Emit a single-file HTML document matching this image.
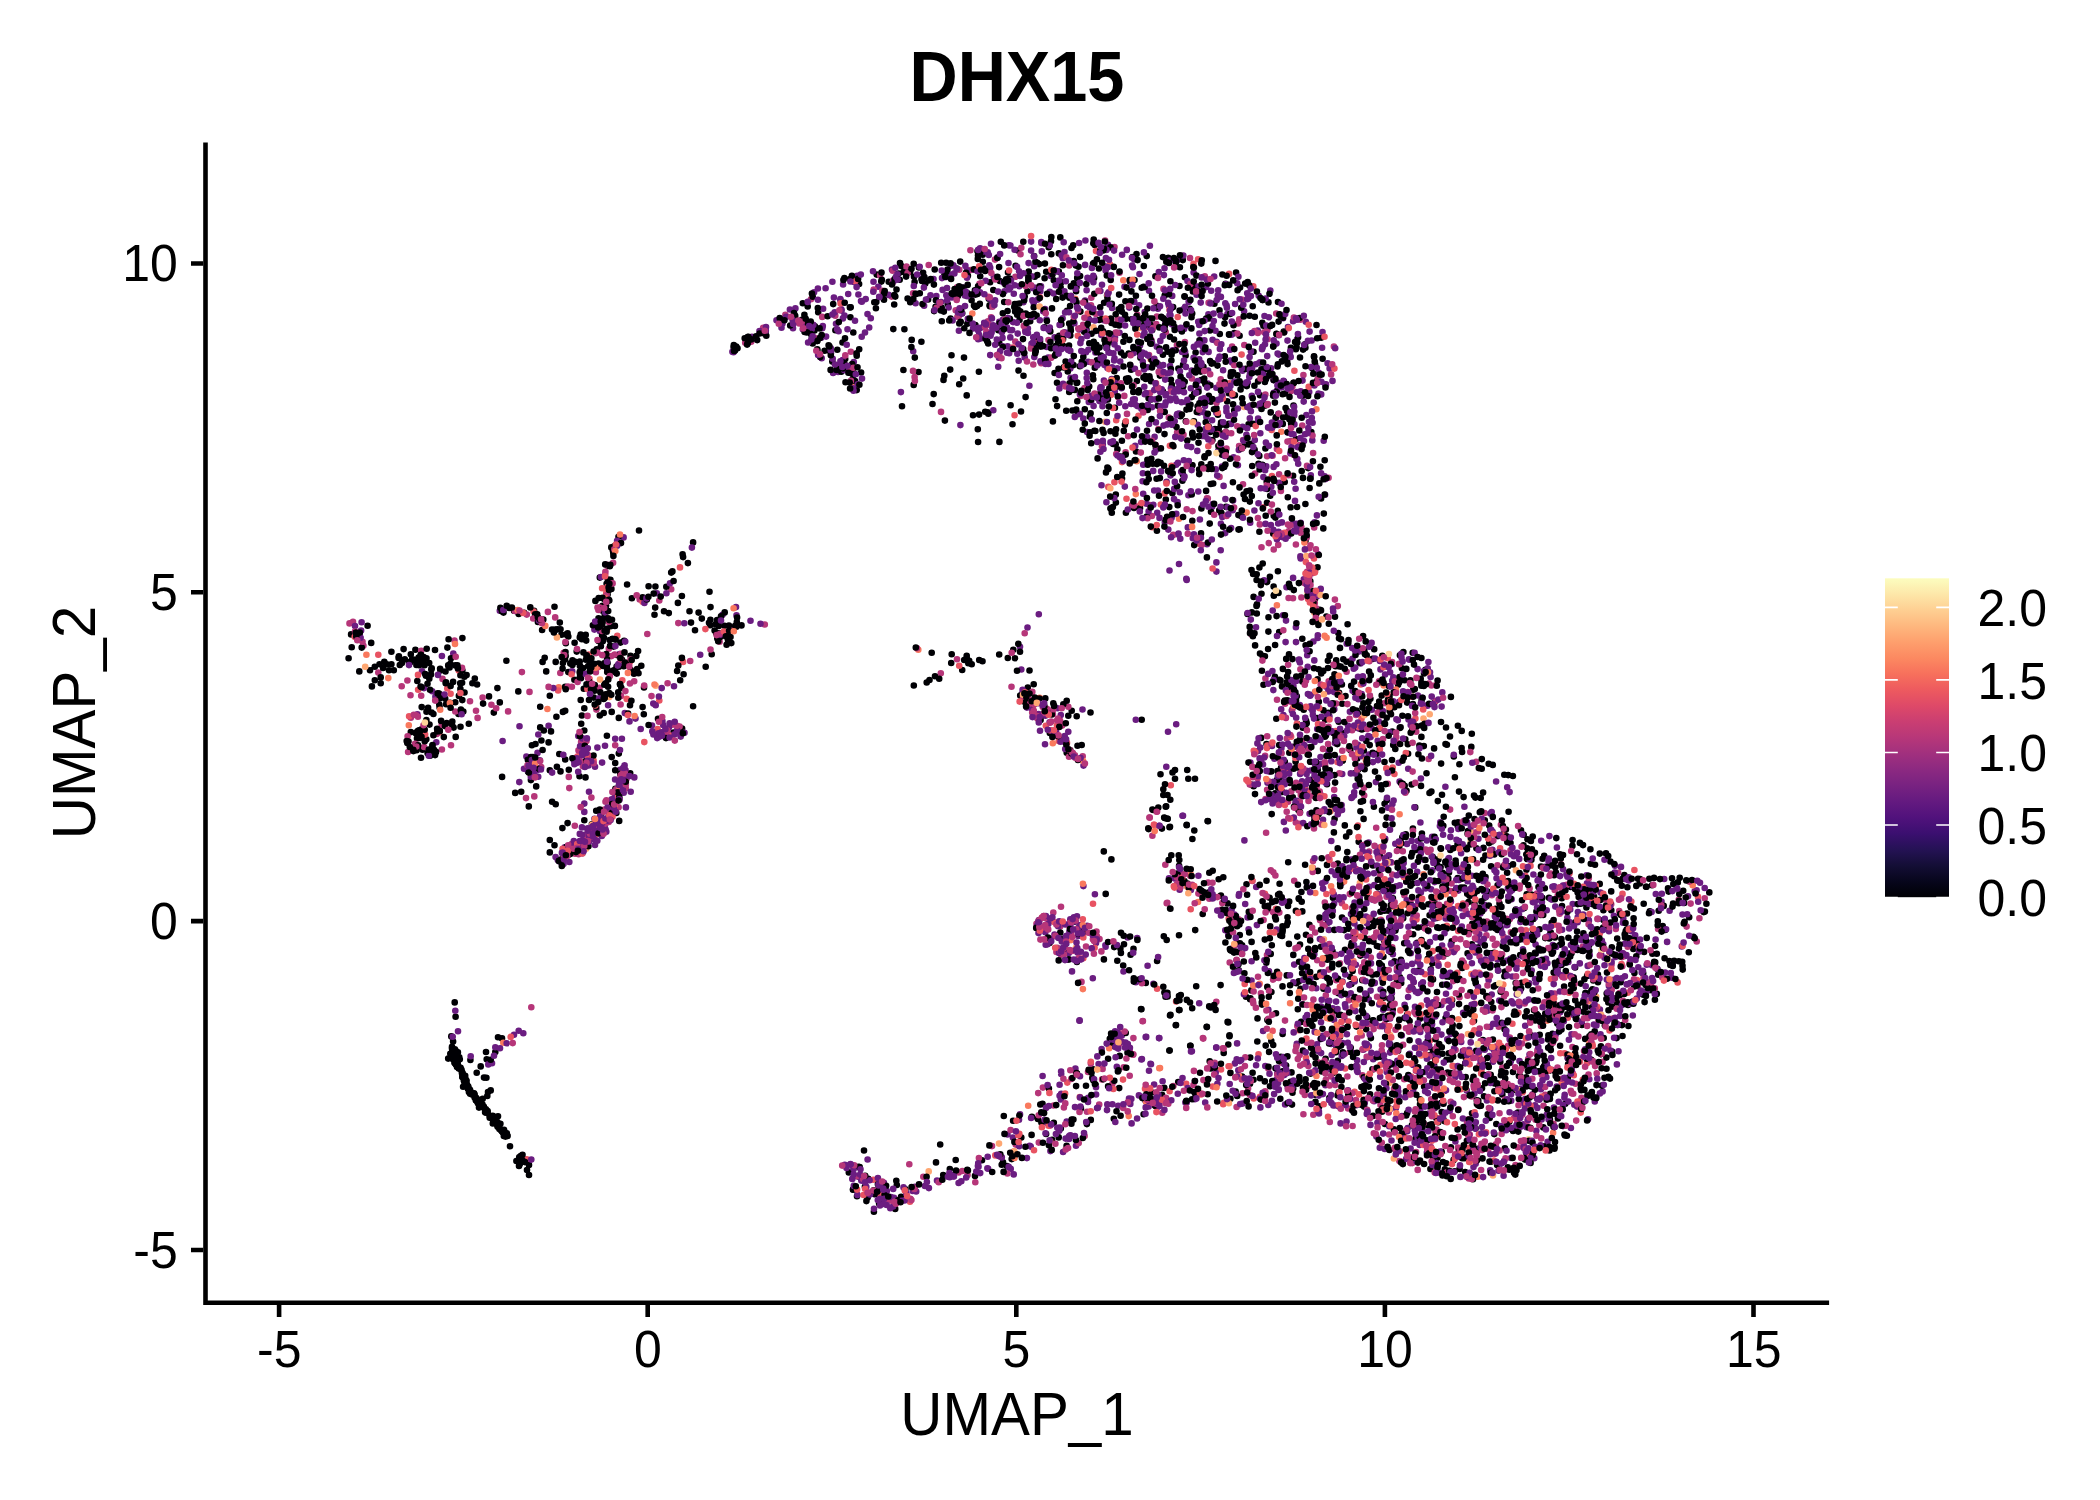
<!DOCTYPE html>
<html lang="en">
<head>
<meta charset="utf-8">
<title>DHX15</title>
<style>
html,body{margin:0;padding:0;background:#fff;}
body{width:2100px;height:1500px;overflow:hidden;}
svg{display:block;}
text{font-family:"Liberation Sans",Arial,Helvetica,sans-serif;fill:#000;}
.tk{font-size:50px;}
.ax{font-size:58.33px;}
.ti{font-size:66.67px;font-weight:bold;}
</style>
</head>
<body>
<svg width="2100" height="1500" viewBox="0 0 2100 1500">
<defs>
<linearGradient id="mg" x1="0" y1="1" x2="0" y2="0">
<stop offset="0" stop-color="#000004"/>
<stop offset="0.05" stop-color="#07061c"/>
<stop offset="0.1" stop-color="#140e36"/>
<stop offset="0.15" stop-color="#251255"/>
<stop offset="0.2" stop-color="#3b0f70"/>
<stop offset="0.25" stop-color="#51127c"/>
<stop offset="0.3" stop-color="#641a80"/>
<stop offset="0.35" stop-color="#782281"/>
<stop offset="0.4" stop-color="#8c2981"/>
<stop offset="0.45" stop-color="#a1307e"/>
<stop offset="0.5" stop-color="#b73779"/>
<stop offset="0.55" stop-color="#ca3e72"/>
<stop offset="0.6" stop-color="#de4968"/>
<stop offset="0.65" stop-color="#ed5a5f"/>
<stop offset="0.7" stop-color="#f7705c"/>
<stop offset="0.75" stop-color="#fc8961"/>
<stop offset="0.8" stop-color="#fe9f6d"/>
<stop offset="0.85" stop-color="#feb77e"/>
<stop offset="0.9" stop-color="#fecf92"/>
<stop offset="0.95" stop-color="#fde7a9"/>
<stop offset="1" stop-color="#fcfdbf"/>
</linearGradient>
</defs>
<rect width="2100" height="1500" fill="#fff"/>
<g fill="none" stroke-width="6.6" stroke-linecap="round">
<path stroke="#000004" d="M999.2 342.8h.01M1384.9 1124h.01M1475.6 1128.4h.01M1394.5 961.4h.01M431.5 752.7h.01M1386.8 800.2h.01M1507.1 872.8h.01M1392.7 1009.5h.01M804.4 314.9h.01M439 693.6h.01M1139.7 353.1h.01M1155.5 1106h.01M1336.2 660.2h.01M1270.2 926.4h.01M918.5 372h.01M1301.4 892h.01M1007.8 658h.01M1311.3 432.1h.01M864.9 1186.7h.01M502.1 776.9h.01M1489.9 953.4h.01M664 611.2h.01M1420.7 678.7h.01M1164.7 295.5h.01M1327.5 906.6h.01M440.5 670.4h.01M1482.5 1158.4h.01M532.9 757h.01M1287.5 917.2h.01M1100.9 355.6h.01M1504 833.6h.01M1191.7 397.1h.01M857 1196.2h.01M421.7 707.1h.01M1157.6 363.8h.01M1121.8 311.6h.01M1288.2 862.3h.01M1062.2 922.5h.01M1103.9 959.4h.01M1217.9 414.8h.01M1273.1 346.3h.01M1577 854.3h.01M975.4 325h.01M410.8 732.1h.01M1433.5 1162.7h.01M1341 639.2h.01M1523.5 845.3h.01M518.7 613.9h.01M1127.2 381.7h.01M1036.6 315.6h.01M1600.9 1046.3h.01M1160.6 462.7h.01M1508.6 811.8h.01M1251.8 633.7h.01M535.9 614.3h.01M1278.8 314.3h.01M1520.5 1036h.01M1407.1 702.6h.01M1207.6 821h.01M1408.1 753.8h.01M1642.8 994.6h.01M1364.6 769.2h.01M1220.9 895.6h.01M1528.1 964.9h.01M462.2 1072.4h.01M596.2 810.7h.01M1060.3 348h.01M514 610.7h.01M1372.4 1069.4h.01M1079.8 931.7h.01M539.2 618.8h.01M1186.5 409.6h.01M1433.2 842.3h.01M1466.2 847.7h.01M1265.3 379.8h.01M1293.2 1088.5h.01M1381.8 965.6h.01M1533.3 931h.01M1505.1 971.8h.01M1296.4 983.3h.01M932.5 404h.01M1227.6 903.4h.01M1310.9 1022.6h.01M530.9 780.1h.01M1297.8 756.9h.01M454.7 1002.4h.01M1077.9 414.2h.01M1257 604.4h.01M1372.7 658.9h.01M1424.8 684.1h.01M1132.4 257.1h.01M1549.3 1070.7h.01M1155.9 448.1h.01M1023.2 349h.01M1220.6 985.1h.01M1182.2 390h.01M1141.7 287.8h.01M1174.6 327.1h.01M1412.4 883.5h.01M1302.8 727.7h.01M1223.3 877.3h.01M1457.7 878h.01M1619.7 995.3h.01M1333.7 1033.2h.01M572.5 660.4h.01M1672 878.3h.01M1366.7 655.3h.01M599.8 577.6h.01M1469.5 930.4h.01M1274 595h.01M1415.5 1138.9h.01M1565.3 1103.8h.01M1182.7 380.1h.01M1248.6 424.4h.01M1201.4 508.4h.01M1587.9 1016.9h.01M607.7 565.7h.01M464.5 692.5h.01M1136 451.5h.01M426.3 739.3h.01M682.1 728.5h.01M741.5 625.4h.01M1421.5 940h.01M1268.5 302.4h.01M1429.6 915.3h.01M1337.8 863.5h.01M1403.2 918.2h.01M1189.7 308.8h.01M1464.6 867.5h.01M950.5 318.6h.01M1039.1 264.1h.01M1491 1161.7h.01M1555.2 1090.2h.01M1241 920.9h.01M1392.9 898.3h.01M1446.5 1059.8h.01M1480.9 1105.7h.01M1093 1069.2h.01M470.1 1093.7h.01M1494 952.7h.01M1266.3 962.7h.01M1366.2 1029.2h.01M1390.5 1044.9h.01M1200.8 371.6h.01M1210.1 432h.01M1476.2 1050.9h.01M1498.3 970.5h.01M861.1 372.5h.01M1323.5 1070.3h.01M1179 1010.1h.01M1455.6 860.5h.01M1243.4 446.2h.01M1643.2 973.4h.01M608.5 696.4h.01M1080 256.9h.01M1333.9 832.4h.01M1617.2 938.6h.01M1078.5 266.7h.01M1037.9 1118.9h.01M494.8 1120h.01M1417.1 1027.6h.01M1215.5 260.9h.01M472.4 683.3h.01M1094.8 244.9h.01M1044.9 263.6h.01M1580.9 983.6h.01M1288 905.9h.01M1478.8 768.1h.01M1665.3 929.9h.01M1192.2 313.5h.01M1071.7 710.8h.01M1537.4 897.2h.01M1490.7 1074.8h.01M1300.5 768.9h.01M1342.2 703.7h.01M1251.3 443.7h.01M1265.4 448.5h.01M876.7 274.6h.01M677.9 602.9h.01M1405.8 834.3h.01M1379.1 728.7h.01M1031.9 1116.9h.01M1171.4 360.5h.01M1463.6 797.1h.01M1053.8 1122.7h.01M1354.7 692.4h.01M1086.3 328.5h.01M1258.5 463.7h.01M1226 432.4h.01"/>
<path stroke="#6B1D81" d="M1288.1 535.9h.01M1345.5 1007.3h.01M1409.6 946.4h.01M1007.5 1134.5h.01M1263 764.4h.01M907.6 270.2h.01M1497.8 836.2h.01M1387.2 1030.2h.01M892 269.5h.01M1296.8 523.7h.01M1226.4 411.5h.01M1326 384.4h.01M1622.9 922.8h.01M1392.2 680.7h.01M1125.3 406.3h.01M1513.6 941.7h.01M1452.3 950.5h.01M615 796.4h.01M1572.7 904h.01M1200.7 302.6h.01M1197.3 286.5h.01M857.2 275.8h.01M1288 327.1h.01M1445.4 786.7h.01M1323 819.7h.01M1121.5 388.2h.01M1420.9 892.5h.01M1452.7 1052.6h.01M1203.7 412.3h.01M1563 1126.1h.01M1293.1 321.3h.01M656.8 593.3h.01M1114.8 391.9h.01M1391.9 664h.01M1305.8 321.7h.01M1124.5 286.7h.01M629.5 721.4h.01M577.1 853.1h.01M1111.7 379.1h.01M1107.5 368.1h.01M1595.7 1098.6h.01M1277.6 353.6h.01M1393.3 701.4h.01M1225.3 930.2h.01M1153.5 325.9h.01M1472 1095.5h.01M1155.9 422.4h.01M1216.4 571.6h.01M1489.5 1056h.01M1113.2 1042h.01M1410.7 725.1h.01M1600.5 892.6h.01M1439.9 826.1h.01M458 1031.3h.01M1070.2 1135.2h.01M1613.7 979.7h.01M1262 403.1h.01M1285.6 356.4h.01M1597.1 968h.01M1262.2 348h.01M1227.4 314h.01M1157.2 512.8h.01M1100.9 394.4h.01M1484.5 904.9h.01M1507.4 924.7h.01M1338.7 810.1h.01M1389.4 1042.6h.01M1312.3 440.4h.01M1119.5 332.7h.01M1420.1 1045.2h.01M1217.8 295.3h.01M993.8 276.9h.01M861.3 1180.6h.01M822.3 328.3h.01M1629.7 943.9h.01M1466.8 944.7h.01M1455.4 1076.9h.01M615.1 779.5h.01M1363.9 680.8h.01M1478.4 838.8h.01M795.4 308.4h.01M1346.5 1121.6h.01M584.5 839.8h.01M1179.6 889.7h.01M1539 899.6h.01M1560.2 1012.3h.01M1307.1 886.7h.01M1294.4 424.4h.01M1144.7 312.1h.01M1211.2 290.8h.01M958.9 330.7h.01M1331.4 1103.1h.01M1463.1 1012.9h.01M1156.8 346.8h.01M1508.7 888.7h.01M1281.9 522.4h.01M1307.9 694.1h.01M1031.1 1118h.01M1519.3 1005.6h.01M1212.3 506.6h.01M1430.6 677.1h.01M1160.3 340.9h.01M1541.5 949.5h.01M1321.1 473.3h.01M1364.2 965.1h.01M1358.4 699.3h.01M1047.1 1123h.01M850.8 368.5h.01M1282.8 537h.01M1109.7 352.8h.01M1339.4 1044.9h.01M1419.6 1144.9h.01M1380.6 989.5h.01M1325.1 494.8h.01M1540.9 1089.2h.01M1352.3 936.3h.01M1208.4 314.4h.01M1351.5 797.9h.01M1532.7 1062.1h.01M1331.7 906.2h.01M1353.6 1053.1h.01M1104.5 365.1h.01M1458.4 890.6h.01M1573.5 977.5h.01M840.4 300.2h.01M1131.2 404h.01M1066.7 1121.5h.01M1283.1 615.2h.01M1377.5 893.9h.01M853.8 362.1h.01M582.5 853.2h.01M1057.2 349h.01M1420.9 778.5h.01M1061.2 1093.8h.01"/>
<path stroke="#B63679" d="M1036.5 923.7h.01M1040.4 939.6h.01M1291.2 391.1h.01M1381.7 1050.5h.01M1295.8 822.5h.01M596 653.1h.01M1435.3 898.1h.01M1328.7 681.2h.01M885.7 1194.4h.01M1450.7 1101.7h.01M1476.2 761.8h.01M1541 1026h.01M1092.9 939.2h.01M1554.6 993.5h.01M1361.4 765.8h.01M1509.8 1037.5h.01M1355.8 868.8h.01M1180.6 874.5h.01M1369.5 938.7h.01M1084.5 388.1h.01M1288.6 531.3h.01M1149.8 505.1h.01M1032.2 712.5h.01M1381.3 715.3h.01M1459.5 997.3h.01M1503.9 941.4h.01M1307.6 790.9h.01M1332.1 689.6h.01M1328 1064.7h.01M1367.9 1024h.01M1123.7 1067.2h.01M671.2 589.3h.01M1165.3 864.7h.01M410.8 717.8h.01M835.3 315.7h.01M1501.4 1007.1h.01M1060.1 739.4h.01M785.4 314.7h.01M1316.7 763.1h.01M611.5 656.1h.01M596.4 709.6h.01M1557.5 1067.6h.01M1304.8 1095h.01M1468.6 1119.2h.01M1530.6 1035.2h.01M1300.9 533h.01M1431.4 1054.8h.01M1119.6 1033.3h.01M1397.4 922.8h.01M1327 951.2h.01M639.7 599.4h.01M1495.9 1144.4h.01M1455.6 1050.1h.01M1299.6 445.1h.01M1255.1 473.5h.01M1087 1111.8h.01M1335.3 1085h.01M867.7 1196.4h.01M1267.1 789.8h.01M763.2 327.7h.01M1243.1 440.1h.01M1404.4 895.3h.01M1363.3 873.3h.01M1299.7 823.8h.01M441.7 725h.01M1479.5 1065.6h.01M1238.7 952h.01M560.3 673h.01M629.9 683.5h.01M891.6 296.6h.01M1219.5 476.9h.01M1313.3 1114.7h.01M1399.1 924.1h.01M1391.5 862.5h.01"/>
<path stroke="#E85362" d="M1151.4 463h.01M1336.4 1030.2h.01M450.6 693.8h.01M596.2 834.6h.01M1050.2 357.9h.01M458.7 670.5h.01M1152.1 527.3h.01M1460.8 1089.2h.01M1117 1034.3h.01M1432.7 951.1h.01M590.9 757.3h.01M1223.2 1104.2h.01M1067.3 1082.6h.01M1479 972.9h.01M1360.8 684.4h.01M1429.8 1040.7h.01M593.6 760.5h.01M1609.5 1030.4h.01M1058.7 741.1h.01M1612.6 1018.6h.01M1310.4 1073.3h.01M1264.9 893.9h.01M1380.1 727.7h.01M995.3 1155.4h.01M1049.5 942.6h.01M1486.1 1132.4h.01M1013.9 1151.5h.01M1698 896.9h.01"/>
<path stroke="#FEA772" d="M1014.4 1151.3h.01M1389.4 1082.9h.01M895.5 1202.3h.01"/>
<path stroke="#F9795D" d="M1330.5 811.2h.01M1150.6 359.3h.01"/>
<path stroke="#000004" d="M1230.4 1098.8h.01M1410.9 904.5h.01M1369.1 927.2h.01M1337 800.2h.01M1329.7 770.2h.01M1093.3 379.2h.01M1338.5 993.2h.01M1293.6 746.7h.01M1240.1 287.6h.01M1645.7 985.1h.01M1442.4 909.8h.01M1042.5 1103.9h.01M1004.2 302h.01M1388 699.7h.01M1544.8 888.2h.01M1183.5 328.2h.01M1291.5 1072.4h.01M1008 272.6h.01M1438.4 859.4h.01M1654.9 999.8h.01M493.7 1122.1h.01M1513.4 1089.9h.01M960.9 292.5h.01M1275.9 919.5h.01M1379.1 920.5h.01M1252.7 306.2h.01M731.3 643.1h.01M1539.5 929.3h.01M1596.5 1085.1h.01M1526.6 1154h.01M1225.5 283.9h.01M1399.2 908h.01M421.5 729.4h.01M1526.3 1077.3h.01M1262.7 563.5h.01M466.1 1085.1h.01M1219.8 334h.01M1475.1 929.7h.01M1354.7 727.6h.01M1464.6 1014.9h.01M1385.6 824.9h.01M1200 1072.7h.01M453.9 1050.1h.01M962.2 670h.01M1347.3 852.1h.01M1434.5 702.6h.01M1437.8 911.9h.01M859.1 284h.01M1114.9 407.7h.01M1151.1 399.5h.01M989.6 305.3h.01M944.3 275.5h.01M1094.4 430.8h.01M1606 853.4h.01M1589.1 945.2h.01M1050.7 713.6h.01M1464.1 887.6h.01M1476.4 919.2h.01M1106.8 413h.01M638.1 651h.01M1531.4 859.7h.01M1508.4 866h.01M1340.5 1014.7h.01M1464.5 1157.2h.01M1090.5 712.5h.01M1027.8 687.5h.01M1108.5 320.8h.01M934.1 311.1h.01M853.8 373h.01M1087.9 305.8h.01M1396.7 982.6h.01M1157 305.8h.01M1383.3 991.8h.01M1136.7 318.2h.01M1165.8 499.5h.01M1361.4 767.4h.01M489.7 1117.7h.01M1343.9 1028.6h.01M1149.4 376.3h.01M1424.1 1164h.01M579.5 776.2h.01M1056 353.6h.01M1590.8 863.7h.01M1337.8 1060.7h.01M619.2 820.9h.01M518.3 691.4h.01M1382.3 655.8h.01M1124 944.2h.01M1323.3 670.9h.01M693.1 542.4h.01M1172.4 493.2h.01M1266.5 880.8h.01M1211 511.7h.01M1543.3 1127.4h.01M1320.1 1016.1h.01M1436.4 1118.2h.01M642.6 707.1h.01M1201.2 380h.01M1403.4 652.1h.01M1302.3 911.4h.01M612 619.7h.01M1413.2 689.7h.01M837.3 349.8h.01M832.3 361.6h.01M426.4 720h.01M1306.7 723.2h.01M1625.7 931.4h.01M1413.2 721.6h.01M1088.5 318.7h.01M1184.7 381.8h.01M1076.9 961.9h.01M1318.7 669.2h.01M1267.8 376.2h.01M1607 972.6h.01M1111.5 322.9h.01M1285.2 782.1h.01M1222 454.8h.01M1272.3 902.1h.01M1191.4 328.4h.01M1437.5 1157.7h.01M980.2 276.3h.01M417.3 681h.01M1167.6 996.4h.01M1239.6 335.7h.01M1582 890.1h.01M1164.5 434.1h.01M1688.8 952.3h.01M1415.9 850h.01M1611.5 999.3h.01M456.8 1060.5h.01M1632.7 1001.6h.01M1305.5 540.7h.01M464.9 1081.5h.01M1535.7 1017.9h.01M858.4 1166.8h.01M1511.3 1128.9h.01M1330.7 804.7h.01M1400.6 1064.9h.01M1526.4 869.7h.01M1129.7 301.5h.01M1402.2 865.2h.01M1358 769.8h.01M1380.4 911.8h.01M783.3 319.7h.01M462.3 1077h.01M421 757.8h.01M449.6 667.4h.01M1550.5 1045.5h.01M1180 881.6h.01M1472.3 923.8h.01M811.9 336.4h.01M1080.1 276.1h.01M600.1 817.5h.01M1185.8 421.3h.01M1497.1 1165h.01M1611.3 910.3h.01M1580.6 903.7h.01M1432.8 1050.1h.01M1014.8 304h.01M1289.3 752.8h.01M975 1175.9h.01M1327 864.9h.01M888.7 281.7h.01M1440 1132.7h.01M1015.1 311.5h.01M1305.4 347.7h.01M1262.6 655.7h.01M1384.1 940.4h.01M1452.7 1025h.01M1413.1 934.3h.01M480.7 1066.4h.01M842.5 342.5h.01M1241.9 953.8h.01M1247.5 614h.01M1270.2 495.7h.01M425.9 675.7h.01M1286.1 1065.5h.01M736.8 622.1h.01M583.8 688.8h.01M1612.1 1006.6h.01M1384.6 666.8h.01M1591.3 1059.8h.01M1437.1 864.7h.01M1545.3 1013.6h.01M1295.9 349.3h.01M1228.8 423.9h.01M1296.8 741.7h.01M1573.3 948.8h.01M1622 1025.1h.01"/>
<path stroke="#6B1D81" d="M1023.4 302.2h.01M1187.8 527.4h.01M1348 1090.2h.01M1009.2 289.4h.01M1321.1 1053.1h.01M1535.8 1018.1h.01M538.2 776.8h.01M1303.7 401.6h.01M1010.7 1168.9h.01M722.5 614.8h.01M1378.5 896.3h.01M1099 363.5h.01M1038.8 614.2h.01M1480.7 942.4h.01M1342.4 866.3h.01M928.9 1188.1h.01M1057.5 708.3h.01M1388.9 890.1h.01M853.9 281.9h.01M1417.2 871.8h.01M1594.8 1101.4h.01M1578.7 1101.8h.01M1545.9 1129.5h.01M1440.9 911.5h.01M1336.1 954.8h.01M1146.4 464h.01M853.4 1167.4h.01M1340.6 1123.4h.01M1438.8 896.5h.01M1216.4 562.4h.01M1390.6 1108.8h.01M1232.7 510.3h.01M1618.5 1051.2h.01M1269.2 771.6h.01M1180.3 538.8h.01M1213.3 897.8h.01M1272.6 803.4h.01M1306.8 770.8h.01M1105.6 270.4h.01M1336.1 1001.6h.01M1263 374.1h.01M1050.7 275.9h.01M1045.7 944.8h.01M1232.1 362.4h.01M865.7 299.1h.01M1247.6 917.4h.01M978.2 330.4h.01M1070.6 330.6h.01M1526.3 938.6h.01M1587.7 965.9h.01M1694.7 891.3h.01M1652 965.2h.01M1381.2 925.7h.01M624.8 713.1h.01M575.6 848.5h.01M1038.5 933.1h.01M1257.7 330.5h.01M1153.4 983.8h.01M1370.6 737.1h.01M1485.1 1133.6h.01M605.9 820.4h.01M1534.3 1158.2h.01M1086.8 372.7h.01M1436.2 904.8h.01M1492.4 849.8h.01M998.9 357.7h.01M1316.3 988.3h.01M1613.9 915.7h.01M1086.7 335.8h.01M1198.5 388.6h.01M1215.5 330.7h.01M759.5 331.1h.01M1307.8 971.3h.01M1321.1 795.4h.01M1441.4 1034.6h.01M605 745.7h.01M1273.6 380.1h.01M613.6 808.8h.01M1410.4 684h.01M1149.3 1098.8h.01M1199.4 333.6h.01M1430 672.3h.01M1362.9 944.9h.01M1531.7 970.6h.01M1408.9 659.2h.01M1318.8 372.7h.01M700.2 654.8h.01M1368.8 1046.2h.01M980.1 248.2h.01M1325.4 1085.3h.01M1282.7 902.5h.01M1450.1 972.8h.01M1549.4 836.1h.01M1250.4 762.5h.01M1329.6 368.6h.01M1297.3 459h.01M602.2 831.6h.01M1179.6 385.9h.01M1135.2 445.9h.01M1310.6 706.2h.01M1412.7 979h.01M1601.9 940.9h.01M1696.6 890.3h.01M1300.7 558.5h.01M653.3 703.6h.01M1206.2 287.1h.01M1154.5 452.5h.01M1112.1 367.4h.01M1324.6 476.4h.01M1671.7 977.8h.01M1313.7 402.6h.01M1275 784.2h.01M1588.5 919.9h.01M996.8 339.5h.01M1354 795.6h.01M1168.9 305.5h.01M1022.4 693.2h.01M1435.9 1162.9h.01M1342 882.8h.01M1479.4 1057.7h.01M1391.3 900.3h.01M1406.2 1130.2h.01M1328.9 929.9h.01M1199.2 1003.3h.01M1101.6 1049h.01M1124.8 486.6h.01M1384.7 1149h.01M619.7 791.7h.01M1621 866.9h.01M1079.5 1020.7h.01M1395.4 938h.01M1388.9 1044.6h.01M533.3 763.6h.01M1149 290.7h.01"/>
<path stroke="#B63679" d="M1450.1 809.6h.01M1054.2 735.8h.01M1288.1 801.8h.01M1611.2 904.3h.01M808.8 329.1h.01M1239.2 319.4h.01M1041.2 363.2h.01M1294 455h.01M1279.1 474.2h.01M1158.4 429h.01M1071.3 1078.9h.01M1163.5 288.9h.01M599.5 687.9h.01M1252.4 881h.01M1042.9 1087.6h.01M1386.6 896.7h.01M1459.9 1157h.01M353 621.9h.01M1046 925.4h.01M571.7 844h.01M1507.7 1084h.01M1454.6 1066.7h.01M1114.5 247h.01M1285.1 703.7h.01M1346.1 1126.3h.01M1356 1100h.01M1699.4 918.2h.01M1450.6 891h.01M1678.7 899.9h.01M1222.3 903.1h.01M1554.7 889.9h.01M1435.8 701h.01M1152.4 835.8h.01M607.2 564.9h.01M1582.7 946.7h.01M995 259.6h.01M958.7 1172.5h.01M1463.8 962.7h.01M1080.7 395.9h.01M1502.3 1067.5h.01M1580.9 938.2h.01M1381.6 850.9h.01M1564.2 977.5h.01M1362.4 1075.2h.01M1508.1 1045.8h.01M1186.5 421.7h.01M1388.7 886.3h.01M1395.5 1029.7h.01M1341.7 1028.9h.01M1535.5 1119.8h.01M1538.2 988.5h.01M1081.5 981.9h.01M1386.8 856.8h.01M1117.7 319.4h.01M1415.9 1070.7h.01M1435.8 1048.7h.01M1436.5 1129.5h.01M1400.5 866.8h.01M1214.2 514.8h.01M1455.3 922.6h.01M1257.6 778.2h.01M1374.3 1069.1h.01M1388.7 1112.5h.01M1619 899.7h.01M1554.7 1036.7h.01M1472.8 1058h.01M728 632.6h.01M1293.9 317.5h.01M1455 950.1h.01"/>
<path stroke="#E85362" d="M580.7 737.1h.01M1518.7 963.7h.01M1108.3 486.9h.01M439.3 732.5h.01M610.6 812.4h.01M1384.4 882.4h.01M1412.3 696.7h.01M1446.8 925.9h.01M1345.2 1068.5h.01M855.2 281.3h.01M1337.4 762h.01M1415.8 1117.9h.01M1440.6 1092h.01M1324.4 796.3h.01M659.3 700.5h.01M1494 1160.7h.01M1077.8 335.7h.01M1380.5 1064.7h.01M1550.9 979h.01M1481.2 1073.6h.01M1145 1088.8h.01M598.6 667.1h.01M1109.9 264.3h.01M1586.9 1063.3h.01M1363.9 1099.5h.01M617.3 635.9h.01"/>
<path stroke="#F9795D" d="M1304.4 542.6h.01M1553.1 1132.7h.01M1299.4 996.2h.01M854.5 385.5h.01M1128.7 1116.1h.01M1276.9 605.3h.01M1344.1 881.4h.01M1481.8 922.3h.01M1433.8 1151.1h.01"/>
<path stroke="#FEA772" d="M1596.2 996.8h.01M1323.9 939.3h.01M1409.4 1094.6h.01"/>
<path stroke="#6B1D81" d="M606.3 831.7h.01M1024.3 697.8h.01M1156.6 449.4h.01M1488.5 837.7h.01M1045.3 715.7h.01M1258 751.1h.01M1070.3 919.4h.01M621.9 738.8h.01M1419.3 1080.7h.01M1143 1096.9h.01M1086 352.3h.01M1008.8 245.2h.01M1347.2 958.1h.01M609.1 814.5h.01M623.6 537.4h.01M825.6 288.2h.01M1266.3 466.4h.01M605 824.7h.01M1117.4 1032.7h.01M1567.3 917.7h.01M1391.9 993.3h.01M1431.1 889.3h.01M1323.7 440.8h.01M1190.9 889.9h.01M1295.9 627.2h.01M1511.2 1100.8h.01M1426.9 1152.5h.01M1349.9 711.8h.01M1274.4 758.8h.01M1279 781.3h.01M963.7 287.5h.01M1352.6 690.7h.01M1384.7 867.8h.01M1161.1 471.4h.01M1276.2 1079.9h.01M1103.9 380.5h.01M1341.3 1066.2h.01M1121.8 1035.5h.01M1513.9 856.2h.01M1390 711h.01M422 671.3h.01M578.2 771.7h.01M1088.2 361.7h.01M1250.2 522.7h.01M1496.5 878.2h.01M1118.2 1105.8h.01M1428.4 662h.01M1620.9 1003.9h.01M1179 413.6h.01M826.1 336.6h.01M1420.4 1110h.01M1144.7 394.3h.01M1353.5 1053.3h.01M1103.7 357.1h.01M924.9 1186h.01M832.4 281.7h.01M526.4 756.5h.01M1281.4 748.2h.01M1024.1 353.1h.01M1220.9 296.9h.01M1289.4 525.2h.01M1080 934.7h.01M1569.2 872.5h.01M1447.3 1039.3h.01M1586.2 1007.1h.01M1389 855.2h.01M1510.4 958.8h.01M1432.3 870.4h.01M1007 352.7h.01M1341.7 1056h.01M867.6 1159.5h.01M883.9 1182.9h.01M1387.6 1007.7h.01M1392.9 954.2h.01M858.9 1176.9h.01M1300.4 556.4h.01M1217.2 475.6h.01M1080.4 343.1h.01M1333.5 897.8h.01M1070.6 377.8h.01M789.9 309.5h.01M1103.9 320.2h.01M1218.3 450.5h.01M1356.4 747.5h.01M991.6 332.5h.01M1533.4 874.5h.01M980.6 338.5h.01M1359.8 870.2h.01M1157.9 308.7h.01M1549.8 1000.8h.01M1102.8 444.3h.01M894 1197.9h.01M1313.4 641.5h.01M1413.2 1089.6h.01M1361.4 877.2h.01M1334.1 1019.9h.01M1328.5 751.9h.01M1045.3 932.3h.01M623.7 792.8h.01M1287.2 1073.1h.01M1523.6 1124.4h.01M1263.8 404.4h.01M1563.1 869.3h.01M1019 1119.7h.01M1567.7 1017.1h.01M1216.6 341.8h.01M1434.6 882.1h.01M1455.8 918.8h.01M951.1 274.5h.01M1525.1 1083.7h.01M1176 875h.01M1406.3 881.8h.01M1419.6 991.7h.01M882 296.6h.01M1034.2 287.6h.01M1108 244.9h.01M1425.9 1054.9h.01M1383.4 1095.6h.01M1380.5 669.4h.01M1234.9 1063.4h.01M1342.2 774h.01M1454.1 1048.6h.01M846.7 344.8h.01M1485.2 959.6h.01"/>
<path stroke="#000004" d="M455.8 1063.2h.01M1134.6 460.6h.01M929.5 680h.01M476.7 1072.7h.01M1522 900.3h.01M940.2 1144.5h.01M1373 1115.9h.01M490.7 1090.4h.01M1614.2 876.3h.01M1242.1 1076.5h.01M452 1046.8h.01M1204.2 378.5h.01M1364.1 1106.6h.01M853 1189.8h.01M1061.3 282.2h.01M1654.1 964.8h.01M1420.5 1114.8h.01M1122 478.5h.01M1298.2 998.8h.01M1333 897.7h.01M448.9 666.2h.01M1434.1 1065.3h.01M1406 1094.3h.01M1250 1083.8h.01M1317.1 718h.01M570.3 663.4h.01M1363.1 636h.01M877.2 1191.4h.01M1267.3 986.9h.01M1254.6 449.9h.01M1278 302h.01M1190.5 404.7h.01M1273.8 595.7h.01M1399.9 655.3h.01M1423.2 906.8h.01M1654 877.9h.01M1210.8 1068.5h.01M1175.8 1025.3h.01M1376.9 1067.7h.01M1499.5 903.6h.01M1427.8 958.8h.01M1549 897.8h.01M1261.1 737.9h.01M1390 949.4h.01M1533.4 918.9h.01M1315 1094.7h.01M1622.5 1036h.01M1141 1009h.01M1446.7 928.6h.01M895.2 1208.9h.01M1161.9 828.6h.01M1383.2 935.9h.01M1058.8 271.6h.01M892.6 281.9h.01M1175.9 262.6h.01M1076.5 302.4h.01M1250.3 405.7h.01M1478.9 919.6h.01M1427.4 1022.1h.01M1110.7 508.8h.01M1616.9 1002.5h.01M458.5 714h.01M1328.1 922.5h.01M1321.1 498.4h.01M1064.6 951.9h.01M1597.9 974.6h.01M1052.1 1139.9h.01M1458 826.3h.01M1279.2 745h.01M1515.2 1040.1h.01M847.7 369.4h.01M455.6 1016.7h.01M1654.2 961.7h.01M853.3 332.5h.01M845.1 365.1h.01M1591.5 1093.4h.01M1083 932.6h.01M1070.3 750.2h.01M1345.3 869.4h.01M1169.5 1050.5h.01M982 1160.2h.01M410.7 662h.01M1362.3 980.3h.01M1192.3 434.2h.01M607 659.4h.01M568.8 769.8h.01M733.6 347.3h.01M470.4 1060h.01M1266.5 744.1h.01M1113.8 1118.8h.01M1271.7 814.1h.01M1276.8 391h.01M1482.9 1040.1h.01M1224.1 899.4h.01M944.9 420.6h.01M1484.8 820.2h.01M1217.5 365.6h.01M1543.8 1066.8h.01M1273.6 380.1h.01M1162 1094.7h.01M1449.8 976.8h.01M1015 658.3h.01M1155.5 307.3h.01M1361.4 727.2h.01M1363.8 1077.2h.01M1134.5 280.1h.01M431.6 712.5h.01M1121 932.7h.01M673.5 732.5h.01M1413.2 1082.2h.01M1348.5 640.1h.01M1395.3 749h.01M1548.4 1035.4h.01M367.6 625.7h.01M1076.1 1086.1h.01M1315.1 364.3h.01M1471.1 1127.3h.01M1506.6 948.9h.01M1350.2 1052h.01M506.3 1135.8h.01M1264.9 656.3h.01M1321.1 337.7h.01M1294 701.6h.01M1532.8 929.4h.01M1206.4 1080.5h.01M1182.9 474.4h.01M429.5 724.6h.01M1535.9 1063h.01M630.5 655.7h.01M505.5 1136.6h.01M1194.2 393.7h.01M1144.6 321.7h.01M1102 318.7h.01M1616.3 985.9h.01M1428.6 1125.6h.01M1416.3 1094.7h.01M1651.3 990.3h.01M1505.1 971.8h.01M1494.6 1083.5h.01M534.1 610.8h.01M1551.7 922.7h.01M1406.5 790.7h.01M450.4 663.9h.01M1590.4 849.3h.01M607.2 671.9h.01M1269.9 576.8h.01M735 350.6h.01M460.5 726.7h.01M524.1 612.7h.01M1501.2 921.6h.01M1040.3 1104.5h.01M1555.9 968h.01M1310.3 581.3h.01M630 705.3h.01M1500.9 1053.4h.01M590.1 685.1h.01M910.1 271.9h.01M984.2 326h.01M1213.2 483.5h.01M1441.3 1102.8h.01M1470.3 1053h.01M1470.5 895.5h.01M1335.8 682.5h.01M1106.8 275.5h.01M1303.1 349.6h.01M1598 982.3h.01M586.2 640.6h.01M485.7 1110.9h.01M956.7 268.6h.01M1412.7 652.8h.01M453.1 681.9h.01M1165.5 996.8h.01M494.7 1119.6h.01M1229.5 1036.2h.01M462.1 682.8h.01M1117.9 1071.4h.01M1452.2 1028.4h.01M1432.4 963.2h.01M1212.7 870.7h.01M1453.8 756.5h.01M1271.4 992.1h.01M1592.2 904.1h.01M1342.6 733.1h.01M1438 866.9h.01M1093.7 341.7h.01M602.5 605.9h.01M964.3 328.2h.01M1478.4 1148.8h.01M1193.9 421.3h.01M852.2 364h.01M1434.2 880.8h.01M1474.4 979.1h.01M1538.3 962h.01M614.9 639.3h.01M1284.8 761.7h.01M462.4 670.6h.01M1215.6 1009.9h.01M1282.8 423.9h.01M818.2 312.3h.01M1610.5 992.1h.01M1246 996.8h.01M1120.6 1115.7h.01M450 702.8h.01M549.8 770.2h.01M433.4 714h.01M987.6 412.3h.01M600.7 814.2h.01M1273.7 515.7h.01M1282.9 668.9h.01M1395.4 930.6h.01M710.2 625.3h.01"/>
<path stroke="#B63679" d="M1334.9 599.6h.01M923.3 1176.7h.01M1241.7 299.6h.01M1112.5 1083.5h.01M1430.9 983.9h.01M1090.8 1063.6h.01M526 798.1h.01M1589.3 893.9h.01M568.8 776.9h.01M613.2 801.5h.01M1564.7 885.5h.01M1447 903.8h.01M578.6 854.3h.01M1319.7 791.6h.01M1162.3 1112.7h.01M1533.5 901.9h.01M363.4 645.8h.01M874.3 1193.9h.01M970.5 270.1h.01M1272.6 455.8h.01M1149.5 817.5h.01M613.1 562.8h.01M1325.8 1079.9h.01M1025.2 330.2h.01M1371 863.4h.01M1260.9 993.3h.01M1038.4 921h.01M1484.6 813.1h.01M1427.2 1149.1h.01M1611.7 989.7h.01M1296.1 782.9h.01M599.8 607.6h.01M1342.3 750.7h.01M955.7 310.3h.01M378.3 672.6h.01M1304 997.5h.01M1407.5 1078.7h.01M957.2 287.4h.01M1615.8 929h.01M1431.9 902.4h.01M1287.5 441.6h.01M1061.1 954.7h.01M1404.2 1079.3h.01M1517.3 1122.2h.01M1212.5 882.7h.01M1007.4 1173.5h.01M910.4 1198.7h.01M1119.8 323.6h.01M1416.2 731.8h.01M1394 1088.8h.01M1387.8 783.8h.01M1261.5 547.2h.01M1362.7 1049.7h.01M868.7 1194h.01M608.8 648.7h.01M1179.8 878.1h.01M1207 498.3h.01M1380.5 1105h.01M1474.2 837h.01M892.7 270.8h.01M1643.5 978.1h.01M1037.4 718.5h.01"/>
<path stroke="#E85362" d="M1132.5 447.6h.01M1627.7 992.8h.01M1065.1 1093.5h.01M1677.6 982.4h.01M1366.1 879.4h.01M409.1 716.2h.01M1212.8 1086.6h.01M358.1 634.6h.01M1504.5 835h.01M1525.3 875.9h.01M910 1201.7h.01M1337.8 685.8h.01M425.1 734.6h.01M1253.3 286.4h.01M1458.2 930.9h.01M1085 927.9h.01M1387.8 658.2h.01M1547.8 1071h.01M1411.2 1076.6h.01M1229.6 383.3h.01M642.6 601.7h.01M1186.2 1083.7h.01"/>
<path stroke="#F9795D" d="M1160 1068h.01M1458.3 1019.3h.01M1198 902h.01M1239 1076.1h.01M1336.9 1024.8h.01"/>
<path stroke="#FEA772" d="M1468 1034h.01M607.2 630.5h.01M609.3 697.1h.01M1140.2 327.8h.01M1390.1 1035.1h.01M586.1 848.7h.01"/>
<path stroke="#B63679" d="M1148.6 327.2h.01M1334.2 789.8h.01M1335.7 1105.5h.01M1062.1 725.6h.01M898 1201.9h.01M1345 1053.6h.01M1517.9 1147.3h.01M1295.9 544.5h.01M1105.1 240.6h.01M882.1 1191.1h.01M407.6 736.2h.01M856.3 1176.3h.01M1467 1122.3h.01M1463.9 1097.1h.01M455.3 711.5h.01M1294.2 880.7h.01M1491.9 895.2h.01M1514.2 1117.8h.01M1637.9 986.3h.01M529.5 691.9h.01M1056.4 952h.01M621 695.9h.01M576 757.9h.01M1060.1 926.5h.01M1455 1156.4h.01M1156.9 316.6h.01M1219.4 510.3h.01M1399.4 1161.1h.01M1392.4 930.3h.01M611.3 806.8h.01M1349.8 894.1h.01M1561 864.3h.01M1406.9 1078.3h.01M1243 484.2h.01M1451.8 946.4h.01M959 315.8h.01M1431.6 1016.6h.01M1250 1095h.01M1619.2 911.1h.01M1312.7 867.8h.01M1488.3 1149.3h.01M1537.4 1050.4h.01M1435.5 1131.5h.01M1036 341h.01M1179 873.7h.01M1392.8 1079.9h.01M1379.6 1026.2h.01M888 1199.3h.01M1337.8 606.1h.01M1407.9 692h.01M1443.2 956.7h.01M575.1 853.7h.01M1321.4 824.4h.01M1554.1 1003.8h.01M731.1 628.3h.01M1032.3 691.9h.01M1340.6 735.5h.01M1373.8 1133.2h.01M1595.1 1066.1h.01M1348.9 1000.2h.01M719.6 641.8h.01M1407.1 876h.01M581.1 742h.01M1027.9 698.3h.01M1457.9 1147.6h.01M1384.6 1024.3h.01M1299.7 747.2h.01M597.5 607.6h.01M1349.1 1012.1h.01"/>
<path stroke="#6B1D81" d="M652 725.6h.01M502.6 741h.01M1445.6 918.5h.01M589.3 831.9h.01M1390.1 1018.4h.01M1454.5 917.6h.01M1344.6 1019.5h.01M1175.1 885.7h.01M1426.3 1019.1h.01M1079.6 1020.4h.01M958.6 1183h.01M1300.7 522.7h.01M1460 871.3h.01M1230.9 374.6h.01M1070.3 350.9h.01M1584.3 939.2h.01M1348.1 725.8h.01M1449.7 1110.9h.01M1389.2 1126.3h.01M1460 929.5h.01M1114.5 1037.3h.01M1538.8 878.9h.01M625.8 777.9h.01M1144.5 332.8h.01M1002.5 337.9h.01M1109.1 339.9h.01M1068.8 953.1h.01M1185.5 313.5h.01M1274 679.8h.01M1083.5 765.6h.01M1303.8 579.3h.01M1379.1 847.8h.01M1199.2 359.3h.01M1296.2 717.8h.01M1263.1 1031h.01M1198.3 491.5h.01M1601.1 954.3h.01M1529.2 961.8h.01M1257.4 743.4h.01M1003.4 329.1h.01M1053.7 293.5h.01M862 378.6h.01M1326.3 700.4h.01M1481.8 818.8h.01M1222 515h.01M1324.1 975.9h.01M1374.1 1101.2h.01M1390.6 932.4h.01M1631.4 931.2h.01M1635.2 935.2h.01M1065.8 281.2h.01M1379.8 1147.7h.01M1291.8 710.5h.01M1482.8 962.9h.01M1298.8 660h.01M1507.1 960.6h.01M1370.6 990.6h.01M1355.3 909.5h.01M967.1 270.4h.01M1183.3 309.3h.01M830.8 348.4h.01M1142.8 473.2h.01M1400.2 870.4h.01M1027.9 333h.01M1315.5 782.4h.01M1594.8 991.3h.01M1256.2 887h.01M1290.4 453.5h.01M1234.5 914.5h.01M548.6 725.7h.01M1360.5 663.5h.01M1425.4 888.4h.01M1039.8 320.3h.01M980.3 327.9h.01M1207 544.3h.01M1314.6 741.9h.01M1562.1 929.8h.01M1372.9 762.1h.01M1473.5 1167.1h.01M821.7 358.3h.01M1494.9 916.4h.01M1146.5 503.8h.01M1233.1 500.4h.01M1332.7 1008.2h.01M857.4 1194.9h.01M958.7 311.8h.01M1125.5 1042.6h.01M1343.6 897.4h.01M624.5 775.4h.01M1133.7 353.1h.01M593.3 838.5h.01M1187.7 1088.1h.01M417.4 714.2h.01M1259.6 758.4h.01M1366.3 1080.8h.01M1149.9 245.7h.01M619.5 654.1h.01M1646.7 964.7h.01M1171.9 424.8h.01M1164.5 268.2h.01M1409.6 659.8h.01M1242.5 370.7h.01M1097.2 441.9h.01M1547.4 963.2h.01M1371.4 728h.01M1059 952.9h.01M1350.7 993.3h.01M1554.1 1019.3h.01M833.1 373h.01M1513.2 1003.4h.01M1357.1 1060.2h.01M1491.2 954.3h.01M1628.5 928.8h.01M1473.4 910.1h.01M960.4 425.1h.01M1511.7 961.4h.01M1484.5 1041.5h.01M1272.4 671.1h.01M782.5 323.6h.01M1534.6 1000.7h.01M563.5 864h.01M1569.2 928.4h.01M1517.1 915.1h.01M1169 878.4h.01M1029.6 1145.7h.01M1428.8 1016.5h.01M1024.7 357.4h.01M1048.2 357.5h.01M1220.7 550.2h.01M1251.6 961.2h.01M1516.4 968.7h.01M1413.5 916h.01M1305.8 1088.4h.01M1225.4 436.7h.01M1484.1 891.4h.01M1104.9 400.8h.01M1547.6 1141.7h.01M1367.4 1057.1h.01M1339.2 758.8h.01M1078.3 935.9h.01M1624.9 976.3h.01"/>
<path stroke="#000004" d="M1704.9 911.5h.01M1284.7 482h.01M984.2 268.5h.01M1552.5 1033.8h.01M1063.1 338.9h.01M1465.2 1172.1h.01M1195.5 1094.9h.01M1070.6 326.9h.01M1338.3 633h.01M1275.8 900.9h.01M1060.8 1128.5h.01M765.6 331.6h.01M993.3 290h.01M393.8 670.2h.01M1601.6 1068.2h.01M1141.7 719.7h.01M1388.4 910.7h.01M1554.6 936.7h.01M1560.1 944.8h.01M1312.5 1026.1h.01M1373.9 806.8h.01M593.8 697.6h.01M1047.7 711.1h.01M1093.2 343.9h.01M1169.9 336.7h.01M966.7 658.3h.01M1599.7 883.9h.01M1575.2 1000.2h.01M1324.7 460.3h.01M1010.2 1152.7h.01M1338.7 721.8h.01M1095.6 1084.8h.01M1421.5 1106h.01M1324.2 1083.3h.01M1273.6 586.5h.01M1292.8 797.4h.01M615.4 788.7h.01M817.2 350.5h.01M1400.6 727.2h.01M881.3 281.6h.01M1442.2 984.7h.01M596.7 649.4h.01M426.5 658.3h.01M617.3 544.5h.01M1113.1 444h.01M463.1 1086.8h.01M1315.6 1012.3h.01M1364.5 938h.01M1625.4 1002.8h.01M1163.3 318.3h.01M1586.4 907.5h.01M1483.1 792.6h.01M1493.9 986.5h.01M1234 952.6h.01M1298.8 981.4h.01M607.6 594.4h.01M1411.9 1125.4h.01M1488 975.8h.01M1248.5 762.6h.01M605.8 683.4h.01M1237.1 952h.01M1639.7 946.7h.01M1329.1 979.4h.01M1615.4 984.5h.01M1093.7 239.6h.01M1103.1 331.4h.01M510 1146.3h.01M1455.9 1034.9h.01M1644.1 951.9h.01M691 622.6h.01M1486.9 924h.01M1147.4 308.6h.01M824.6 350.8h.01M1317 1007.4h.01M1478.3 876.3h.01M1491.3 1002h.01M574.4 679.8h.01M1614.8 919.4h.01M1312.2 368.2h.01M1192 465.3h.01M971.6 300.2h.01M853.1 1189.2h.01M1115.7 444.4h.01M1477.3 891.1h.01M1392 760h.01M1451.7 941.4h.01M1303 1087.9h.01M1507.8 1167.3h.01M1514.5 1173.2h.01M1111.8 512.8h.01M1315.5 1101.9h.01M1281.1 316.5h.01M1410.5 885.8h.01M1040.8 346.6h.01M1555.7 1076h.01M1608.3 1002.5h.01M1221.3 512.9h.01M1093.3 1080.2h.01M1526.1 1104.5h.01M531.7 758.6h.01M1336.6 978.3h.01M504 1129.9h.01M849.9 307.4h.01M1532.7 990.2h.01M1338.6 666.2h.01M1008.9 279.4h.01M1317.4 1083.7h.01M1305.1 344.2h.01M1264.8 1081.4h.01M1550.2 1093.8h.01M1063 345.9h.01M1316.3 976.9h.01M1616.6 1038.1h.01M1116.7 378h.01M1581.9 1024.9h.01M1567.9 1077.7h.01M1516.5 1170.2h.01M462.6 1074.2h.01M1467.6 953.4h.01M497.6 1126.8h.01M1324.7 494.5h.01M628.1 713.6h.01M528 771.6h.01M1444.7 1121.2h.01M1060.3 932.5h.01M845.2 359.1h.01M1027.4 291.2h.01M1147.9 473.7h.01M1444.8 1169.4h.01M1441 848.7h.01M419.7 732.2h.01M1413.8 925.8h.01M1110.5 247.4h.01M604.2 599h.01M1359.5 662.5h.01M1353.1 1056.9h.01M1119.1 325.4h.01M1599.3 931.4h.01M1662.7 974.3h.01M1339 638.3h.01M1145.8 982.9h.01M485.9 1109.3h.01M1123.2 965.6h.01M1693.4 936.8h.01M1081.4 390.8h.01M1172.5 772.5h.01M1314.7 361.6h.01M1316.8 381.1h.01M1593.3 980.5h.01M1542.6 858.7h.01M1126.3 1067.7h.01M967.6 293.3h.01M598.7 598.1h.01M1344.5 871.4h.01M1173.4 446.3h.01M1269.6 897.8h.01M1550.8 1050.1h.01M1251.8 612.4h.01M1260 653.5h.01M988.8 298.7h.01M1298.8 898.2h.01M1512.1 885.6h.01M1157.1 961h.01M989.9 306.2h.01M1264.9 382h.01M856.7 390.1h.01M1357.3 758.5h.01M1475.8 983.6h.01M1379.2 946.8h.01M1433.6 858.6h.01M1539.1 1071.3h.01M1272.2 1081h.01M1400.6 842.4h.01M1089.3 343.2h.01M591.9 824.3h.01M1167.4 992.9h.01M489 696.4h.01M1421.2 1114.2h.01M971.7 664.2h.01M1398.1 684.8h.01"/>
<path stroke="#E85362" d="M1433.6 1082.1h.01M1077 929.5h.01M1363 677.2h.01M1228.7 918.8h.01M1554.4 924.6h.01M588 755.1h.01M1253.7 1098.5h.01M1369.3 857.5h.01M1201 1094.4h.01M565.7 852.4h.01M1631.3 901.5h.01M683.1 661.9h.01M1275.9 908.8h.01M607.8 820.6h.01M1452.7 1065.9h.01M1415.4 718.6h.01M1458.1 906h.01M1543.9 1004.3h.01M1440.3 1136h.01M1529.7 1154.3h.01M1568.1 975.4h.01M588.7 654.6h.01M1561.8 1083.1h.01M1525.9 1038.2h.01M1009.1 270.5h.01M1512.4 1023.8h.01M1294.4 370.8h.01M1266.9 748.1h.01M1164.6 493.4h.01M1367.5 964.1h.01"/>
<path stroke="#F9795D" d="M1079.8 1097h.01M1396 689.6h.01M1547 1020.7h.01M1290.1 1003.3h.01M1394.5 907.3h.01M1075.2 298.8h.01M1614.4 998.3h.01M586.5 834.6h.01M1588.5 1001.3h.01"/>
<path stroke="#FDD49A" d="M1528.7 1139.2h.01"/>
<path stroke="#6B1D81" d="M1471.9 963.3h.01M1488.6 980h.01M1408.4 926.8h.01M1231.7 948.8h.01M623.5 768h.01M1462.6 844.3h.01M1166.3 766.7h.01M1450.9 830.2h.01M1079.9 413.9h.01M1100.4 291h.01M1236.5 960.2h.01M1342.7 1043.1h.01M1461.1 853.2h.01M1417.6 961.5h.01M1567.9 953.4h.01M1040.3 291.2h.01M861 301h.01M1473.8 895.7h.01M1577.1 1106.6h.01M882.4 1196.4h.01M888.6 294.9h.01M1361.6 756.1h.01M1417.9 695.5h.01M878.3 286.8h.01M1278.2 523.5h.01M893.1 1206.4h.01M978.5 1166.8h.01M950.6 265.9h.01M1267.5 782.7h.01M1105.4 945.2h.01M579.9 848.2h.01M1399.6 781.5h.01M1480.4 913.4h.01M1502 988.8h.01M1544.8 866.8h.01M580.7 846.1h.01M1216.3 412.8h.01M1303.1 980h.01M1132.1 265.5h.01M499.8 610.7h.01M1328.7 717.7h.01M841.3 309.3h.01M1548.5 861.6h.01M997.7 257.4h.01M595 844.9h.01M1334.3 709.2h.01M1501 928.4h.01M1459 1073.4h.01M1194.8 1099.3h.01M1366.8 843.2h.01M869.2 327.5h.01M1072 971.4h.01M1244.1 311.2h.01M1669.6 910.7h.01M1652.1 978.1h.01M1550.5 932.9h.01M1131.3 1098.9h.01M989.3 265.2h.01M1013.1 322.1h.01M1076 1145.7h.01M853.8 1185.9h.01M1214.2 276.5h.01M1594.3 932.3h.01M1250.8 619.6h.01M1007 327.6h.01M594.7 839.8h.01M1086.6 290.3h.01M1050.4 1151.1h.01M1381.9 979.1h.01M1031.1 241.6h.01M1412.9 721.8h.01M853 388.6h.01M1199.1 412.6h.01M1239.7 299.3h.01M1087.5 277.9h.01M1046.7 347h.01M610.6 808.6h.01M1435.6 937.4h.01M1551.1 993.4h.01M1479.8 1090.3h.01M530.8 776.7h.01M1424.9 1071.9h.01M1077.5 952.4h.01M1385.2 838.9h.01M1519.7 1093.2h.01M974.2 269.8h.01M1510.9 1061.1h.01M568.4 854.8h.01M1145.6 1100.9h.01M1205.8 428.7h.01M1296 642.1h.01M1027.9 328.6h.01M886.8 1190.9h.01M1491 1047.4h.01M1471.6 1004.8h.01M980 292.4h.01M1056.1 732.1h.01M1368.7 754.6h.01M1202 435.9h.01M840.4 299h.01M1196.3 383h.01M1154.6 436.9h.01M1340.7 1067.7h.01M1063.8 941h.01M1368.6 842.6h.01M573.5 847.7h.01M1337 874.7h.01M1363.4 906.1h.01M1294.2 964.6h.01M1398.7 762.8h.01M912.7 1191h.01M1632.8 1015.5h.01M1525.1 1099.1h.01M1331.1 703.7h.01M1242.6 1103.6h.01M1516.6 964.9h.01M1081 328.1h.01M1094.8 331.2h.01M1401.9 1116.1h.01M1355.2 667.6h.01M1355.4 697.8h.01M1281.5 303.8h.01M1550.8 899.1h.01M605.9 821.7h.01M1177.3 260.1h.01M979.1 334.9h.01M1086.7 378h.01M1180.7 329.6h.01M1615 1017.7h.01M1300.6 391.3h.01M1258.7 295.8h.01M1362.7 851.1h.01M1112.8 1041.7h.01M1400.4 873.1h.01M1538.7 913.1h.01M1067.4 959.7h.01M1434.7 1108.3h.01M1591.8 942.2h.01M1321.8 763.8h.01M1061.2 349.2h.01M993.3 410.2h.01M1282 902.6h.01M1105.6 946.7h.01M949.7 1177.3h.01M1391.5 1140.5h.01M1019.2 286.3h.01M1309.2 392h.01M1041 286.4h.01M1004.5 291.2h.01M1183 815.8h.01M1205.6 436.4h.01M1120.2 361.5h.01M680.4 734.7h.01M1127.6 937.5h.01"/>
<path stroke="#FEA772" d="M1075.9 947.7h.01M655.7 685.7h.01M1314.4 612.7h.01"/>
<path stroke="#000004" d="M596.2 707.1h.01M580.9 678.2h.01M1344.1 930.1h.01M1367.4 897.9h.01M1249.9 490.6h.01M1293.5 405.6h.01M1160.5 774.2h.01M1041.4 1122.6h.01M1196.8 412h.01M1190.5 1045.7h.01M1343.1 1054.6h.01M1329.3 1098.1h.01M361.7 647.6h.01M1313.9 1050.3h.01M925.3 283.6h.01M1177.1 873.5h.01M1209.2 892.2h.01M1317.6 679.4h.01M1509.3 1169.8h.01M1225.8 909.8h.01M1401.6 915.6h.01M1571.5 953.3h.01M1570.8 887h.01M1599.8 853.6h.01M1402.3 837.3h.01M1450.7 1178.9h.01M1414.8 689.1h.01M527 1170h.01M1532.6 1154.9h.01M1148.3 828.3h.01M902 406.3h.01M1399.2 848h.01M1364.3 909h.01M1237.4 375.4h.01M1051 241.2h.01M1251.3 990.4h.01M701.8 618.6h.01M1266.8 582.1h.01M1208.8 318.4h.01M585.1 763.7h.01M1276 1013.2h.01M1406.3 881.5h.01M1283.9 381.5h.01M1295.6 761.7h.01M1128.7 353.5h.01M1187.3 440.6h.01M1640 879h.01M1276.6 616.1h.01M1246.5 884.2h.01M1055.5 399.2h.01M1337.6 1095.4h.01M1372.7 920.3h.01M1481.4 889h.01M1391.3 1050.3h.01M1370.4 698.7h.01M1586.1 993.4h.01M1450.2 917.6h.01M724.7 612.4h.01M1554.2 1006.9h.01M1236.1 272.6h.01M1120.4 948.5h.01M950.2 369.6h.01M802 319.9h.01M1473.2 1145.9h.01M1489.1 843.1h.01M1418.8 970.6h.01M1342.8 1052.4h.01M1171.8 384.8h.01M506.7 1135.1h.01M1575.1 967.4h.01M1633.3 948.9h.01M977.4 294h.01M618.8 753.6h.01M440.1 668.7h.01M1246.6 491.3h.01M1415.2 807.4h.01M1527.1 848.3h.01M1369.8 1079.7h.01M1568.1 1064.2h.01M820.2 357.1h.01M1125.6 422h.01M610.1 645.9h.01M1245 499h.01M600.8 610.1h.01M584.3 708.3h.01M1496.9 928h.01M1462.1 752h.01M1597.8 1050.5h.01M1278.6 321.6h.01M1494.5 922.8h.01M1535.1 1114.9h.01M1231.4 914.7h.01M1131.1 369.8h.01M1430.4 1064.3h.01M417 738.4h.01M1108.4 333.2h.01M1111.4 859.4h.01M1282.6 1034h.01M1440.6 867h.01M1305.4 504h.01M1302.3 681.5h.01M1062.9 265.3h.01M1097.3 397.6h.01M463.8 1080.5h.01M1579.9 842.9h.01M967.3 323.8h.01M622 659.7h.01M1546.7 937.3h.01M1321 610.4h.01M562.6 668.6h.01M1531.2 1035.5h.01M1317.7 769.9h.01M1342.5 758.8h.01M1392.1 1093.8h.01M587.6 765.1h.01M618.5 536.8h.01M620.4 642.6h.01M1416.9 726.2h.01M1562 906h.01M1116.1 429.3h.01M1182.8 260.1h.01M1002.9 294.1h.01M605.8 606.1h.01M1458.8 1151.3h.01M1037.2 262.9h.01M855.1 381h.01M581.9 715.5h.01M1388.1 1017.8h.01M1164.3 1087.9h.01M973.8 269.2h.01M1526.3 854.3h.01M935.6 306.8h.01M1386 891h.01M1573.6 977.5h.01M1192.4 465.2h.01M1286.7 1084.1h.01M1053.8 280.2h.01M1024.2 353.1h.01M921.4 341.8h.01M1300.5 988.8h.01M572.4 664.9h.01M1421.6 700.2h.01M1398.1 1050.8h.01M1401.9 668.3h.01M1048.9 1088.6h.01M1094.1 277.9h.01M1354.1 999.4h.01M1450.8 1147.3h.01M1592.1 1007.2h.01M1629.6 938.2h.01M1373.4 941.7h.01M1309.4 924.9h.01M1334.6 818.9h.01M1383.8 905.6h.01M1286.7 682.3h.01M1234.2 410.6h.01M1540.8 914.9h.01M483.9 1106.9h.01M1306.1 720.7h.01M636.3 655.9h.01M1321.8 1071.5h.01M1076.6 383h.01M565.9 634.6h.01M1340.1 883.8h.01M1164.4 992.6h.01M1414.9 1085h.01M1560.1 1045.8h.01M1133.7 301.5h.01M1527.4 839.2h.01M1238.4 515.1h.01M1325.6 1058.7h.01M1573.9 946.5h.01M1636.4 940.8h.01M1218.7 879.3h.01M896.8 1185h.01M485.1 1112.3h.01M1441.7 1112h.01M1561.8 898.3h.01M1250.2 1057.6h.01M1392.2 731.6h.01M516.4 1161h.01M1197.6 406.2h.01M982.8 261.7h.01M403.6 649.1h.01M1594.1 896.8h.01M1412.9 828.5h.01"/>
<path stroke="#B63679" d="M1364.2 795.6h.01M1545.2 1094.9h.01M622.5 776.2h.01M1307.6 589.2h.01M608.7 822h.01M668.1 734.6h.01M1300.3 319.8h.01M618.6 807.3h.01M1267.6 339.3h.01M1559.6 913.8h.01M1151.9 516h.01M1435.8 685.2h.01M1265.1 755.9h.01M1468.8 1178.4h.01M1341.9 903.2h.01M1490 975.8h.01M892.4 283.3h.01M1403.1 1044.7h.01M1176.9 345.3h.01M967.5 1175h.01M1142.7 1097.8h.01M1300.2 1065.6h.01M1302.3 425.5h.01M408.1 752h.01M442.5 678.9h.01M1453.2 981.1h.01M1221.1 909.8h.01M1308.5 800.9h.01M1064.8 947.3h.01M569.3 788.1h.01M1062.8 724h.01M992 1146.1h.01M1137.2 314.7h.01M991.1 317.2h.01M1596.7 1073.4h.01M1379 681.3h.01M1115.6 332.5h.01M1414.9 1111.5h.01M621 779.2h.01M597.4 652.6h.01M1307.1 571.9h.01M979.5 283.8h.01M1038.7 1115.2h.01M1391.6 706.9h.01M913 370.9h.01M1304.4 583h.01M1300.4 669.3h.01M436.7 733.9h.01M1495.9 1046.5h.01M1360 854.7h.01M1493 1057.1h.01M1302.1 741h.01M1255.9 1007.7h.01M617.9 797h.01M1295.5 948.4h.01M1414.4 1011.9h.01M1498.8 1026.8h.01M1286.8 738.5h.01M1333.9 346.5h.01M678.3 623.1h.01M607 819.2h.01M1316.8 785.9h.01M1309.2 576.8h.01M1552.5 1014.7h.01"/>
<path stroke="#E85362" d="M1478.7 1054h.01M1289.8 525.1h.01M378.3 654.8h.01M1093 903.8h.01M1122 462.1h.01M530.8 759h.01M1199.3 543.7h.01M587.4 689.1h.01M611.5 808.8h.01M1247.4 368.7h.01M1284.5 532.7h.01M1113 408h.01M803.4 326.3h.01M1359.1 1094.4h.01M625.2 770.2h.01M857.1 1189.6h.01M1217.8 412.8h.01M1500.1 848.2h.01M1315.1 571.4h.01M1431.7 1140.8h.01"/>
<path stroke="#F9795D" d="M1246.6 512.6h.01M558.8 687.4h.01M1082.9 989.1h.01"/>
<path stroke="#000004" d="M608.1 686.7h.01M1497.5 835.6h.01M848.8 1172.4h.01M680.2 680.2h.01M1565.1 1135.4h.01M489.7 1115.7h.01M1434.1 905.4h.01M1509.4 1121.5h.01M1431 1027.2h.01M1261.5 593.8h.01M1044.6 327.3h.01M1051.3 237.1h.01M1551.8 874.8h.01M1069.4 297.8h.01M1549.9 1119.4h.01M1342.8 760.6h.01M1126.1 378.7h.01M1351.7 943h.01M1529.6 1097.6h.01M1324.9 736.8h.01M1156.6 478.8h.01M1276.2 417h.01M666.3 586.8h.01M1576.5 1019.3h.01M548.6 742.4h.01M1003 1162.3h.01M617.5 655.2h.01M1413.2 696.7h.01M1104.8 241.5h.01M612.7 670.9h.01M1034.7 337h.01M1349.4 832.3h.01M1314.4 1083.1h.01M1114.2 947.1h.01M1163.3 789.2h.01M1023 339.1h.01M1405.9 1091.3h.01M678.3 665.5h.01M416.4 664.9h.01M1662.7 926h.01M1478.1 1105.2h.01M1185.6 355.4h.01M1362.2 792.5h.01M1585.2 1038.9h.01M653.7 593.6h.01M1130.6 954.7h.01M968.3 663.3h.01M1077 1073.5h.01M1544.2 855.7h.01M1358.6 1017.8h.01M1076.5 287h.01M1695.6 893.5h.01M1222.6 909.9h.01M1505.5 1072.8h.01M1364.8 653.3h.01M1006.1 321.8h.01M1398 969.4h.01M1086.3 330.9h.01M441.1 720.9h.01M998.4 330.3h.01M565.2 710.7h.01M1178.4 368.5h.01M1452.1 1000.1h.01M1646.7 937.9h.01M1251.9 475.7h.01M681.9 596h.01M1080.9 1108.4h.01M465.2 1075.9h.01M1337.7 848.4h.01M478.2 1100.5h.01M1478.3 1100.9h.01M1551.7 1037.9h.01M1186.8 999.9h.01M454.6 1062.9h.01M1092.3 1078h.01M453.4 1052.1h.01M1194.2 1092h.01M1474.5 819.1h.01M1289.9 783h.01M999.8 281h.01M1213.2 363.2h.01M1383.4 956.7h.01M1327.3 978h.01M607.8 579.6h.01M1280.9 1056.8h.01M1425.4 669.8h.01M1399.9 1046.6h.01M1052.5 274.4h.01M1208.8 395.7h.01M1135.4 328.7h.01M1677.8 882.4h.01M1493.3 1146.8h.01M570 672.1h.01M1521.1 988.6h.01M1114.3 1080.8h.01M1352.1 892.6h.01M1362.2 918.7h.01M585.9 659.8h.01M1573.7 1058.4h.01M1356.5 710.5h.01M1436.1 904.5h.01M1211.6 363.6h.01M1354.1 681.6h.01M1322.6 358.7h.01M1305.8 976.9h.01M639 530.5h.01M1362.6 1005.4h.01M1391.4 770.3h.01M1526.5 1080.4h.01M1189.6 408.9h.01M1129.9 281.5h.01M417.5 731.2h.01M1049.8 732.9h.01M593.5 755.5h.01M1384.6 803.7h.01M1360.6 1104.6h.01M1271.8 945.3h.01M1107.1 295.5h.01M542.1 630h.01M606.3 654.1h.01M519 1166h.01M623.8 666.3h.01M467.8 1086.8h.01M1314.5 771.1h.01M1482.7 1062.1h.01M1208 283.4h.01M1264 404.7h.01M1412.3 988.2h.01M959.1 286.4h.01M452 1048.6h.01M1399.8 1128h.01M1091.2 443.2h.01M1162.8 391.3h.01M455.8 1064.1h.01M605.2 564.4h.01M1251.8 496.1h.01M458.9 695.9h.01M1335 616.8h.01M1109.8 1038.8h.01M986.5 334.3h.01M1610.1 903.1h.01M1508.1 1020.6h.01M1146.8 516.5h.01M1319.2 1106.4h.01M473.9 1093.7h.01M1262.6 300.1h.01M959.2 384.2h.01M1407.1 1014.8h.01M1187.2 770h.01M1261.9 670.7h.01M460.4 688.9h.01M868.3 1178.8h.01M1210 330.5h.01M1136.6 316.1h.01M1179 996h.01M1112 341.6h.01M1290.6 1081.8h.01M1520.4 1076.2h.01M1430.8 969.4h.01M475.8 1100.3h.01M668.8 613.1h.01M1149.6 318.6h.01M565.4 656.2h.01M1561.3 1009.9h.01M1377.2 753.8h.01M1277.9 571.3h.01M1049.5 942.9h.01M1526.6 878.1h.01M460.6 1067.9h.01M540.2 706.7h.01M1305.3 728.1h.01M1446.1 1163.2h.01M561.5 634.7h.01M414.7 659.9h.01M1340 1036.6h.01M1459.4 764.2h.01M594.5 690.8h.01M1513.5 934.1h.01M1297.3 936.6h.01M606 605.6h.01M817.3 349.3h.01M1012.5 424.3h.01M1526.9 859h.01M1457.2 979.9h.01M1139 390.4h.01M1020.2 695.6h.01M1339.1 692.7h.01M1276.4 333.9h.01M1175 778.8h.01M1516 988.5h.01M1308.2 747.5h.01M529 1175h.01M1302.5 786.5h.01M1192.3 520.8h.01"/>
<path stroke="#B63679" d="M1370.7 1024.1h.01M1475.8 1162.2h.01M1357.2 1038.2h.01M1374.1 937.3h.01M1517 1128.2h.01M1156.2 324h.01M1267.1 456.2h.01M1367.9 966.5h.01M1413 830.7h.01M1464.4 1146.2h.01M1079.5 1111.9h.01M603.5 824.1h.01M1217.3 897.1h.01M1346.6 671.8h.01M1234.7 918.8h.01M1078.7 1143.1h.01M1446.9 1172.3h.01M1308 1086.1h.01M1616.7 1008.8h.01M1069.2 265.5h.01M1053.3 912.5h.01M1300.8 795.1h.01M1543.8 868.2h.01M1124.3 395.9h.01M1082.7 756.2h.01M1251.5 634.4h.01M1155.7 445.1h.01M1236.6 1107h.01M1270.8 870.2h.01M880.1 275.3h.01M850.8 351.7h.01M625.9 662.9h.01M547.9 611.9h.01M1347.4 1076.5h.01M1396.9 851h.01M1052.9 714h.01M1594.8 1036.8h.01M1269 990.7h.01M1334.8 664.4h.01M1279.3 912.6h.01M1306 680.7h.01M1236.6 959.9h.01M362.5 641.8h.01M1050.3 1125.6h.01M1477.1 863.3h.01M1537 893.6h.01M1581.5 1097.8h.01M611.3 815.4h.01M1190.3 875.9h.01M1290.5 441h.01M1180.4 887.6h.01M928.7 265h.01M1402.8 851.2h.01M589.4 831.3h.01M1127 413.9h.01M1479.5 956.5h.01"/>
<path stroke="#6B1D81" d="M1610.7 994.1h.01M1358.1 776h.01M1391.8 936.5h.01M1371.9 709.7h.01M847.5 329.2h.01M1062.6 318.3h.01M1288.4 780.5h.01M1490.2 1170.2h.01M1356.1 785.9h.01M1039.6 719.5h.01M1474.4 1093.7h.01M588.5 765.4h.01M1480.6 1061.6h.01M1587 883.3h.01M435.4 696.7h.01M1577.9 912h.01M1304.1 708h.01M1484.7 1049.8h.01M1362.9 930.1h.01M1452.6 909h.01M1165.2 323.9h.01M1080.5 959.5h.01M1207.7 383.5h.01M1149 1070.7h.01M1529.9 1017.8h.01M1464.2 820.7h.01M1182.5 815.8h.01M1408.9 905.5h.01M530.5 761.8h.01M617.1 540.7h.01M1210 302.8h.01M1101.5 485.2h.01M1599.9 1009.6h.01M1099.4 401.1h.01M1334.6 684.1h.01M1340.7 1106.2h.01M1661.5 901.5h.01M1466.8 1090.6h.01M1283.4 715.1h.01M1269.1 971.3h.01M600 631.3h.01M1570.9 1128h.01M1314 718.6h.01M1296.9 339.5h.01M1412.4 989h.01M1106.5 249.9h.01M1425.8 705.5h.01M871.8 1193.6h.01M1341.4 995.1h.01M361.6 622.3h.01M1386.7 1071.9h.01M1311.1 770.5h.01M1392.7 905.8h.01M1638.5 947.3h.01M1256.1 1065.3h.01M1212.7 504.1h.01M1178.2 534.6h.01M1296.5 458.8h.01M1491 965.6h.01M1545.4 927h.01M1314.3 954.2h.01M674 686.2h.01M1260 362.3h.01M1462.7 915.9h.01M1516.8 994.5h.01M736.5 615.4h.01M1428.6 931.1h.01M1327.9 1069.3h.01M1201.3 399.4h.01M1380.2 1076.7h.01M1570.2 909.5h.01M1273.6 466.9h.01M1001.8 1157.4h.01M1079.9 394.3h.01M1243.9 994.3h.01M1480.6 974.6h.01M1354.6 902.6h.01M1309.6 813.8h.01M1591.6 998.5h.01M914.9 1186.7h.01M1534.7 917.4h.01M1615.1 954.6h.01M1109 1046.2h.01M1402 917h.01M1390.7 880.2h.01M1259 363h.01M1059.1 280.6h.01M1324.8 946h.01M1535 1105.2h.01M1609 931.2h.01M1102.7 359.8h.01M1185.2 306.7h.01M1465.2 874.6h.01M1287.8 1087.6h.01M580.9 843.2h.01M1344.2 736.1h.01M1302.2 1004.3h.01M1095.4 352.4h.01M1334.1 692.1h.01M1193.6 272.5h.01M1083.3 418.5h.01M1150.5 1063.8h.01M1446.2 916.4h.01M1163.3 298.7h.01M1310.5 593.1h.01M1441.4 1004.9h.01M1059.1 1129.3h.01M1583.1 936.3h.01M1309.6 740h.01M555.6 857.1h.01M1058.1 926.3h.01M1341.6 805h.01M1307.9 391.5h.01M1050.4 938.8h.01M577.9 846.5h.01M1479.3 1050.9h.01M1088.4 349.8h.01M822.8 326h.01M1311 367h.01M972.9 294.5h.01M1263.2 402.4h.01M1087 432.1h.01M1528.4 1066.8h.01M1298.2 463.8h.01M844.5 315.6h.01M1362.7 871.6h.01M1229.8 391.5h.01M1482.7 927.6h.01M1518.9 1114.3h.01M1377.7 740.9h.01M586.1 838.9h.01M1381 998h.01M836 323.8h.01M1320.3 739.9h.01M802.8 329.2h.01M1002.8 346.2h.01M1237 1076.5h.01M861.7 336.7h.01M1134.8 399.4h.01M1154.2 490.5h.01M1204.4 340.4h.01M1420.3 964.9h.01M1541.4 1040.7h.01M1497.5 959.5h.01M1589 994.5h.01"/>
<path stroke="#E85362" d="M1154.2 824.7h.01M1597.1 1006.8h.01M1451.3 999.5h.01M1178.6 883.6h.01M880 1196.5h.01M1392.7 767.6h.01M629.7 662.2h.01M1038.6 288.4h.01M1554.1 973h.01M1067 742.9h.01M1493.9 1154.2h.01M1399.9 1151.3h.01M1032.8 708.4h.01M1478.9 1134.2h.01M1435.3 1060.7h.01M1263.2 507.3h.01M1244.7 983.9h.01M1308.7 386.9h.01M1405.8 753h.01M1459.3 1039.1h.01M1473.4 1032.5h.01M959.2 665.8h.01M1332.7 1011.2h.01M1332.4 911.6h.01M1469.3 1147.7h.01M1221 1069.5h.01"/>
<path stroke="#F9795D" d="M1154.2 1102.2h.01M388.3 678.1h.01M1281.3 431.8h.01M1159.3 1068.3h.01M1477.6 1176.8h.01M545.3 625.9h.01"/>
<path stroke="#FEA772" d="M556.9 637.4h.01M592.2 824.9h.01M529.2 772.6h.01"/>
<path stroke="#6B1D81" d="M600.9 577h.01M1272 745.9h.01M1372.8 899.8h.01M1250.3 405.9h.01M1134.2 259.5h.01M1570.6 976h.01M1499.6 834.9h.01M1455.4 1141.4h.01M1205.2 1102.5h.01M1080.5 925.8h.01M1532.7 1094.3h.01M1102.5 406.3h.01M1164.8 522.3h.01M1378 760.1h.01M802.4 323.9h.01M1249.9 374.3h.01M1589.2 1052.2h.01M1355.4 1011.1h.01M1149.1 424h.01M1271.9 1100.8h.01M1284.2 1075.1h.01M1278.9 335.3h.01M1062.8 258.3h.01M1434.2 1067.2h.01M1008.5 263h.01M1277.4 385.4h.01M1393.3 677.3h.01M1365.6 709.9h.01M1453.8 754.7h.01M1345 1004.4h.01M1027.5 627.5h.01M1034.3 357.1h.01M1403.3 835h.01M1257.8 421.9h.01M1589.3 1079.2h.01M1548.6 1119.6h.01M1212.5 326.1h.01M1178.2 435.4h.01M1271.7 455.3h.01M1139.5 274h.01M1278.3 803.3h.01M1203 504.6h.01M604.3 819h.01M1283.1 318.2h.01M623.1 773.5h.01M1258.8 405.5h.01M1030 707.6h.01M1553.7 984.1h.01M1555.7 1034.4h.01M1300.1 773.9h.01M1312.6 422.8h.01M1589.7 955.1h.01M1591 1045.1h.01M1186.7 1102.5h.01M1049.8 327.6h.01M1477.4 939.4h.01M1353.1 888.8h.01M1329.4 716.4h.01M1321.2 394.4h.01M1472.8 1149.7h.01M1274.5 978h.01M1317.7 766.6h.01M1521.1 1088.5h.01M1278.4 413.7h.01M1283.9 821.9h.01M1276.7 929.5h.01M893.2 1188.9h.01M1041.8 251.4h.01M1246.6 382.4h.01M818.1 355h.01M879.4 1184.6h.01M635.5 718.6h.01M1112.1 307.9h.01M1049.8 291.9h.01M1434.6 1006.2h.01M1406.7 900.2h.01M1333.3 732.9h.01M1102 284.8h.01M1296.8 1043.9h.01M1197.4 344.4h.01M1242.6 426.9h.01M1317.2 729h.01M1433.1 1055.8h.01M1413.2 1065h.01M1021.3 669.5h.01M1165.7 402.4h.01M1322.5 332h.01M1040.4 361.4h.01M1437.5 1030.1h.01M1334.2 797.1h.01M1333.6 822.8h.01M1394 1064.8h.01M1541.6 1119.5h.01M952 297.5h.01M830.8 351.8h.01M1676.6 888h.01M1373.2 1059.2h.01M1231.2 423.9h.01M1467.8 913.8h.01M519.3 782.1h.01M1059.2 1130.8h.01M1316.3 609.6h.01M605.6 829.6h.01M1117.3 368.2h.01M624.6 774.7h.01M1298.1 747.4h.01M1439.5 1083.2h.01M1077 916.2h.01M838.1 372h.01M1306.6 774h.01M1116.6 1041.5h.01M1100.3 388.7h.01M611.7 799.3h.01M453.3 653.6h.01M1176.2 464.7h.01M1557.7 969.1h.01M1430 880.2h.01M1681.8 946.4h.01M1325.2 384.5h.01M1026.9 707.6h.01M1396.9 970.4h.01M1170 366h.01M523.3 1033.3h.01M873 271.2h.01M1496.1 1023.7h.01M1630.6 928.5h.01M1537.2 1099h.01M566.5 848.2h.01M1469.7 1172.7h.01M1012.9 1137.6h.01M848.2 294h.01M1490.3 1026.9h.01M1074.4 323.2h.01M1278.3 382.7h.01M1350.8 967.1h.01M1670.8 973.1h.01M1414.6 1142.8h.01M1159.2 825.8h.01M1234.4 381.6h.01M1001.9 332.2h.01M1333.4 1105.5h.01M620.2 769.8h.01M1316 613.8h.01M1331.9 909.9h.01M1096 1087.2h.01M1352.2 648.1h.01M1249.6 407.8h.01M1013.7 1174.4h.01M1355.1 914.7h.01M1456.2 880h.01M1278.5 531.8h.01"/>
<path stroke="#000004" d="M1075.9 265.5h.01M1350.1 976.7h.01M1415.1 909.1h.01M819.6 328.4h.01M1353 709.2h.01M1520.2 955h.01M1452 1018h.01M1522.6 935.2h.01M1034.3 316.4h.01M1257.3 1041.5h.01M1271.3 771.4h.01M1473 859.2h.01M1624.2 994h.01M1568.7 1008h.01M1528.8 1140.7h.01M1390.7 905.4h.01M1158.7 1105.3h.01M1267.2 581.2h.01M1326.4 987.8h.01M1206.1 490.9h.01M1302.5 796.3h.01M454.2 1051.3h.01M880.2 1193.5h.01M1275.2 793.3h.01M1302.1 973.3h.01M1165.6 519.9h.01M1634.3 940.1h.01M424.7 729.8h.01M1223.2 433.5h.01M1311.2 779.9h.01M828.6 345.2h.01M399.8 665h.01M1051.8 714.4h.01M1238.7 970.2h.01M1230.9 950.6h.01M941.7 307.7h.01M1055.6 346.1h.01M1265.7 1045.6h.01M1094.2 264h.01M918.9 267.4h.01M1097 362h.01M1300 944.5h.01M1081.8 361.9h.01M581.2 848.9h.01M1496.3 1124h.01M1198.8 435.9h.01M1325.2 719.7h.01M585.5 777.4h.01M1405.3 739.2h.01M1505.2 1089.2h.01M523 1160h.01M1447.6 1072.6h.01M1537.8 1000.7h.01M1222.9 912.8h.01M1241.2 307.8h.01M1187.3 885.2h.01M599.9 822.3h.01M606.5 599.5h.01M1314.1 356.9h.01M1247.1 894.7h.01M552.1 801.7h.01M1457.6 1129.4h.01M493.8 712.6h.01M1633.6 918.3h.01M986 335.8h.01M1466.4 859.9h.01M1225.1 317.3h.01M1323.9 774.2h.01M1389.4 998.8h.01M1504.9 1148.2h.01M1348.6 928.7h.01M1082.7 429.7h.01M1224.5 323.6h.01M1541 866.5h.01M1404.2 943.3h.01M1489.7 1117.9h.01M1385.5 859.1h.01M1410.6 1079.4h.01M457.6 1062.7h.01M1297.4 724.1h.01M1228.3 1044.5h.01M1318.8 701.7h.01M1398.8 1076.4h.01M737.5 348.2h.01M1383.6 1097.6h.01M1315.1 598.8h.01M999.1 267.1h.01M1521.7 982.8h.01M1335.5 807h.01M492.8 1123.4h.01M1161.3 316.9h.01M1164.7 412h.01M1226.1 425.4h.01M1389.2 929.2h.01M1066.7 752.7h.01M1576.8 937.9h.01M446.1 704.3h.01M1332.8 1072.9h.01M1286 1083.2h.01M1608.4 1076.8h.01M1219.5 310.3h.01M418.1 662.5h.01M1379.2 963h.01M1531.4 1086.4h.01M901.3 266.1h.01M451.3 1036.4h.01M1190.2 1045.7h.01M429.2 663.1h.01M1703.7 912.1h.01M1289.2 901.5h.01M1238.5 964.3h.01M359.3 671.4h.01M1057.1 406.1h.01M1209.2 317.4h.01M1492.8 764.9h.01M1171.4 387.7h.01M1389.7 710.9h.01M1136.9 381h.01M1317.8 870.9h.01M1259.4 531.8h.01M1165.7 806.7h.01M1014.3 307.1h.01M630.2 773.2h.01M1424.5 1026.5h.01M959.8 311.6h.01M1296.8 696.3h.01M1465.4 1057h.01M835.4 330.3h.01M1192.4 432.8h.01M1242.1 945.3h.01M1199.8 537.8h.01M841.3 371.7h.01M1498.2 1085.7h.01M455.9 1057.5h.01M1226.1 506.9h.01M1655.2 962.4h.01M1351.4 984h.01M1412.9 704h.01M1591.3 990.9h.01M1410.7 732.8h.01M1094.1 348h.01M1441.7 1151.7h.01M1402.4 715.7h.01M518.7 613h.01M711.7 654.3h.01M1382.5 882.6h.01M1524.8 881.7h.01M1421.6 880.5h.01M422.5 749.8h.01M1526.3 1086.4h.01M1297.3 755.1h.01M1302.8 792.4h.01M1358.7 841.8h.01M1511.1 1055.5h.01M1230.4 1072.9h.01M1128.3 378.4h.01M1620.7 982.2h.01M1679.3 894h.01M1323.6 1009.7h.01M1129.4 339.9h.01M460.4 675.2h.01M604.7 697.9h.01M1216.4 408.4h.01M1485 897.6h.01M1545.1 1073.3h.01M1572.4 845.9h.01M1428.6 1046.9h.01M437.4 731.4h.01M960.2 261.6h.01M555.2 629.6h.01M1561.5 1029.6h.01M1253.5 1079.7h.01M1488.8 1067h.01M1611.2 891.4h.01M1071.5 248h.01M1419.9 1018.7h.01M1586.7 1058.8h.01M1454.6 1171.3h.01M1382.1 885.7h.01M1531.3 894.5h.01M1432.1 1127.4h.01"/>
<path stroke="#B63679" d="M1460.4 939.2h.01M1084.6 1136.1h.01M1118.8 1044.7h.01M1317.2 960.2h.01M1498.8 899.3h.01M589.5 837.7h.01M1462.6 867.3h.01M1265.5 799.1h.01M1068.3 706.7h.01M751.2 341.7h.01M1482.9 1009.9h.01M1015.4 276.8h.01M1194.7 903.3h.01M1627.7 946.7h.01M1267 955h.01M1510.5 850.4h.01M1099.2 1104.6h.01M1451.5 883.5h.01M1301.9 788.6h.01M1202.9 1038.1h.01M1312.1 573.2h.01M1522.3 1114.7h.01M1133.5 385.4h.01M1527.6 1120.7h.01M1238.2 943.2h.01M1408.8 990.1h.01M1577.2 1025.6h.01M1075.3 1071.3h.01M605.5 801.8h.01M1133.4 1038.1h.01M1608.2 1046h.01M1348.1 1108.5h.01M1130.6 355.2h.01M1376.2 827.7h.01M1226.5 448.5h.01M1320.1 920.3h.01M1351.9 908.3h.01M1276.9 449h.01M1234.2 365.2h.01M1151.3 339.7h.01M1355.7 1066.6h.01M1481.6 928.2h.01M1505.8 994.1h.01M1445.3 1146h.01M580.2 846.5h.01M1292.5 708.7h.01M1317.8 378.9h.01M1492.6 938.8h.01M1276.2 313.5h.01M1397.6 742.9h.01M1686.6 926.6h.01M1458.5 1136.7h.01M1035.8 698.5h.01M893.1 280.5h.01M1289 771.7h.01M1254.5 331.1h.01M1605.1 899.6h.01M601.7 610h.01M1369.3 661.3h.01M1461.3 1036.5h.01M1497.5 865.2h.01M882.4 290.7h.01M1401 920.3h.01M1573.3 950.4h.01M1550.8 873.5h.01M911.4 1200.1h.01M799.2 323.5h.01M1572.6 1073h.01M1025.5 285.9h.01"/>
<path stroke="#FEA772" d="M1093.5 327.4h.01"/>
<path stroke="#E85362" d="M1595.8 885.9h.01M1310 974.6h.01M1549.6 1007h.01M526.7 1159.3h.01M1284.9 805.1h.01M1560.3 1053.2h.01M1041.9 1127.3h.01M1042 917.6h.01M1048.6 1125.7h.01M1404.1 1136.1h.01M1069.5 926.8h.01M1592.3 899.6h.01M1567.8 1017.7h.01M606.2 593.2h.01M1096 251.1h.01M622.3 680.2h.01M1335.5 731.1h.01M1566.6 896.7h.01M1228.6 1066.2h.01M1453.3 864.6h.01M1159 389.6h.01M1381.5 846.9h.01M1479.3 1068.2h.01"/>
<path stroke="#F9795D" d="M1050.2 1141.4h.01M1316.4 409.3h.01M1589.3 1043.6h.01M1299 992h.01M1471.4 974h.01"/>
<path stroke="#000004" d="M1346.4 860.2h.01M1034.1 256h.01M614.2 546.2h.01M1634.4 972.9h.01M1309.5 1021.5h.01M480.3 1102h.01M1108.7 339.6h.01M1184.9 277.2h.01M1392.5 824.2h.01M1183.1 364.8h.01M859.2 349.2h.01M643.8 714.3h.01M609.8 566.2h.01M1278.1 757.6h.01M1285.5 359.3h.01M1179.5 286h.01M1482.8 873.8h.01M881.5 272.6h.01M1146.1 1098.8h.01M844.4 278.1h.01M1114.3 381.9h.01M1504.6 1029.2h.01M1426.5 773.2h.01M1305.6 1079.2h.01M1663.7 905.9h.01M1502.3 1094.4h.01M913.7 384.9h.01M1469.5 895.8h.01M1373.3 1020.3h.01M895.3 296.6h.01M386.7 664.3h.01M1175.7 350.3h.01M807.7 306.5h.01M1413.7 1158.3h.01M1264.8 939.6h.01M1538.5 887.1h.01M1323.5 988.7h.01M1427.3 946.4h.01M437.1 728.8h.01M1021.3 1137.6h.01M1279.2 632.1h.01M1252.2 466h.01M1340.3 886.2h.01M1513.1 1130.9h.01M843.7 365.5h.01M1119.2 1088.1h.01M1306.1 1089.7h.01M461.9 1073h.01M1225.4 942.5h.01M1326.4 616.5h.01M1443.3 825.8h.01M726.6 644.7h.01M1532.7 836.5h.01M1459 791.6h.01M457 1067h.01M1281.1 767.7h.01M1282.6 1071.4h.01M613.2 552.6h.01M1475.4 797.6h.01M1291.2 533.4h.01M567.6 633.3h.01M757.2 340.1h.01M1549.1 1006.1h.01M1321.7 858.3h.01M1275.6 418.2h.01M398.6 657.9h.01M588.4 846.3h.01M1093.3 243.2h.01M1459.6 1168.9h.01M1048.9 1145.2h.01M952 1175.3h.01M1156.9 530.8h.01M1387.6 1146.9h.01M1419.9 1099.2h.01M1430.1 1124.8h.01M1339.6 682.1h.01M1133.3 391.9h.01M1065.6 361.5h.01M1295.9 910.9h.01M1314 356.4h.01M1338.8 1014.9h.01M1558 973.2h.01M1547.5 867.1h.01M648.6 725h.01M1078.1 982.9h.01M568.3 672.1h.01M1428.4 904.3h.01M1162.9 354.8h.01M1539.8 974.1h.01M1059.2 335.8h.01M1435.3 1060h.01M683.1 557.1h.01M1363.8 750.5h.01M1536.7 1014h.01M1308.2 468.1h.01M586.1 760.7h.01M1381.4 789.3h.01M1512.9 1057.8h.01M1157.7 405.8h.01M1277.9 364.3h.01M1193.9 267.6h.01M631.9 598.2h.01M1310.7 1073.6h.01M1517.9 1112.5h.01M687.9 563.1h.01M443.8 737.1h.01M1341.9 684.5h.01M1061.4 324.3h.01M1227.6 1021.9h.01M1381.7 695.6h.01M1165.3 320h.01M1411.2 856.4h.01M1501.8 891.6h.01M1440.6 848.3h.01M616.3 813h.01M1245.2 283.6h.01M1678.8 961.3h.01M531.9 745.2h.01M1684.2 903h.01M1263.9 369.2h.01M1524.3 908.1h.01M501.9 611.2h.01M1585.9 889.7h.01M492.7 1115.8h.01M1350.3 750.1h.01M1152.7 463.8h.01M1429.2 953.9h.01M1625 937.6h.01M850.4 317.2h.01M1559.1 1031.6h.01M610.6 626.3h.01M1057 382.8h.01M1503.9 866.1h.01M1146.4 1094.3h.01M1508.2 775.1h.01M1401.2 983h.01M1277.8 510.7h.01M495.3 1052h.01M1384.4 910.8h.01M1139 319.2h.01M1124.1 355.5h.01M1469.3 1012.9h.01M1024.7 296.5h.01M850.7 307.2h.01M1384.5 762h.01M1487.5 891.5h.01M551 731.4h.01M1474.4 950.1h.01M1591.9 1092.1h.01M1251.2 784.5h.01M928.1 299.4h.01M455.6 1054.3h.01M1307.7 754.5h.01M1299.5 318.1h.01M1385.9 1083.8h.01M1315.8 822.4h.01M1470.4 992.2h.01M852.8 378.7h.01M1588.6 1095.6h.01M1298.1 337.2h.01M1121 352.6h.01M1156.9 464.1h.01M1179.5 1010h.01M1394.4 707.2h.01M1491.1 866.3h.01M1083.8 364.1h.01M1340.7 989.7h.01M1551.8 1038.7h.01M1442.5 1175.4h.01M1427.4 885.9h.01M1131.6 319.2h.01M1471.8 733.8h.01M1024.5 698.3h.01M1317.5 567.3h.01M1549.9 1098.9h.01M1628 1004.9h.01M893.3 329.1h.01M1433.6 842.2h.01M1144.1 325.4h.01M1482 1088.2h.01M1481.3 1068.4h.01M465.1 1084.8h.01M1066.2 410.8h.01M1369.1 941.2h.01M404.8 659.2h.01M1082.8 1138h.01"/>
<path stroke="#6B1D81" d="M615.2 738.8h.01M1236.3 972h.01M1363.3 683.6h.01M1368.8 999.6h.01M1361.6 694h.01M1054.2 270.3h.01M1010.4 245.5h.01M1108.5 352.3h.01M1170.5 315.3h.01M1081.4 339.1h.01M1075.4 1068.6h.01M1112.3 1040.1h.01M1339.3 897.4h.01M1389.4 732.4h.01M1438.4 893.1h.01M573.1 846.5h.01M1523.5 1103h.01M1574.3 1104.8h.01M1386.4 1088.3h.01M1573.7 1015h.01M1342.5 981.6h.01M1318.6 1051.2h.01M1181.4 390.6h.01M1568.4 962h.01M1170.9 388.5h.01M1141.1 442h.01M1566.4 874.6h.01M793 328.3h.01M1367 923.3h.01M1494.5 870.3h.01M1383 947.6h.01M1270.3 290.5h.01M609.5 817.6h.01M1051.1 730.6h.01M1396.3 886.3h.01M661.7 688.1h.01M1403.2 869h.01M1291.5 447.1h.01M1318.6 1112.1h.01M1614.1 1037.7h.01M1458.9 879.9h.01M1456.6 921.6h.01M1374.3 885.1h.01M1218.4 359.3h.01M620.8 783.6h.01M1206.4 417h.01M853.5 390.8h.01M1046 1107.9h.01M1585.7 986.3h.01M1260.3 433.2h.01M1377.9 855.1h.01M1003.4 282.4h.01M1180.3 869.2h.01M953.4 265.2h.01M1157.8 1106.7h.01M1268.5 369.2h.01M1083.4 886.1h.01M1432.3 959.6h.01M1311 708.2h.01M842.6 360h.01M1625.1 955.9h.01M1571.5 1068.5h.01M1287.9 432.6h.01M1501 1092.2h.01M1151.9 407.2h.01M1339.9 763.1h.01M1583.2 1080.9h.01M589 841.7h.01M1324.4 809.2h.01M1121.8 1041.8h.01M1609.9 906.6h.01M579.5 846h.01M1422.8 926.9h.01M610.8 809.8h.01M1125.1 325.5h.01M1222.5 396.5h.01M1422.2 697.9h.01M1366 916.5h.01M1198.2 321.8h.01M1317.9 554.1h.01M1296.2 680.9h.01M1247.8 382.6h.01M1415 1006.7h.01M1377.4 1122.8h.01M750.5 620.7h.01M1461.4 908.3h.01M1271.3 486.8h.01M1552.8 945.1h.01M1391.9 915.1h.01M589 834.5h.01M1438.3 1055.6h.01M781.5 327.8h.01M1385.8 931h.01M1060.5 741.7h.01M1078.5 927.9h.01M1208.4 506.8h.01M655.7 705.2h.01M1039 920h.01M1470.8 914.3h.01M1376.4 1136.4h.01M1397.3 1060.9h.01M1227.5 507.2h.01M1142.6 481.3h.01M1265.9 442.6h.01M1556.7 1086.6h.01M941.1 302h.01M564.8 847.2h.01M1314.9 763.9h.01M1417.9 841h.01M1191.9 1051.2h.01M1287.7 769.1h.01M1486.1 896.8h.01M603.5 830.1h.01M1129 1098.6h.01M1172.2 295.9h.01M1427.5 705.8h.01M1155.8 388.6h.01M1063.1 383.8h.01M1417.6 1137.4h.01M1457.7 1066.1h.01M1655.6 939.6h.01M937 1180.5h.01M1279.1 482.9h.01M594.4 629.6h.01M933.5 279.1h.01M1550 997.1h.01M1310.3 979h.01M1519.5 1061.1h.01M1314.4 385.5h.01M1309.6 331.6h.01M1114.9 382.9h.01M1159 1038.1h.01M589 791.7h.01"/>
<path stroke="#B63679" d="M1314.2 527.5h.01M822.2 316.9h.01M1364.1 787.7h.01M1299.7 804.5h.01M1265.3 1092.7h.01M899.1 1199.9h.01M1147.5 518.3h.01M1377.1 996.7h.01M1372.9 1100.4h.01M873.7 289.6h.01M1286.7 811.7h.01M1528.2 1059h.01M1055.4 1143.7h.01M891.6 1200.8h.01M1057.3 947.7h.01M1576.2 1120.6h.01M1478 831.5h.01M1318.3 1062.6h.01M1258 976.7h.01M959.3 269.7h.01M1484.8 1141.5h.01M1504 996.4h.01M1069 756.7h.01M1522.1 1043.5h.01M745.2 342.7h.01M1556 1015.4h.01M1483.6 1146.6h.01M1141.9 983.2h.01M1588.5 1074.5h.01M1325.8 995.4h.01M1329.8 1122h.01M1499.5 1113.3h.01M1566.6 884.9h.01M1214.7 1062.8h.01M1072.8 753.1h.01M1165.8 332.2h.01M1220.7 379.3h.01M1015.7 1144.6h.01M575.4 849.3h.01M1108.6 338.4h.01M1291.3 791.4h.01M1465.5 910h.01M1028.4 694.2h.01M570.3 850.8h.01M1415.2 713.1h.01M690.2 661h.01M1339.4 773.3h.01M1329.4 944.1h.01M1452.8 1116.2h.01M1364.3 962.4h.01M1580.8 1103.3h.01M1324.6 1060.8h.01M1415.8 1014.1h.01M614.7 654.6h.01M1475.5 1057.6h.01M957.4 316.8h.01M1107 340.5h.01M1252.4 766.9h.01M1125.6 452.3h.01M1322.1 964h.01M1063.5 940.1h.01M1042.8 707h.01M1330.9 1076.4h.01M1306.7 577h.01M1280.9 490.9h.01M1046.9 708.8h.01M1651 984.6h.01M1609.1 927.2h.01M647.3 634h.01M1469.9 1052.9h.01M1453.2 1081.9h.01M936.6 307.8h.01M1425.6 849.6h.01M845.3 355.4h.01M1152 440.9h.01M1313.1 453h.01M1505 1099.5h.01"/>
<path stroke="#E85362" d="M1340.2 1035.5h.01M1274.4 932.4h.01M1271.9 476h.01M1440.4 1153.7h.01M1116.2 420.3h.01M1361.2 970.4h.01M1383.1 1004.5h.01M1457.3 972.8h.01M1087.8 313.6h.01M1505.8 1049.3h.01M1255.3 751.8h.01M1354.6 1091.8h.01M1577.5 1101.6h.01M1474.4 1030.4h.01M577.8 756.2h.01M1403.9 877h.01M1285.9 773.2h.01M1171.4 465.8h.01M1481.3 1071h.01M447.3 688.4h.01M533.6 611.6h.01M671.8 735.7h.01M1569.4 873.6h.01M1295.4 758h.01M1258.5 1054.2h.01M873.3 1179.7h.01"/>
<path stroke="#F9795D" d="M621 781.3h.01M1190.5 873.8h.01M1279.4 1076.2h.01M1179 518.8h.01M1312.7 1009.7h.01"/>
<path stroke="#FEA772" d="M1306.4 556h.01M1465.7 1088.3h.01M999 1143.6h.01"/>
<path stroke="#000004" d="M1459.4 978.8h.01M931.7 652.8h.01M1293.3 954.9h.01M988.2 343.5h.01M549.8 852.4h.01M1209.7 1061.2h.01M1566.9 1135.7h.01M1362 1010.5h.01M1536.4 911.5h.01M1188.3 778.7h.01M1367.2 1017.2h.01M1270 1086.3h.01M455.4 665.4h.01M603.3 610.8h.01M1132.1 386.4h.01M359.9 637.3h.01M946.1 262.8h.01M1114.3 371.2h.01M1356.5 1026.6h.01M974 305.5h.01M1380 856h.01M1559.9 854.4h.01M985.6 338.8h.01M1191.5 317.3h.01M1054.6 373h.01M1115.9 502.6h.01M1282.4 792h.01M1363.6 1100h.01M728.9 625.6h.01M766.3 335.8h.01M1338.7 1092.3h.01M1120.6 456.6h.01M903.4 370h.01M1310.1 954.1h.01M1596.3 1098.1h.01M454.7 1062.4h.01M591 689.5h.01M456.4 1053.9h.01M1332.4 963.9h.01M1109.3 388.3h.01M1453.6 1159.9h.01M1451.7 918.7h.01M1427.7 1041h.01M1442.6 872.8h.01M1329.1 812.1h.01M1683.2 890.7h.01M1320.4 972.6h.01M1485.4 855.5h.01M1340.7 666.6h.01M1079.8 366.2h.01M1184.7 296.7h.01M482.4 1104.3h.01M432.4 746.3h.01M1227.2 401.4h.01M431.7 668.2h.01M1151.2 340.9h.01M1600.3 899.9h.01M1426.9 1140.4h.01M1449 872.5h.01M1123.5 366.5h.01M1656.8 993.9h.01M522.5 1154.7h.01M467.1 1085.9h.01M1073.8 283.2h.01M1575.8 1018.6h.01M1223.7 1052.9h.01M1554.4 1127.1h.01M1273.1 533.5h.01M1479.7 1106h.01M1255.1 645.4h.01M1190.7 869.3h.01M1316.2 613.8h.01M1510.5 843.1h.01M1306.8 887.5h.01M1096.9 360.4h.01M611.7 711.9h.01M1398.8 968.2h.01M1199.2 474.1h.01M666 738.1h.01M423.6 657h.01M1009.6 278.5h.01M1004.5 1133.9h.01M1407.8 744.2h.01M1159.6 348.5h.01M1005.4 284.6h.01M1321 946.7h.01M1170.5 1014.9h.01M1467.2 893.7h.01M1151.5 359.7h.01M1426.5 867.3h.01M1548.1 1039.4h.01M1336.5 1048.6h.01M1327 784.3h.01M718.2 641.2h.01M421.5 736.8h.01M901.1 1196.8h.01M1445.3 952.7h.01M415.4 649.8h.01M1412.8 835.1h.01M1443.3 927.1h.01M1325.5 387.5h.01M1266.7 481.8h.01M1392.8 887.4h.01M1290.6 507.3h.01M1679.7 877.7h.01M1322.8 728.8h.01M1490.1 964.6h.01M1450.3 849.9h.01M1357.8 713h.01M1531.1 1112.4h.01M1283.8 331.6h.01M817.1 340.9h.01M506.8 1135h.01M1442 794.8h.01M1522.1 1064h.01M1309.1 748h.01M1104.1 302.7h.01M1277.1 779.7h.01M1485.5 877h.01M1486.8 952.9h.01M1151 381.3h.01M502 1038.4h.01M1587.1 975.9h.01M586.6 655.2h.01M1396.8 1045.3h.01M1589.4 1036.2h.01M978.1 442h.01M1169.3 507.1h.01M589.9 670.6h.01M1293.1 475.7h.01M1382.8 982.7h.01M1182.4 480.8h.01M1048.7 247.2h.01M814.9 326.3h.01M1229.9 949.1h.01M1490.8 1145.7h.01M1236.6 382.9h.01M1658.7 910.7h.01M1306 934.7h.01M380.7 683.3h.01M1400.1 680.4h.01M1549.3 938.4h.01M1253.6 786.3h.01M1072.4 1078.1h.01M867.6 1197.5h.01M1009.8 318.7h.01M1046.2 271.8h.01M642.6 597.3h.01M1356.9 1052.9h.01M1111.8 303.7h.01M1346.9 876.6h.01M1612 1051.6h.01M1408 1019.1h.01M1301.2 1021.9h.01M1684.6 921.8h.01M565.2 686.9h.01M802.8 303.3h.01M1155.1 1105.6h.01M1624.7 934.4h.01M1205.3 383.9h.01M1418.9 897.2h.01M1137.2 324.6h.01M496.5 1122.9h.01M1282.1 936h.01M535.2 614.4h.01M1125.7 454.6h.01M1448.8 1053.2h.01M1316.4 810.2h.01M1288.1 684.4h.01M1530.6 1162.9h.01M1023.8 701.5h.01M398.9 656.2h.01M434 749.9h.01M884 293.8h.01M1420 1104.3h.01M1534.9 1089.8h.01"/>
<path stroke="#6B1D81" d="M1230.4 385.9h.01M1274.7 378.1h.01M1602.6 1091.4h.01M999.3 321.9h.01M1251.5 980.5h.01M1091.2 401.1h.01M1317 737.3h.01M1310.7 694.8h.01M1369.2 886.9h.01M1345.3 974.5h.01M1315.2 692.1h.01M1358.7 948.7h.01M1257.9 775.9h.01M1286.5 587.3h.01M1364 875.9h.01M1351 914h.01M1304.9 434.2h.01M1116.8 1066.7h.01M1147.6 965.7h.01M495.3 1047.3h.01M1326.3 686.7h.01M1321.4 381.8h.01M1288 743.9h.01M1407.2 1131.3h.01M1292.9 714h.01M1358.8 728.6h.01M1583.3 1057h.01M1089.5 319.9h.01M1466.7 1176.8h.01M1484.2 909h.01M1552.4 886.8h.01M1444.4 1091h.01M1304 441h.01M1037.1 925.8h.01M1475.6 1163.7h.01M1433.8 1087.8h.01M1453.3 1103.5h.01M1366.9 758.4h.01M1475.3 1128.6h.01M1092.8 978.3h.01M1283.5 380.9h.01M1307.2 655.2h.01M1226.7 433.3h.01M1141.4 1059.5h.01M1407.7 1128.1h.01M1442.3 692.4h.01M1007.6 346.4h.01M1475.4 952.4h.01M817.9 288.5h.01M1358 744.9h.01M952.6 320.4h.01M1123.5 971.5h.01M1467.6 881.3h.01M1372.2 983.6h.01M1474.4 1081.2h.01M1334.6 1080.4h.01M1392.2 915.9h.01M1449.2 1008.1h.01M1302.1 781.4h.01M1319.9 939h.01M1135.9 982.2h.01M1223.6 485.9h.01M1363.7 1049.4h.01M1632.3 970h.01M1640.1 939.5h.01M1317.3 596h.01M1181.2 471.7h.01M1517.2 913.7h.01M977.9 1166.1h.01M1448.3 847.3h.01M1480.5 1147.6h.01M1220.9 523.7h.01M579.8 833.9h.01M1386.2 865.6h.01M1318.7 496.7h.01M1212.6 339.8h.01M1252.4 1095.9h.01M1516.1 960.5h.01M1018.7 360.8h.01M1293.8 817.6h.01M1100.6 387.4h.01M1106.4 502.3h.01M1216.4 387.7h.01M1026.9 1158.1h.01M1184.1 329h.01M1033.7 303h.01M537 770.2h.01M1586.4 944.7h.01M988.1 1168.7h.01M1220.5 315.3h.01M1487.4 1010.8h.01M1535 979.1h.01M1283.5 770.6h.01M1294.2 415.5h.01M1222.3 517.1h.01M992.4 304.1h.01M1020 646.7h.01M841.6 310.6h.01M1597.4 937.4h.01M576.4 762.6h.01M1056.9 271.4h.01M1190.8 388.2h.01M1624.8 943.7h.01M1570 922.2h.01M1428.2 1131.3h.01M1353.7 668.7h.01M1160 366.6h.01M1318.3 737.7h.01M1178.6 391.3h.01M1432.1 836.9h.01M1096 943.1h.01M1179.9 371.4h.01M1277.3 1073.4h.01M1071.2 1135.8h.01M1292.3 1087h.01M1535.9 982.4h.01M1490.3 829.7h.01M1374.8 982.9h.01M1312.5 709.6h.01M1646.6 991.5h.01M1268.4 1009.8h.01M1098.6 1064.1h.01M833.9 297.6h.01M1351.4 859.6h.01M1064.7 332.4h.01M1392.7 1013.3h.01M1599.5 978.6h.01M1355.5 786h.01M620.4 787.3h.01M1271.1 368.3h.01M1264.4 960.2h.01M1492.3 893.8h.01M1088.8 401.9h.01M1335.2 348.3h.01M1127.8 1044.1h.01M1395.9 1108h.01M1248.5 295.6h.01M1454.1 1172h.01M1279.8 789.7h.01M1512.3 976.5h.01M1137.4 406.1h.01M1106.7 348.3h.01"/>
<path stroke="#B63679" d="M1486.9 1026.8h.01M1091.3 297.8h.01M1300.5 527.3h.01M1099.5 939.1h.01M1474 832.5h.01M1278.9 804.9h.01M1060 720.6h.01M1060.8 951.8h.01M1242.1 953.9h.01M462 667.9h.01M1243.3 889.2h.01M1039.3 920.4h.01M1418.2 904h.01M580 761.1h.01M1325.2 765.8h.01M1313 861h.01M1363.2 845.1h.01M1281.6 1062.8h.01M1010.6 1130h.01M1265.2 1091.3h.01M578.5 750.4h.01M1373.6 1029.1h.01M1199.1 409.6h.01M1413.6 982.2h.01M1379.9 708.2h.01M1627.1 984.4h.01M1437.3 957.9h.01M659.3 600.5h.01M1501.6 1133.9h.01M1427.2 1155.2h.01M1074.9 755.4h.01M1294.3 754h.01M1226.6 515.9h.01M1336.1 703.6h.01M1559.8 1007.9h.01M1488.4 1074.4h.01M1129.7 1050.7h.01M1500.9 824.8h.01M1392.1 662.1h.01M989 324.9h.01M1120.9 383.2h.01M1166.7 903.2h.01M1157.1 811.4h.01M1238.5 919.3h.01M1575.6 1083.8h.01M1191.9 378.5h.01M1285 1020.6h.01M1168.3 1103.8h.01M1622.3 966.3h.01M962.3 1171h.01M590.2 835.3h.01M1063.6 948.3h.01M1416.1 1152h.01M1542.3 1022.3h.01M961.2 308.8h.01M814.5 337.7h.01M1389.1 1134.5h.01M940.8 673.3h.01M1301.4 527.2h.01M1303.4 375h.01M605.4 571.8h.01M608.8 621.9h.01M407.4 680.5h.01M679.6 726.5h.01M651.5 696.1h.01M1071.2 933.8h.01"/>
<path stroke="#E85362" d="M1083.3 958.2h.01M1523 866.3h.01M1583 886.7h.01M1420.9 1014.3h.01M1361.5 718.8h.01M1628.6 1003.3h.01M1408 1013.7h.01M1530.5 865.9h.01M1094.6 947.8h.01M1621.5 964h.01M1223.9 1102.7h.01M1038.4 698.4h.01M1435.9 1088.5h.01M1492.3 1100.4h.01M1267.3 745.5h.01M1040 297.2h.01M1246.4 779.8h.01M1054.1 922.1h.01M618.2 795.3h.01M619.3 799h.01M863.5 1195h.01M575.4 846.5h.01M531 760.9h.01M1306 1057.9h.01M614.8 805.3h.01M1208.3 894.9h.01M1049.6 730.3h.01M1592.3 1044.1h.01M1526.4 1103.9h.01M606.8 591.6h.01"/>
<path stroke="#FEA772" d="M1110.3 488.2h.01M1364.2 715.2h.01M1389.7 1108.9h.01M1515.9 870.3h.01M1470.1 831.1h.01M1359.9 883.1h.01M1601.1 1014.8h.01"/>
<path stroke="#F9795D" d="M1316.4 1076h.01M1471.1 859.5h.01M355.8 637.2h.01M1107.3 294.7h.01M1082.9 883.8h.01M1692.7 885.3h.01M1293.7 705.7h.01M1315.3 691.6h.01M1423.5 874.4h.01"/>
<path stroke="#B63679" d="M1541.2 1138.4h.01M1267.2 736.2h.01M605.3 823.6h.01M1382.7 1054h.01M1352.3 1093.3h.01M1401.2 961.8h.01M1359.1 886.6h.01M1412.2 1163.1h.01M1031.3 347.2h.01M1293 598.3h.01M1336.3 980.3h.01M1142.9 1021h.01M1271.6 744.3h.01M1308.9 580.9h.01M1238.1 323.4h.01M534.3 796.4h.01M1350.2 661.1h.01M606.6 595.4h.01M1487.5 985.4h.01M1248.1 1088.5h.01M1086 946.5h.01M1352.1 730.3h.01M1306.7 537.6h.01M1264.2 332.2h.01M1323 748.9h.01M988 321.4h.01M850.9 380.8h.01M1367.1 1109.8h.01M574.8 825.7h.01M1324.7 925.5h.01M1308.6 748.8h.01M526.8 614.6h.01M1557.7 895.8h.01M1324.8 902.5h.01M1506.7 918.7h.01M1096.9 936.3h.01M1091 305.2h.01M1241.9 1079.5h.01M1396.9 968.1h.01M1371.5 898.9h.01M1658.1 928.9h.01M1499.6 1150.5h.01M1046.8 918.8h.01M1595.5 1008.6h.01M672.5 724.7h.01M626.3 779.4h.01M1249.8 784.4h.01M1611.5 964.8h.01M1178.4 878.5h.01M1312.7 871.9h.01M1272.9 912.3h.01M1229.7 962.5h.01M1469.8 1134.6h.01M1168.8 417.6h.01M1312.5 435.5h.01M1470.6 1053.6h.01M1171 391.5h.01M1268.3 1068.4h.01M1380.3 875.2h.01M1476.8 928.2h.01M1314.8 602.9h.01M1315.5 777.2h.01M1406.5 1130h.01M1308.2 581.1h.01"/>
<path stroke="#000004" d="M1334.7 755h.01M1178.2 1082.1h.01M716.1 632.9h.01M620 684.1h.01M1217.2 1101.5h.01M1477 1160.3h.01M1465.6 1087.6h.01M1540.5 911.6h.01M1483.5 1074.7h.01M1553.6 920h.01M1526.7 1011.3h.01M1411.7 784.5h.01M1297.2 1083.7h.01M1150.2 343.1h.01M1534.9 852.7h.01M1527.8 1071h.01M431.3 669.5h.01M1434.5 836.8h.01M1435.5 1039.2h.01M1616.2 998.3h.01M1167.5 795h.01M1033.7 684.2h.01M435.1 755.1h.01M1000.3 1154.2h.01M1183.2 386.2h.01M459.3 1057.4h.01M1166.1 347.4h.01M1285.6 408.1h.01M1016.4 304h.01M1056.2 299h.01M1259.6 469.4h.01M1474 1020.8h.01M1179.1 865.8h.01M1343.3 659.3h.01M391.4 664.3h.01M1296 439h.01M964 357.6h.01M612.8 550.3h.01M1595.9 999.2h.01M1342 917.5h.01M1418.3 1118.6h.01M1058.4 736.3h.01M1475.1 978.1h.01M1043 346.1h.01M898 1200.3h.01M884 299.8h.01M1500.7 896h.01M1006.9 1166.1h.01M1181.6 881.4h.01M967.7 284.9h.01M1302.9 395.4h.01M459.8 1059.3h.01M1350.7 1047.8h.01M1367.3 843.5h.01M1236.8 920.1h.01M1437 992h.01M1121.9 440.7h.01M453.1 1041.6h.01M1527.7 959.5h.01M1334.4 929.9h.01M383.1 667.9h.01M1559.6 1005.2h.01M1086.3 284h.01M1062.7 938.8h.01M1117.4 449.3h.01M1610.5 922.5h.01M1083.3 357h.01M1421 785.9h.01M503.5 612.6h.01M905.4 1189.4h.01M1110.1 333.7h.01M576.7 651.6h.01M913.7 263.7h.01M1204.1 892.4h.01M1242.1 398.2h.01M1151.8 329.5h.01M1603.5 920.1h.01M874.8 1194.3h.01M1192.1 1099.3h.01M1537 896.3h.01M1539.7 1034.8h.01M549.8 695.7h.01M486.7 1059.3h.01M1108.1 942h.01M602.1 624.7h.01M1148.6 398.2h.01M1335.5 737.7h.01M1647.8 987.9h.01M1305.5 366.3h.01M1183.1 517h.01M1243.6 494.5h.01M1148.7 479h.01M1011.7 1159.1h.01M1457.9 725.7h.01M540.2 727.4h.01M1497.6 885.2h.01M1580.7 1088.6h.01M1624.3 875.1h.01M1121.8 387.3h.01M464.6 1083.4h.01M1614.4 1024.4h.01M1267.9 973h.01M1035.7 351.1h.01M1423.8 746.1h.01M1309.8 643.9h.01M1229.6 334.7h.01M967.9 275.7h.01M1232.4 500.1h.01M570.2 854.1h.01M611.3 547.4h.01M1141.4 1009.3h.01M1513 864.4h.01M1299.1 961.8h.01M1084.8 409.2h.01M1518.3 1131.6h.01M795.2 315.9h.01M1170.9 379.8h.01M1313 885.9h.01M1030.2 321.3h.01M1116.5 1111.3h.01M1034.8 276.8h.01M1058.8 253.4h.01M1317.3 621.6h.01M1076.2 409.6h.01M1292 1104.6h.01M1167.6 818.7h.01M1037.3 275.1h.01M1436.6 1069.5h.01M1561.5 965h.01M1086.9 1124.1h.01M1568.4 937.8h.01M698.6 612.6h.01M1457.5 844.6h.01M1521 830.2h.01M445.7 683.2h.01M1158.3 807.5h.01M1403.8 757.5h.01M1209.7 523.6h.01M380.7 677.4h.01M1431.3 1065.1h.01M1107 347.4h.01M1223.1 526.7h.01M1169 294.2h.01M416.6 750.3h.01M1227.3 913.3h.01M1020 651.7h.01M1218.4 446h.01M1550.8 949.9h.01M474.6 1097.4h.01M855.8 1186.3h.01M814.5 330.5h.01M1626.7 929.5h.01M1190 1002.5h.01M1387.3 1105.3h.01M1071.4 1123.8h.01M1390 988.8h.01M520.7 1156h.01M1447.2 953.4h.01M1591.3 1034.2h.01M1262.4 464.7h.01M990.1 282.2h.01M408.5 741.6h.01M1040.6 720h.01M1076.4 1073.1h.01M1474.3 893.3h.01M1494.2 854.4h.01M1499.5 926.1h.01M1572.7 1012.3h.01M1332.2 1068h.01M1376.9 946h.01M1393.9 1129.4h.01M884.7 291.1h.01M1499.5 1054.9h.01M1255 794.1h.01M1245.8 368.9h.01M1515.7 983h.01M1267.4 1020h.01M1338 978.8h.01M1364.3 999.3h.01M1410.4 680.2h.01M1143.3 411.3h.01M1508 1126.7h.01M1432.6 856.9h.01M1345 949.9h.01M485.5 1110.4h.01M527.9 759.9h.01M1314.4 817.1h.01M520.7 1161.1h.01"/>
<path stroke="#6B1D81" d="M572.2 671.4h.01M1216.2 1047.6h.01M1248.3 298.5h.01M1282.9 1031.1h.01M766 327.1h.01M1352.5 658.8h.01M1567.6 1058.1h.01M1588 1119.2h.01M1041.4 1113h.01M1390.4 925.8h.01M1080 1097.4h.01M1538.3 1047h.01M1031.5 276.3h.01M1404.6 1004.9h.01M1345.7 1105.1h.01M1522.6 1112.9h.01M1160.8 406.4h.01M1224.9 455.9h.01M601.8 835.9h.01M1529.5 1054.6h.01M1225.9 284.2h.01M1525.8 1151.8h.01M1424.1 859.7h.01M916.2 1191.5h.01M659.1 736.8h.01M1165.5 395.5h.01M1591.4 942.8h.01M852.3 1178.9h.01M1588.9 920.7h.01M1358.8 651.6h.01M1560.1 964h.01M1059.9 1127.5h.01M1200.5 340.2h.01M1623.3 918.6h.01M1327.8 1001.3h.01M1258.6 738.2h.01M1197.7 424.8h.01M1247.2 293.3h.01M919.7 266.8h.01M1031.5 343.8h.01M1159.6 351h.01M595 766.7h.01M1520 939.1h.01M666.4 593.3h.01M644.4 603h.01M1171.2 308.2h.01M1197.3 450.9h.01M1129.9 1047.8h.01M1486.7 1076.1h.01M837.2 365.2h.01M1325.5 881.4h.01M1296.2 801.1h.01M1384.1 1082.8h.01M936.3 296.1h.01M1245.2 948.1h.01M1401.4 653.8h.01M1441.8 828.8h.01M1442.8 912.3h.01M1258.1 418.5h.01M1048.3 924.1h.01M1310.8 475.3h.01M1422.9 982.2h.01M751.1 337.7h.01M1254.8 440.1h.01M1475.8 1122.3h.01M532.7 765.3h.01M1040.6 928.3h.01M1096.8 939.3h.01M1539.3 895.9h.01M1358 676.7h.01M1223.1 370.2h.01M1432.1 1024.2h.01M438 674.9h.01M1038.7 714h.01M1616.1 925.4h.01M1546.4 1077.3h.01M1054.5 934.6h.01M1145.7 1037.1h.01M1177.9 879.4h.01M1593.2 929.3h.01M1031.5 317h.01M1183.8 460.2h.01M1563.8 1021.2h.01M1490.5 1082.9h.01M1535.3 1038.6h.01M1254.7 784.6h.01M1383.4 908.8h.01M1354.2 792.2h.01M585.1 673.7h.01M1493 1057.1h.01M1064.5 252h.01M1130.4 365.2h.01M1212.6 894.3h.01M1366.8 1044h.01M1419.3 1072.7h.01M1316.9 1044.2h.01M1204.1 398.3h.01M1638.9 951.7h.01M852.7 388.5h.01M1666.1 929.2h.01M1315.4 1070.3h.01M1054.1 733.3h.01M1387.9 807.8h.01M535.7 767.4h.01M597.4 747.6h.01M1426.9 1000.3h.01M1363.1 891.7h.01M1630.1 1003.7h.01M1509.6 1112.2h.01M620.3 783.6h.01M1437 1167.6h.01M1070.3 368.5h.01M1441.6 706.6h.01M1294.1 406.7h.01M1586.6 875.3h.01M1260.3 747.6h.01M1340 879.5h.01M1486.9 1100.4h.01M1318.9 1111.2h.01M1085.1 264.9h.01M1304.3 745.1h.01M1400.9 968.4h.01M1266.5 770.9h.01M1176.2 724.2h.01M1439.3 956.5h.01M1069.4 931.6h.01M1334.3 1044.1h.01M1320.6 1039.1h.01M1019.9 275.9h.01M980.2 1173.1h.01M1098.5 242.9h.01M853.7 1169.1h.01M1161.7 389.3h.01M1478 987.1h.01M1593.9 1024.6h.01"/>
<path stroke="#E85362" d="M1636.9 980h.01M1368.6 892h.01M1318 724h.01M1298.1 912.9h.01M523.2 612.9h.01M1386.3 768.4h.01M1564.6 1053.3h.01M1440.3 1118h.01M1269.8 932.5h.01M1312.3 567.6h.01M1454.8 1124.1h.01M1174.5 887.6h.01M1529 855.4h.01M1051.3 269.8h.01M1383.6 1099.8h.01M1474.7 1003.8h.01M1509.8 1120.1h.01M1208.3 446.2h.01M1358.5 837.1h.01M657.6 729.1h.01M595.3 705.5h.01M1222.8 398.4h.01M1421.2 1005.5h.01M1493.3 888.7h.01M1522.9 1092.3h.01M1383.5 667.3h.01M1494.7 957.2h.01M1320.5 975.5h.01M1018.3 1135.2h.01M1389.4 1026h.01"/>
<path stroke="#F9795D" d="M1014.6 1157.9h.01M1503.3 984.5h.01M1445.6 894.3h.01M1187.2 886.8h.01M1070.9 940.1h.01M1329.4 1018.8h.01M1123.3 280.3h.01M1039.6 697.9h.01M366.4 654.8h.01M1111.8 380.1h.01"/>
<path stroke="#FEA772" d="M1429.7 714.2h.01M1470.3 1162h.01"/>
<path stroke="#FDD49A" d="M1216.4 453.1h.01"/>
<path stroke="#6B1D81" d="M528 770.6h.01M1166.3 995.6h.01M1436.8 1076.5h.01M1061.8 275.4h.01M582.4 738.4h.01M1044.6 1119.7h.01M1321 1006.5h.01M1584.7 898.7h.01M607.8 820.6h.01M1148.6 1106.5h.01M1493 1061.8h.01M1421.1 845.4h.01M1567.4 876.8h.01M571.4 849.5h.01M1588.6 903.8h.01M1284.4 1064.3h.01M619.2 798.7h.01M1044.8 926.6h.01M1109.5 304.6h.01M1427.3 1068.4h.01M1498.9 852.3h.01M1305.5 986.8h.01M1115 337.3h.01M1202.7 352.1h.01M1352.1 797h.01M1158.4 1094.9h.01M1629 899.2h.01M1230.4 360.6h.01M1289.9 690h.01M1077.3 948h.01M1295.4 803.1h.01M1037.8 299.6h.01M684.5 732.8h.01M1045 309h.01M1281.4 387.4h.01M946.6 276.9h.01M1328.6 774.3h.01M1616.9 1064.4h.01M808 322.6h.01M1522.4 956.5h.01M1559.6 1021.9h.01M1498.5 1170.8h.01M1181.6 402.3h.01M1228.3 934.9h.01M1688 896.3h.01M1637 983.7h.01M1399.3 701.9h.01M1379.9 1096.4h.01M870 1194.5h.01M1153.3 504.7h.01M1331.2 761.3h.01M1255.2 342.7h.01M953.8 1175.3h.01M1329.4 922.1h.01M1390 1052.6h.01M1147 321.3h.01M1397.9 1088h.01M923.7 276.8h.01M1611.6 1000.5h.01M1495.8 893h.01M1165 405.4h.01M576.9 758.3h.01M1142.9 335.5h.01M1497 1149.1h.01M1237.9 465.2h.01M1553.9 1107.5h.01M1532 1140.9h.01M1511 1158h.01M1326.3 783.2h.01M1163.6 425.6h.01M1262 349.2h.01M1491.4 958.4h.01M1178 462.9h.01M1017.7 333.6h.01M1440 1151.5h.01M1115.1 1031.3h.01M1418.3 901h.01M634.3 777.4h.01M1034.2 266.3h.01M573.9 760.6h.01M1530.7 922.8h.01M1479.3 934.2h.01M1447.3 863.7h.01M1314.5 775.5h.01M1364.8 1043.6h.01M1008.7 1166.9h.01M1336.4 1063.7h.01M1257.8 1058.5h.01M886.7 1205h.01M1055.1 936.2h.01M1427.9 1036.7h.01M1433.5 861.6h.01M1407 843.9h.01M1603.3 944.3h.01M1458.9 841.1h.01M1615.5 956.9h.01M1302.5 725.1h.01M1328.3 691.5h.01M1492.6 831.9h.01M1577.6 922.3h.01M624.5 773.2h.01M1140 345.6h.01M1332.8 911.1h.01M900.9 392.1h.01M924.1 305.7h.01M1379.9 661h.01M866.3 1186.9h.01M1199.9 519.5h.01M1047.5 944.3h.01M1113 441.4h.01M1442.1 945.6h.01M1175.5 390.1h.01M1088.2 1097.7h.01M831 353.1h.01M1226.4 407.7h.01M1364.7 1078.7h.01M1273.3 781.7h.01M1540.9 965.7h.01M1375.9 782.1h.01M1174.2 488.9h.01M1009.2 353.2h.01M1420.9 703.2h.01M1138.9 1095.4h.01M1177.3 414h.01M997.1 1154.8h.01M1560.7 909.2h.01M662.4 721h.01M1611.4 996.8h.01M1249.8 369.9h.01M956.1 297h.01M1116.9 945h.01"/>
<path stroke="#B63679" d="M1378.1 895.2h.01M415 743.8h.01M1072.3 951h.01M1381.8 1142.7h.01M1263.5 1093.6h.01M1432 1071.8h.01M1328.6 477.7h.01M1043.9 916.1h.01M1486.9 921.6h.01M1598.6 1020.9h.01M1102.1 1079.4h.01M1689.2 881.6h.01M666.7 731.3h.01M1253.3 1003.2h.01M1275.4 875.5h.01M978.9 1158.1h.01M1486.4 935.4h.01M1436.2 1036.7h.01M1266.4 1010.5h.01M1551.9 1069.8h.01M1237.3 426.3h.01M1116.2 454.1h.01M1156.8 1104h.01M1225.7 432.1h.01M1259.8 524.4h.01M1309.3 548.2h.01M1455 938.9h.01M587.9 755.5h.01M849.9 370h.01M1323.2 986.6h.01M597.9 821.4h.01M1265.4 678.5h.01M1070.3 1070.3h.01M710.5 649.5h.01M1481.4 1143.9h.01M1412.7 919.8h.01M1423.6 1123.2h.01M614.3 549.3h.01M1272.2 1014.7h.01M1436.3 999.3h.01M1478.2 911.6h.01M1462.2 960.5h.01M616.3 789.3h.01M820 354.3h.01M1370.8 957.5h.01M1406 1028.3h.01M1432.1 1017.6h.01M1198.4 893.6h.01M1301.3 771.4h.01M913.1 293.3h.01M1310.5 585h.01M1268.8 543.1h.01M1056.4 924.4h.01M1444.1 950.3h.01M1270.8 511.5h.01M533.2 618.5h.01M1459.8 1149.8h.01M816.3 350.7h.01M811 299.2h.01M1458.5 1109.3h.01M1322.7 924.7h.01M1313.7 594.4h.01M1476.4 1155.8h.01M1209.3 898.8h.01M1591.6 1061.5h.01M1314 828.4h.01M541.2 767.1h.01M1217.4 343h.01M611.8 804.2h.01M1571.4 1064.6h.01M1292.4 386.7h.01M909.3 1164.3h.01M567.9 686.6h.01M1486.3 961.6h.01M1263.6 920h.01M1437.1 1046.3h.01M1113.4 941.4h.01M1051.3 357.8h.01M1183.9 1090.8h.01M1095.9 314h.01M1173.2 534.9h.01M1361.5 1026h.01M1361.7 1035.4h.01M1704.7 898.3h.01M1091.8 362.4h.01M1150.1 393.1h.01M1196.8 392.4h.01M1268.4 781.2h.01M1201.6 544.9h.01"/>
<path stroke="#000004" d="M1324.8 436.8h.01M1393.7 692.2h.01M477.9 1103.3h.01M1153.3 810h.01M1328.3 712.9h.01M1319.8 609.8h.01M598.5 640.9h.01M1542.5 1020h.01M1160.9 448.4h.01M1419.4 745.5h.01M470 1089.8h.01M1284.8 700.6h.01M496.7 1123.1h.01M448.2 665.4h.01M1446 883.9h.01M1481.2 811.4h.01M1234.3 333.1h.01M1418.4 754.3h.01M1378.4 777.7h.01M1389.5 697h.01M543.3 619.5h.01M1321 1008.6h.01M1415.2 1061.3h.01M947.5 269.5h.01M1372.7 752.8h.01M1441.9 907.1h.01M1557.5 1087.9h.01M1429.2 1055.6h.01M1345.6 1101.6h.01M966.1 272.9h.01M1209.2 1006.4h.01M646.8 599.4h.01M1592.5 989.3h.01M1320.4 466.8h.01M1198.5 391.8h.01M1453.1 976.2h.01M1002.8 347h.01M1564.3 1007h.01M999.6 323.4h.01M1028.3 280.3h.01M608.3 585.3h.01M1656.8 953.7h.01M879.1 1203.4h.01M1488.8 905.6h.01M555.7 661.9h.01M1094.8 367.8h.01M562.9 711.9h.01M1603.2 927.5h.01M1375.3 730.4h.01M1500.9 1075.3h.01M1436.9 917.9h.01M1625.5 923.1h.01M1149.5 378.3h.01M1074.9 921.6h.01M485.4 1110.1h.01M1289 583.9h.01M1124.8 336h.01M1314.2 769.3h.01M1335.1 782.6h.01M1531 974h.01M1562.4 892.3h.01M1518.8 1099h.01M1206.9 557.4h.01M531 757h.01M1543.2 914.9h.01M1277.9 787.2h.01M1068.9 959.4h.01M1250 633.2h.01M1487.7 1114.4h.01M982.7 254.8h.01M1232.9 482.2h.01M1655.1 946h.01M946.3 271.7h.01M455.8 1050.7h.01M1178.7 855.3h.01M1277.7 909.4h.01M1431.5 897.1h.01M1224.6 382.4h.01M1342.5 874.7h.01M1094.3 293.8h.01M1151.8 1092.5h.01M1019.2 303.5h.01M1484 1096.3h.01M1465.7 1077.1h.01M1281 776.6h.01M1100.2 307.2h.01M809.2 322.3h.01M607 668h.01M1038.3 290h.01M1025.7 313.6h.01M1420.1 849.3h.01M501.6 1131h.01M1092.3 312.1h.01M417.8 663.3h.01M1073.5 365.1h.01M1390.7 951.9h.01M1619.7 944.6h.01M1292.6 419.8h.01M1301.8 967.6h.01M1500.3 1061.8h.01M1127.5 1052.7h.01M1495.7 985.2h.01M1198.5 442.8h.01M1060.6 287.2h.01M477.7 1099.6h.01M1554.1 875.2h.01M1260 395.2h.01M1554.9 937.5h.01M1303 1004.5h.01M1435 1136.3h.01M1168.2 257.7h.01M1448.3 878.4h.01M1603.4 910.2h.01M1137.6 260.1h.01M1342.2 1030h.01M1465.2 1063.3h.01M1630.5 941.2h.01M987.2 341.3h.01M1195.6 352.6h.01M1067.8 371.5h.01M1383.5 997.8h.01M1155.4 276.3h.01M1535 952.7h.01M603.1 665.9h.01M430 755.7h.01M1089.8 416.8h.01M504.5 1131.7h.01M1046.1 1134h.01M1415 876.1h.01M1585.4 993.1h.01M1044.4 706.2h.01M1460.9 1055.6h.01M610.3 564.9h.01M1033.7 307.2h.01M1256.8 613.5h.01M1206.2 318.6h.01M1313.4 602.5h.01M1363.4 703.3h.01M1313.6 984h.01M604.7 613.9h.01M1352.8 918h.01M1627.4 887.2h.01M1322.5 1028.7h.01M1276.3 718.7h.01M1221.1 422.6h.01M1270.7 412.4h.01M1594 903.5h.01M1354.6 980.5h.01M1221.7 450.1h.01M1664.6 958.3h.01M1407.6 913.2h.01M351.1 634.4h.01M454.9 1049.2h.01M1325.9 735.6h.01M566.7 846.7h.01M1199.5 889h.01M1231 372.4h.01M1550.7 932.5h.01M1111.1 1033.6h.01M1314 668.3h.01M1306.6 738h.01M538.6 768.7h.01M562.9 663.1h.01M1395.8 928h.01M1669.4 961.1h.01M419.9 738h.01M962.2 313.3h.01M1147.3 339h.01M957.9 296.1h.01M837 369h.01M1080.4 311.6h.01M1182.7 470.1h.01M1467.9 866.9h.01M1115.8 494.5h.01M1282.5 986.4h.01M660.7 596.6h.01M1107.4 467.6h.01M1067.1 310.9h.01M728 640.5h.01M455.7 736.9h.01M850.3 373h.01M1331.3 1039h.01M1125.7 1033h.01M427.6 753.3h.01M615.6 639.6h.01M1363.9 1091.1h.01M1280.9 385.6h.01"/>
<path stroke="#E85362" d="M1314 558.4h.01M1396.4 1101h.01M747.7 339h.01M1023.1 696.9h.01M1308.1 599h.01M1169.5 309.9h.01M1271.6 430h.01M1056.9 725.2h.01M1291.1 736.8h.01M1338.4 693.7h.01M1306.9 792.7h.01M562.6 848.9h.01"/>
<path stroke="#F9795D" d="M1052.8 743.3h.01M1421.4 1100.4h.01M1324.6 635.7h.01M1561.2 1079.9h.01"/>
<path stroke="#FEA772" d="M1228.9 1103.2h.01M1039.6 306.5h.01M1393.8 1158.5h.01M1517.6 1089.7h.01M1307.5 592.3h.01M1368.2 1076h.01"/>
<path stroke="#FDD49A" d="M1470.5 841.5h.01"/>
<path stroke="#B63679" d="M1061 906.7h.01M992.4 306.7h.01M1383 739.1h.01M1393.8 918.9h.01M1348.7 748.8h.01M1619.6 993.1h.01M1023.1 698.8h.01M1262.4 660.6h.01M1498.7 1052.3h.01M423.5 725.2h.01M1142.6 1021.2h.01M1519.5 888.6h.01M1239.1 446.1h.01M1524.5 956.5h.01M1492.5 1010.4h.01M1394.6 902.3h.01M1055.4 935.7h.01M956.7 299.9h.01M1472.2 917.3h.01M1377.3 1094.5h.01M1048.5 340h.01M1354.8 758.3h.01M1313.9 950.1h.01M1128.1 436.3h.01M1386.4 1068.6h.01M630.5 659.5h.01M1544.4 1002.3h.01M1473.6 1151h.01M1088.5 932.8h.01M1369.2 851.6h.01M1149 355h.01M1382.7 1122.1h.01M1435.2 1139.3h.01M421.2 650.7h.01M421.2 695.7h.01M1312.7 795.8h.01M1015.3 341.6h.01M1466.5 1131.5h.01M863.1 1179.1h.01M1361.3 971.8h.01M1048.7 714h.01M593.2 664.5h.01M1237.3 333.6h.01M1430.6 849.9h.01M1445.4 914.7h.01M1328.8 969.6h.01M1431.4 685.5h.01M1480.7 1041h.01M995.3 279.4h.01M1541.7 1074.7h.01M1382.7 851.2h.01M1322.5 724.6h.01M868 1192.4h.01M1394.8 681.4h.01M1300.6 785.1h.01M1273 979.6h.01M1069.4 923.3h.01M1392.3 874.5h.01M1392.2 947.2h.01M1429.6 1056.4h.01M1415.3 782.9h.01M1578.5 1010.8h.01M1525.3 961.5h.01M424.1 747h.01M1287.9 1089.3h.01"/>
<path stroke="#6B1D81" d="M1060.8 1099.5h.01M983.5 251.6h.01M1471.8 875.7h.01M1310.1 695.8h.01M1284.4 332.1h.01M1373.9 754.8h.01M625.9 807.4h.01M1188.7 301.7h.01M1204.5 320.6h.01M967.8 318.8h.01M1233.6 457.3h.01M1450.9 901.6h.01M1146.2 1036.9h.01M1199.2 324.9h.01M1354 945.1h.01M1154.3 390.1h.01M1664.2 879h.01M1040 730.8h.01M1535.6 944.5h.01M1168 731.7h.01M1331.1 1043.9h.01M1156.8 362.8h.01M661.5 732.2h.01M1046.5 319.5h.01M1117.2 1042.4h.01M1169.5 570.5h.01M1160.3 392.3h.01M1205 406h.01M1306.7 584.8h.01M1273.3 690.1h.01M1049.6 722.2h.01M1401.5 657.6h.01M1313.1 956.5h.01M1490.4 813.6h.01M1133.4 319.1h.01M1655.8 894h.01M1443.4 880.6h.01M1311.2 1095.4h.01M1529.2 983.3h.01M1318.8 1095.6h.01M1329.1 1099.9h.01M1065.6 1138.6h.01M1238.8 450h.01M1121.7 457.4h.01M1294.1 530.9h.01M985.6 280.7h.01M1525.2 1025.8h.01M1172.7 350.2h.01M1305.6 1017.5h.01M1333.4 680.2h.01M1303.2 823.1h.01M1043.2 311.2h.01M1453.7 952.1h.01M1130.3 1103.9h.01M1002.9 319.8h.01M1192.8 538.3h.01M1554.1 886.2h.01M1396.4 719.3h.01M1062.7 741.1h.01M811.7 329.2h.01M941.7 270.5h.01M1321.7 999.8h.01M1170.1 260.5h.01M1236.7 1059.4h.01M1105.9 258.1h.01M1390.4 862h.01M1568.9 1039.7h.01M1453.7 912.6h.01M1219.9 348.9h.01M1427.9 1093.1h.01M1061.6 255.4h.01M879.3 297.2h.01M1537.6 880.6h.01M1555.3 906.6h.01M957.1 269.1h.01M1022.6 689.7h.01M1571.5 1034.4h.01M1367.7 852.8h.01M1537.1 907.6h.01M1289.1 773.8h.01M620.3 774.3h.01M832.7 358.7h.01M599 818.4h.01M1550.9 926.5h.01M1159.5 517.9h.01M837.1 329.3h.01M946.3 295.3h.01M1322.7 1035.7h.01M532.7 773.7h.01M1080 1076.3h.01M843.1 284.5h.01M1450.7 1034h.01M1272.7 610.5h.01M1184 392.2h.01M1337.7 720h.01M844.1 370.1h.01M1065.2 749h.01M1682.5 914.5h.01M1462.9 1118.5h.01M1212.6 898.4h.01M1355.1 904.6h.01M1341.4 953.7h.01M1327.2 714.2h.01M1421.3 984.3h.01M1247.6 613h.01M1468.5 914.1h.01M1628.7 880.5h.01M1391.3 963.4h.01M1092.8 935.2h.01M1356.6 1065.6h.01M518.7 1030.7h.01M1284.2 782.2h.01M1180.5 1082.9h.01M646.4 598.4h.01M1399.7 885.3h.01M1348.8 871.7h.01M842.9 318.4h.01M1100.8 358.3h.01M1353.4 867.1h.01M1074.8 416.9h.01M1403.7 863.1h.01M846.5 1167.9h.01M1267.6 375.8h.01M1297.5 447.1h.01M1100.4 451.7h.01M1450.4 836.9h.01M1623.3 990.9h.01M1500.6 880.8h.01M1148.6 511.2h.01M1300.5 438.1h.01M1325.4 914.9h.01M1221.3 344.3h.01M1397.8 720.2h.01M1485.8 1120.8h.01M1059.6 1084.7h.01M1496.2 918.2h.01M1159.5 1106h.01M1293.5 701.9h.01M1304.2 344.9h.01M1012.1 330.1h.01M1260.7 488.2h.01M1532.8 902.1h.01M1491.7 994.6h.01M1593.3 892.2h.01M1443.1 1117.5h.01M1075.6 921.5h.01M1285.1 1104.5h.01M1621.9 1005.3h.01M599.1 698.4h.01M1536.5 930.5h.01M1322.6 781.1h.01M1410.6 1148.5h.01M1621.6 953.1h.01M1215.7 1072.7h.01M776.5 320.3h.01M1299.8 705.1h.01M1191.7 370.5h.01M1345 920h.01"/>
<path stroke="#F9795D" d="M1291.6 748.7h.01M503.3 1042.7h.01M1083.1 761h.01M1135.8 494.1h.01M1381.8 953.6h.01M1353.4 961.1h.01M1421.2 1055.5h.01M1146.1 1101.8h.01M588 838.3h.01M547.4 709h.01M1331.1 886.2h.01M1396.3 1113.4h.01"/>
<path stroke="#000004" d="M947.7 304.1h.01M1392.6 1049.5h.01M1159.3 327.4h.01M1594.1 992.6h.01M474.8 678.6h.01M1204.5 457.5h.01M903.8 271.9h.01M1534 1010.3h.01M1329.8 749.2h.01M1282.7 929.9h.01M1158.6 430.1h.01M1045.6 360.7h.01M1501.7 854.3h.01M1471.8 944.2h.01M827.6 316.3h.01M1250.4 998.2h.01M886.1 1185.8h.01M1589.4 951.1h.01M1177.6 874.7h.01M974.9 290.3h.01M1274.9 402.6h.01M1179.4 344.1h.01M624.1 640.8h.01M689.5 611.2h.01M1259.3 455.9h.01M1602.6 1021.1h.01M1192 285.9h.01M1621.8 885.7h.01M1454.9 974.5h.01M1179.3 860h.01M735.2 625.8h.01M898.6 273.5h.01M1202.7 914h.01M541.4 740.5h.01M1355.4 764.1h.01M1287.2 361.3h.01M1567.3 1014.3h.01M1481.2 1002.9h.01M1153 364.2h.01M1391.3 990.2h.01M1256.7 574.2h.01M1391.5 998.3h.01M1400.9 783h.01M1334.5 674.4h.01M1250.4 632.1h.01M1621 915.1h.01M1470.5 844.4h.01M1152.4 809.5h.01M1133.8 981.6h.01M1399.2 682.2h.01M612.9 671.8h.01M1417.9 861.8h.01M1251.5 570.1h.01M504.2 1134.5h.01M1390.1 1005h.01M1077.2 277.9h.01M1522 937h.01M1414.3 1058.2h.01M1314.9 791.9h.01M1424 673.4h.01M484.8 1109.2h.01M975.2 307h.01M612.5 810.8h.01M1021.8 350.1h.01M1184.4 881h.01M790.2 325.5h.01M348.6 658.3h.01M371.2 642.9h.01M1208.2 469h.01M1353.5 906.3h.01M1025.9 702.1h.01M1166.7 940h.01M1315.5 822.2h.01M1466.9 1140.7h.01M389 670.2h.01M1103.9 248.6h.01M842.9 368.4h.01M1273 395.6h.01M1372.4 974.8h.01M1326.4 907h.01M1263.4 325.7h.01M620.3 773.8h.01M1453.1 1056.8h.01M489.3 1060.3h.01M1316.1 762h.01M1249.8 501.6h.01M1019.5 319.9h.01M1268.1 649h.01M1594.7 1031.4h.01M1604.8 1025.2h.01M1180.6 376.9h.01M1570.2 956.6h.01M1291 450.8h.01M613.5 646.6h.01M1192.2 1008.2h.01M1140.9 342.6h.01M1250.1 999.2h.01M1452.7 927.7h.01M448.2 1058.6h.01M457.2 1058h.01M1259.4 567.5h.01M1176 1025h.01M1239.9 943.3h.01M1018 250.5h.01M1415.3 1153.3h.01M1576.9 1013.9h.01M1286.7 384h.01M1287.6 364.1h.01M1221.3 385.2h.01M1289.8 993h.01M733.8 345h.01M997.3 257.9h.01M1195.1 290.9h.01M1365.3 1085.6h.01M1279.4 679.8h.01M1400.1 744h.01M1388.7 735.8h.01M1201 533.4h.01M592.4 832.9h.01M583 668h.01M1412.2 852.9h.01M1096.9 259.2h.01M1434.1 748.4h.01M1571.9 1009.2h.01M1171.6 354.7h.01M1337.7 694.7h.01M1110.7 280h.01M1490.5 851h.01M1514 1172.4h.01M559.3 754h.01M949.2 320.5h.01M439.7 731h.01M1622.8 878.6h.01M1332.5 951.2h.01M1024.2 300.2h.01M1412 730.5h.01M1236.2 944.1h.01M1228.6 936.2h.01M1098.9 268.5h.01M1439.1 928h.01M602.4 618.7h.01M586.5 684.4h.01M1360.3 955.6h.01M1355.2 691h.01M733.4 351.8h.01M1323.3 528.4h.01M1053.3 703.3h.01M1382.4 1108.4h.01M1195 778.7h.01M1075.9 1140h.01M618.3 697.7h.01M1633.9 908.6h.01M1575.8 922.1h.01M1239.8 935h.01M557.5 629.4h.01M1575.1 1053.4h.01M1268.4 631.6h.01M1290.9 347.9h.01M1471 1127.1h.01M1181.9 331.5h.01M1450.9 696.9h.01M1277.5 366.5h.01M836.5 369.9h.01M1636.9 944.1h.01M1360.1 989.4h.01M537.9 622h.01M1601.9 1085.6h.01M1266.7 960.1h.01M1391.7 1063.7h.01M1133.8 435.2h.01M1402.5 760.8h.01M1523.7 834.7h.01M1430.4 1169h.01M598.4 626.4h.01"/>
<path stroke="#E85362" d="M558.1 690.5h.01M1160.8 504.5h.01M1608 959.9h.01M586.1 755.3h.01M1502.6 877.8h.01M1380.9 919.8h.01M1425 974.3h.01M1353.3 868.8h.01M1260 1096.7h.01M1449.4 904.1h.01M559.8 860.9h.01M705.4 629.1h.01M1114.4 482.3h.01M1182.4 877.5h.01M1298.6 1030.2h.01M1390.3 1125.5h.01M1109.8 1077.7h.01M1384.1 939h.01M1294.1 441.5h.01M1384.7 879.2h.01"/>
<path stroke="#FEA772" d="M1423.5 718.6h.01"/>
<path stroke="#B63679" d="M914.4 1188.5h.01M1415.7 1078.1h.01M1377.7 712.7h.01M1154.6 1099.8h.01M1281.2 533.8h.01M1463.4 981h.01M1385 703.1h.01M555.2 617.4h.01M1307 1005h.01M1047.5 939.4h.01M1020.5 254.3h.01M1362.7 1049h.01M1032.8 344.6h.01M1037.1 716h.01M1338.7 811.4h.01M1290.3 735h.01M1438.3 963.9h.01M1268.3 1018.7h.01M1101.9 446.3h.01M1647.5 982.4h.01M1101.4 951.4h.01M1102.6 1068.9h.01M1449.5 1074.7h.01M1021.3 247.8h.01M1441.3 878.4h.01M1315.1 932.5h.01M1428.8 683.6h.01M592.8 831.9h.01M1204.8 276.2h.01M1431.2 1099.3h.01M1268.3 909.4h.01M1499.7 1169.9h.01M1587.2 1025.9h.01M1498.4 1045.7h.01M1585.5 1001h.01M1231.2 433.3h.01M1044.1 713h.01M1032 700.3h.01M1499 1089.4h.01M608.7 808h.01M1033.5 716.3h.01M1570.8 1090.8h.01M1316 608.3h.01M1446.4 879.2h.01M1359.9 954.1h.01M1252.9 777.2h.01M1084.4 317.7h.01M1288.7 475.2h.01M1517.8 962h.01M1299.7 1055h.01M1154.4 301.4h.01M1654.8 988.4h.01M1192.5 511.1h.01M1602.6 1061.7h.01M349.5 623.4h.01M764.8 624.5h.01M1444 1001.2h.01M1329.8 953.5h.01M1439.2 1071.5h.01M1119.1 1038.8h.01M1328.6 617.3h.01M596.6 824.6h.01M1634 979.3h.01M1434.7 1172.5h.01M1479.7 1028.6h.01M1562 1078.7h.01M999.1 1156.1h.01M1301.4 597.5h.01"/>
<path stroke="#6B1D81" d="M1431.9 911.8h.01M1232.5 395.7h.01M1615 865.8h.01M360.6 637.7h.01M1158.2 1102.3h.01M1408.5 719.6h.01M1170.5 475.5h.01M1598 939.6h.01M1443.1 834.7h.01M608.1 811.5h.01M995.1 300.4h.01M1147.1 437.1h.01M1503.6 1175.7h.01M1354.6 981.5h.01M915.6 303.2h.01M1033 347.8h.01M1101.4 334.9h.01M1177.5 502h.01M1335 743.1h.01M1416.4 971.9h.01M657.2 738.1h.01M1082.3 934.7h.01M1389.4 1064.3h.01M1120.7 1035.5h.01M1154.1 1084.5h.01M1221 915.4h.01M1439 1172.5h.01M1368.3 736h.01M602.2 823h.01M1600.9 1054.1h.01M609.7 817.5h.01M1314.6 522.4h.01M1326.7 913.6h.01M1424.1 883.7h.01M1050.2 918.6h.01M1608.9 986h.01M597.2 819h.01M1639.6 993.6h.01M1264.8 968.8h.01M1383.5 846.6h.01M670 583.3h.01M1523.5 1142.1h.01M1382.8 711.1h.01M1293.5 1080.6h.01M488.3 1064.4h.01M1450.2 867.5h.01M586.3 752.9h.01M1485.2 880h.01M1481.6 1133.2h.01M1222 466.6h.01M1149.9 327.1h.01M1020 1114.4h.01M1093.4 282.3h.01M1137 429.5h.01M1010.2 330.3h.01M1672.6 964.3h.01M359.7 634.3h.01M1141.9 1059h.01M1018.5 344.3h.01M1287.5 340.6h.01M1356.3 1105.3h.01M1260.4 1107.4h.01M1273.8 392.9h.01M1451.1 866.1h.01M1184 360.6h.01M1509.7 1039.4h.01M1224.7 898.9h.01M942.6 289.9h.01M1583.5 1000h.01M1540 1021.6h.01M1208.7 427.2h.01M524 768.7h.01M1134.9 368.8h.01M1524.9 1108.5h.01M1168.3 529.6h.01M583.6 838.8h.01M1257.8 784h.01M1010.4 287.6h.01M540.9 769.4h.01M1041.4 243.1h.01M1287.7 733h.01M1354.4 923.4h.01M1472.5 885.9h.01M1346.7 643.7h.01M531.9 760h.01M1343.6 1054.6h.01M1252.1 368.4h.01M1422.9 988.6h.01M615.4 646.1h.01M1347 960.2h.01M1504.2 1160.8h.01M1068.3 731.7h.01M1621.7 978.3h.01M677.1 730.2h.01M1396.9 875.3h.01M1276.5 343.6h.01M1450.2 912.9h.01M1174.7 878.4h.01M1233.9 973h.01M492 1063.3h.01M1626 879.2h.01M1067 348.5h.01M1164.9 504.5h.01M1278.7 1089.3h.01M1335.7 1034.4h.01M1297 800.8h.01M600.1 816.2h.01M432.2 691.3h.01M1472.3 762.8h.01M1395.7 1119h.01M821.2 337.7h.01M1208.1 370.6h.01M1045 744.2h.01M954.4 273.4h.01M1620 1010.2h.01M1039.7 717h.01M1432.8 1162h.01M1226.9 307.8h.01M1531.2 938.8h.01M605.3 612.5h.01M559.5 861.6h.01M1294.2 481.8h.01M1546 958.9h.01M964.8 295.5h.01M1186.9 402.4h.01M873.5 281.8h.01M948.6 307.5h.01M1290.7 356.9h.01M1357.9 722.6h.01M1364.8 1102.9h.01M901.4 1200.8h.01M904.6 1200.4h.01M1616.7 1023.6h.01M1346.9 1034.3h.01M1065.2 924.5h.01"/>
<path stroke="#E85362" d="M1406.2 1062.7h.01M1398.6 1026.9h.01M1329.5 719.5h.01M1580.7 1112.6h.01M1252.2 880.6h.01M1283.6 478.1h.01M880.6 1193.5h.01M1380.8 927.4h.01M1533 928.8h.01M1113.4 1089h.01M1457.6 1089.1h.01M1395.7 1052h.01M1518.4 1012.8h.01M1354.1 978.8h.01M1376.2 894.2h.01M1090.8 1061.8h.01M1309.9 602.4h.01M605.1 597.7h.01M1632.9 942.2h.01M1469.6 1064.2h.01M1379.9 1071.5h.01M1198.1 259.3h.01M1358.3 999.8h.01M1193.5 263.8h.01M1423.3 1144.9h.01M1324.5 336.8h.01M1603.3 893.9h.01M1530.6 1105.9h.01"/>
<path stroke="#000004" d="M954.6 289h.01M904.4 329.2h.01M1476.9 1103.9h.01M1164.5 329.5h.01M614.9 625.9h.01M967.9 1170.6h.01M1355.5 655h.01M1587.1 1120.4h.01M1419.6 1136.4h.01M1292.4 659.1h.01M1315.9 798h.01M445.2 698.8h.01M683.6 674.3h.01M1332.1 1028.7h.01M1108.1 1086.2h.01M1113.8 266.9h.01M1055 355.6h.01M922 280.9h.01M1180.8 995.1h.01M1372.2 981.5h.01M1380.3 1056.7h.01M1048 937.6h.01M1536.5 1061.1h.01M1481.7 768.7h.01M486.4 1077.7h.01M618.9 666.8h.01M1627 937.5h.01M1040 341.6h.01M1335.5 666.3h.01M1332.3 679.1h.01M1142.4 1098.1h.01M1618.1 880.5h.01M1489.2 825.5h.01M737.1 617.6h.01M1431.9 1021.1h.01M1228.8 393.3h.01M1260.8 585.1h.01M1692 880h.01M1309.6 651.3h.01M1422.7 1117.4h.01M1274.9 676.8h.01M1441.8 1047.2h.01M1044.1 1113.1h.01M1471.3 1014.3h.01M1091 399.8h.01M1327.4 959.7h.01M370 670.2h.01M619.3 796.7h.01M1368.6 1078.1h.01M1433 1157.6h.01M460.2 683.3h.01M1089.6 435.7h.01M1321 1038.7h.01M1023.3 241.8h.01M1193 437.5h.01M439.3 704.5h.01M455.5 1051.9h.01M1212.4 440.1h.01M873.7 1190.4h.01M426.7 648.8h.01M1247.7 282h.01M528.8 806.4h.01M615.2 763.1h.01M1362.2 696.4h.01M874.3 302.2h.01M1261.8 1002.3h.01M1020.4 311.6h.01M873.7 1190.2h.01M1336.5 733.3h.01M1246.2 1085.1h.01M985.2 411.8h.01M445 726.1h.01M1636.3 956.2h.01M1275.5 1068.2h.01M1301.7 901.7h.01M1407.2 1113.1h.01M759.6 333.5h.01M963.2 378.5h.01M1143.8 266h.01M1399.9 977.3h.01M1627.9 1002.2h.01M1071.7 1119.5h.01M1487.1 1058h.01M1296.6 347.4h.01M1126.6 287.6h.01M1584.6 902.7h.01M1234 419.8h.01M1408.1 950.8h.01M1548.2 1047.7h.01M1143.7 286.7h.01M1329.8 1010.5h.01M498 1037.3h.01M467.1 1084.9h.01M1143.6 1114.2h.01M1378.1 887.2h.01M592.9 625.2h.01M1308.8 754.8h.01M583.4 652.4h.01M1377 706.1h.01M1441 722h.01M1539.3 978.9h.01M1267 502.7h.01M1214.9 1067.6h.01M1293.7 768.8h.01M1008.4 280.1h.01M1481.8 759.1h.01M1565.4 890.3h.01M1241.6 448.4h.01M829.9 351.1h.01M1233 966.8h.01M1438.3 1122.3h.01M1329.1 1043.5h.01M579.7 661.5h.01M1258.1 766.9h.01M1460.5 965.7h.01M859.7 1167h.01M1329.3 755.7h.01M1199.5 340.2h.01M1360.4 811.2h.01M1583.7 918.9h.01M921.5 279.3h.01M1280.5 680.6h.01M602.8 641.2h.01M1081.1 392.7h.01M1004.2 245.4h.01M1379.8 682.5h.01M1172.7 473.3h.01M609.5 620.2h.01M1319.5 917.5h.01M374.8 666.7h.01M1507.3 842.1h.01M1449.2 1170.7h.01M1039.5 286.3h.01M1033.5 703.9h.01M1617.5 1024.9h.01M1103.2 250.5h.01M1527.7 969.3h.01M1631 907.4h.01M1478.9 912.3h.01M1063.8 367.4h.01M1372.9 865.5h.01M1455.1 1043.1h.01M1406 891.6h.01M1545.3 938.1h.01M1287.3 416.9h.01M1304.4 794.1h.01M1144.7 287.1h.01M943.5 379.9h.01M1100.2 330.8h.01M1044.9 358.7h.01M1349.4 746.3h.01M1282.6 394.2h.01M1404.7 785.7h.01M1110.6 382.4h.01M1090.1 432.3h.01M1123.7 935.7h.01M1501.4 906.9h.01M1391.1 702.6h.01M1383.8 1017.1h.01M1301.7 471.1h.01M602.1 635.4h.01M468 1088.3h.01M1526.4 1080.2h.01M1324.5 775.7h.01M705.7 666.7h.01M1189.9 1090.5h.01M1119.7 1055.9h.01M1643.7 903.7h.01M1401.5 860.6h.01M1369.1 708.1h.01M1071.5 753.4h.01M1318.4 624.9h.01M1502.7 946.1h.01M866.4 1201.1h.01M1567.5 1054.5h.01M416.7 661.5h.01M1296.4 623.3h.01M1405.4 1008.1h.01M1287.5 432.2h.01M1107.5 298.8h.01M951.2 663h.01M1585.4 1007.3h.01M1348.3 1094.6h.01M1129.7 280h.01M1560.8 858.5h.01M1314.7 1014.7h.01M1263.5 684.7h.01M1597.3 929.2h.01M1552 953.7h.01M1170.9 369.1h.01M1278.1 894.7h.01M1564.1 986.6h.01M622.8 777.5h.01M1505.9 829.5h.01M1283 317.7h.01"/>
<path stroke="#F9795D" d="M654.5 684.5h.01M634.6 716h.01M918.3 649.7h.01"/>
<path stroke="#FDD49A" d="M1477.6 1044h.01"/>
<path stroke="#B63679" d="M1271.9 504.6h.01M598.4 609.9h.01M1532.3 1078.7h.01M1488.2 1097h.01M1234.6 945.2h.01M1053.6 1105.5h.01M1124.7 1031.6h.01M1358.1 752.6h.01M1502.1 954.2h.01M1466.1 943.4h.01M1608.8 984h.01M1156.7 811.7h.01M1573.2 1093.8h.01M454.5 640.5h.01M938.7 1182.2h.01M602.2 630.9h.01M514.9 611h.01M1487.8 975.9h.01M1625.2 1020h.01M1618.1 872.8h.01M1278.6 978h.01M1536.6 1054h.01M606.4 800.3h.01M625.8 788.2h.01M1250.7 1080.9h.01M527.4 765.2h.01M1123.2 1107.9h.01M1407 1153.3h.01M914.4 1188.9h.01M1399.1 663.9h.01M1591.2 1041h.01M1434.7 1100.9h.01M1394.9 1132.4h.01M1471.5 1096.5h.01M1369.9 695.6h.01M508.1 711.4h.01M615.3 810.3h.01M1529.6 888.6h.01M1474.4 825h.01M1376.3 684.8h.01M1088 1072h.01M1244.9 1066.1h.01M1475 938.3h.01M1184.8 874h.01M1440.5 1154.2h.01M1318.2 1049h.01M1477.9 820.8h.01M1030.3 703.5h.01M1023.8 325.9h.01M1572.4 1047h.01M1333.6 864.7h.01M1510.9 932.2h.01M1207.3 1107.4h.01M1285.9 717.9h.01M854.2 1165.2h.01M1518.5 1105.3h.01M1396 692.9h.01M1553.5 1123.9h.01"/>
<path stroke="#6B1D81" d="M534.2 773.6h.01M1333.8 630.8h.01M1318.5 393.6h.01M1441 911.4h.01M1213.4 400.4h.01M1079.8 282.9h.01M1262.7 1092.7h.01M1277.8 776.2h.01M1611.6 962.1h.01M1293.7 1032.4h.01M1359.8 898h.01M1410.8 953.2h.01M1581.4 940.2h.01M895.3 267.7h.01M1461.2 1042h.01M1187.5 281h.01M1541.9 902.2h.01M1308.3 428.1h.01M1417.6 669.1h.01M1093.6 406h.01M1189.1 301.6h.01M1075 1107.1h.01M1339 1106.4h.01M1383.6 1092.7h.01M1449 858h.01M1080.2 925h.01M1539.9 889.5h.01M1047.6 1085.1h.01M1278.8 354.6h.01M1362.4 662.1h.01M1335.4 875h.01M1158.1 957.1h.01M1097 365.6h.01M1324.4 945.4h.01M1085.7 954.6h.01M594.5 818.7h.01M1154.3 358.7h.01M1293.1 523.2h.01M1466.5 1126.6h.01M1697.3 880.7h.01M1300.2 395.8h.01M1250.9 296h.01M1028.6 263.1h.01M1113.4 353.2h.01M1167.5 373.5h.01M1305.2 717.9h.01M1496.7 1018h.01M1319 1113.5h.01M751.9 336.8h.01M1094.1 1079.3h.01M1461.8 1076.9h.01M792.6 320.1h.01M1349.1 867.7h.01M1417.1 949.3h.01M1293.4 686h.01M1429.6 1075.4h.01M1304.4 958h.01M1334.1 903.8h.01M1299.2 757.3h.01M1014.6 249.8h.01M1430.9 970.3h.01M1392.4 803.9h.01M1593.1 1010.4h.01M1405.2 1097.2h.01M1188.4 495.2h.01M1060.4 292.3h.01M835 364.5h.01M1057.8 337.6h.01M858.4 294.5h.01M1515.6 1088.1h.01M1393.6 800.6h.01M1137.2 938h.01M1239.1 971.2h.01M519.5 726.2h.01M1064.7 736.1h.01M1331.7 947.9h.01M620 750h.01M1198.5 365.9h.01M1143.2 493.8h.01M1051.1 1124.4h.01M1285.2 314h.01M1380.3 968h.01M732.4 351.8h.01M998.9 1156.1h.01M1425.5 1043.8h.01M1406.5 965.9h.01M1483.8 939h.01M1414.7 1030.5h.01M557.8 860.1h.01M1243.5 440.6h.01M1508.4 882.6h.01M1430 942.1h.01M1001.6 323.7h.01M1144.4 406.8h.01M1289.1 765.9h.01M652.3 731.4h.01M1064.4 291.3h.01M1415.4 1133.7h.01M1444.5 933.2h.01M1473.5 974.8h.01M514 1034.7h.01M1429.2 1045.9h.01M1546.7 1114.9h.01M1040.1 339h.01M613.9 804.6h.01M1636.8 998.6h.01M1269 445.8h.01M1030.7 1146.6h.01M528.6 765.9h.01M1144.7 406.8h.01M1285.6 538.7h.01M1347.3 994.8h.01M1507.9 888.3h.01M1225.3 303.3h.01M1532.5 1085.8h.01M1562.5 1003.5h.01M1058.9 374.9h.01M1086.5 331.2h.01M1135.8 719.7h.01M1185.1 351.7h.01M1499.3 1000.6h.01M1151.5 399.2h.01M1330.5 683.4h.01M1331.3 841h.01M578.3 736h.01M869.6 1180.3h.01M1410.5 987.4h.01M1641 990.5h.01M1162.6 1081.3h.01M1356.1 871.2h.01M573.8 841h.01M990.2 267.7h.01M1101.6 387h.01M1071.2 361.4h.01M1231.7 909.2h.01M1152.1 343.3h.01M1092.4 396.9h.01M813.3 324.9h.01M807.7 301.9h.01M1185.4 1102.5h.01M1258 391.9h.01M1220.2 399.2h.01M1081.3 351h.01M1507.2 787.3h.01M596.7 831.1h.01M1291.5 433.9h.01M1268.1 427.4h.01M1563 885.5h.01M958 312.5h.01M823.1 308.8h.01M1393 891.3h.01M1296.9 319.7h.01M1134.3 301.9h.01M428.8 755.7h.01M580.8 844.4h.01M506.7 1043.3h.01M1402.4 874.7h.01M1421.2 984.4h.01M1322.1 347.8h.01M669.6 723.4h.01M1254.4 510.5h.01M1521.2 1126.6h.01M1208.8 428.9h.01M1528.5 1080.4h.01M977.5 271.2h.01M1093.3 275.9h.01M1338.6 929.3h.01M1535.9 953.5h.01M1293.3 982.4h.01M1390.5 998h.01M1303.8 315.8h.01M1490 855.8h.01"/>
<path stroke="#000004" d="M1004.3 281.9h.01M1540.3 950.4h.01M1545.2 1068.2h.01M1332.1 967.4h.01M1146.4 482.2h.01M1249.9 519.7h.01M1554.4 1148.7h.01M1092.9 375.2h.01M1615.5 955.3h.01M1418.7 1013h.01M474 1093.3h.01M1455.8 889.8h.01M1399 705.3h.01M1336.4 1010.8h.01M1409.6 1040.3h.01M1205.7 422.2h.01M1170.3 799.7h.01M439.6 707.4h.01M843.4 362.6h.01M1462.2 968h.01M1427 1155.2h.01M1243.8 961.5h.01M1454.8 822.7h.01M463.3 711.5h.01M817.3 340.9h.01M810.7 321.6h.01M956.1 1170.5h.01M1298.4 809.9h.01M620.1 684.4h.01M1386.6 1019h.01M1586 940.6h.01M1306.4 882h.01M1270.7 953.9h.01M1184.5 296.2h.01M1522.7 1090.4h.01M1500.7 991.8h.01M1275.1 645h.01M1285.4 356.7h.01M1458.1 822.3h.01M1463.8 1145.2h.01M1306.6 530.7h.01M1044.1 309.8h.01M630.8 670.1h.01M562.4 828.1h.01M1658.2 974.7h.01M1280.3 935.2h.01M472.5 1094h.01M1155.9 362.4h.01M1595.5 906h.01M916.1 294h.01M1206.7 1026.7h.01M951.5 355.3h.01M1396.1 912.4h.01M1108.1 1058.8h.01M1590.3 888.5h.01M1468.8 815.6h.01M977.5 251.2h.01M1215 429.1h.01M1327.9 660.8h.01M658 718.7h.01M881.8 279.8h.01M1261.6 997.3h.01M1476.4 848.3h.01M468.8 723.8h.01M1447.7 865.8h.01M1436.2 1103.7h.01M1382 1111.7h.01M1585 893.7h.01M1360.4 784.2h.01M479.2 1102.6h.01M747.8 337h.01M1483.5 1048.2h.01M1401.7 1133.6h.01M1229.4 920.7h.01M1138.2 341.7h.01M1502.1 914.6h.01M1131.1 301h.01M1544.5 1065.6h.01M1145.2 314.4h.01M1194.2 545.1h.01M430 689.7h.01M1440.7 1069.6h.01M1280.7 487h.01M1573.7 988.1h.01M1482.6 923.9h.01M1357.7 778.7h.01M1341 1045.4h.01M1065.8 723.3h.01M1099.5 347.6h.01M1552.4 865.4h.01M455.9 1055.2h.01M1388.7 1065.7h.01M1222.4 274.5h.01M1110.5 431.3h.01M1309.6 488h.01M1316.8 784h.01M1404.6 680.3h.01M1399.5 677.1h.01M941.2 262.7h.01M654.5 614.8h.01M877.9 1184.3h.01M1311.1 1047.8h.01M950.5 263.4h.01M1311.8 812.8h.01M1505.2 1078.6h.01M1283.9 332.4h.01M1066.7 700.8h.01M1385.1 1037.1h.01M1261.5 409h.01M621 543.1h.01M1327.8 1006h.01M1069.6 383.4h.01M1603.7 1038h.01M520.9 1161.7h.01M1575.6 1048.2h.01M1323.5 710.4h.01M1366.1 866.4h.01M1361.5 878.6h.01M811.1 334h.01M1214.4 303.8h.01M1437.2 1106.4h.01M1101.9 1052.6h.01M584.3 730.5h.01M897.5 1201.1h.01M1077.2 382.5h.01M1561.3 864.9h.01M677.1 671h.01M1494.3 1134.1h.01M1358.9 917.6h.01M1462.5 878.6h.01M1424.6 723.9h.01M1189 405.7h.01M1441.1 913.1h.01M1254.4 385.7h.01M1293.8 590.1h.01M490.7 1059.7h.01M1179 935.2h.01M1491.8 841.5h.01M1451.4 1019.1h.01M455.9 1064.5h.01M1670.3 965h.01M1376.8 1057.3h.01M1657.1 968.8h.01M1339.7 990.4h.01M1441.8 1137.7h.01M1466 1083.8h.01M962.5 287.6h.01M1315.1 948h.01M1119.1 294.6h.01M456.7 1054.6h.01M1315 950.1h.01M503.7 1132.7h.01M1508.9 886.6h.01M1146.9 498.1h.01M1460.2 1067.4h.01M618.8 717.9h.01M1675.4 979h.01M1110.4 318.7h.01M1588.1 1013.5h.01M1329.5 655.9h.01M923.1 272.7h.01M1218.7 429.1h.01M1355.3 773.1h.01M1104.5 340.1h.01M608.1 618.4h.01M681.9 657.9h.01M575.9 852.1h.01M1095.4 431h.01M717.3 638.4h.01M1179.6 310.6h.01M1073.8 261.1h.01M1244.4 973.2h.01M615.2 770.2h.01M1439 1069.5h.01M1298.9 583.1h.01M1269.1 1051.9h.01M1108.4 468.9h.01M610.4 579.9h.01"/>
<path stroke="#E85362" d="M1329.5 859.9h.01M1506.6 1121.1h.01M580 850.8h.01M1357.9 825.5h.01M1382.8 865.9h.01M1065 367h.01M1368.6 690h.01M1055.2 947.7h.01M460.4 693h.01M1153.9 824.8h.01M1447 1122.2h.01M1014.6 415.3h.01M1176.1 1001.5h.01M1589.5 914.1h.01M1394.4 774h.01M1323.7 1104.3h.01"/>
<path stroke="#F9795D" d="M1266.2 779h.01M1383.7 685.4h.01M619.6 788.1h.01M1259.7 983.8h.01"/>
<path stroke="#FEA772" d="M1234.2 944.1h.01"/>
<path stroke="#000004" d="M1307.3 826.2h.01M1532.3 855.4h.01M1096.3 344.9h.01M1249.2 285.2h.01M1151.5 419.1h.01M435 650h.01M1430.8 872.3h.01M457.9 668.4h.01M555.7 804.3h.01M1075.4 300.1h.01M1026.5 323.1h.01M462.4 1073.1h.01M1529.5 1070.1h.01M602.6 622h.01M1167.6 351.7h.01M1228.3 1022.4h.01M1135.9 295.7h.01M1197.4 366.9h.01M1440.9 937.5h.01M1333.1 710.2h.01M1051.1 348.3h.01M1409.6 1021h.01M1111.2 1045.9h.01M1491.8 923.8h.01M1210.8 401.7h.01M1459.4 1026.1h.01M1482.7 991.6h.01M1513 1072h.01M1272.1 324.9h.01M735.2 348.7h.01M1569 1027h.01M1501.7 1022.7h.01M1543.6 1146.2h.01M1321.6 374.6h.01M1170 826.7h.01M1058 341.5h.01M1329.8 982.4h.01M1275.1 917.1h.01M1321 775.1h.01M1674.1 960.7h.01M1617.3 880.4h.01M1282 686.4h.01M1495.6 908.7h.01M1129.1 970.3h.01M1387.9 1099.8h.01M1253.5 351.7h.01M1383.5 890.1h.01M1136.5 254h.01M521 1162.2h.01M1686.3 880.4h.01M1653.2 988.5h.01M1328.7 802.1h.01M1614.3 864.1h.01M419.2 665.3h.01M1578.7 897h.01M1028.7 271.5h.01M1605.9 905.7h.01M1152.2 330h.01M1388.5 946.7h.01M1480.7 798h.01M1138.5 392.4h.01M478.5 1100.8h.01M1523.8 920.1h.01M1606.5 1068.8h.01M1668 888.4h.01M1537.7 1056.3h.01M1239.9 430.5h.01M1421.4 685.8h.01M1321.4 730.3h.01M1090.8 1119.9h.01M1569.4 871.6h.01M1078.4 933.9h.01M877.7 1190.5h.01M1368.3 973h.01M1100.3 250.6h.01M1539.7 974.4h.01M1192.9 291.4h.01M1233.1 905.9h.01M1261.4 369.4h.01M1345.5 696.1h.01M1230.4 950h.01M1516.3 943.3h.01M989.4 1145.4h.01M1196.4 275.6h.01M1159.9 375.6h.01M884.5 1195.1h.01M1209.3 872.7h.01M1276.8 334h.01M1252.9 636.3h.01M1094.9 1084.1h.01M1539.9 910.2h.01M1407.8 1157.4h.01M487.6 1111h.01M969.2 660.8h.01M1577.7 904.1h.01M1091.5 333.7h.01M1296 700.4h.01M1437.5 1051.9h.01M980.1 253.7h.01M1618.9 948.6h.01M579.9 671.6h.01M1518.9 1076h.01M561.4 859.4h.01M1476.8 1100.3h.01M1291 687.9h.01M1291.1 690.1h.01M1443 1162h.01M530.3 607.4h.01M1611.8 947.2h.01M978 255.5h.01M567.6 823.1h.01M1299.8 739.9h.01M1644.6 1002.1h.01M1386.7 817.6h.01M1682.2 961.8h.01M1073.4 1119.6h.01M1557.9 1118.4h.01M1302.6 445.5h.01M461.5 1069.9h.01M1155.3 444.7h.01M549.8 840h.01M1241.8 516.6h.01M1334.5 775.1h.01M1504.4 976.2h.01M589.9 660.8h.01M1424.2 875.9h.01M1422.9 987.9h.01M1361.8 729.5h.01M1239.2 921h.01M1421.4 736.9h.01M457.4 665.3h.01M1371.3 983.8h.01M1390.8 663.8h.01M779.7 318h.01M1369.1 671.5h.01M1373.3 926h.01M580.7 700h.01M875.9 308.2h.01M1431.9 1124.4h.01M1301.1 675.7h.01M1454.9 1033.5h.01M1303.7 709.7h.01M1125.4 301.3h.01M1195.6 372.5h.01M1660 879.1h.01M1478.9 907.9h.01M1449.4 1031.4h.01M1548.6 1015.2h.01M914.6 282.1h.01M850.1 388.5h.01M982.5 661.3h.01M1685.7 897.5h.01M1012.4 1156.2h.01M1369.7 745.1h.01M604.3 684.8h.01M604 637.8h.01M1388.3 870.1h.01M1418.2 1067.2h.01M1392.1 770.5h.01M1497.9 1100.4h.01M821.7 335h.01M1473.3 1009.4h.01M1366.4 995.2h.01M1077.9 760h.01M1242 384.1h.01M1206.9 1027.1h.01M1595.7 889.6h.01M529 1165.1h.01M718.8 626h.01M858.1 278.9h.01M1598.3 943.7h.01M1387.9 702h.01M1360.4 876.9h.01M1021.9 1157.9h.01M1567.7 960.2h.01M428.8 749.6h.01M1427.4 991.5h.01M1432.9 917.1h.01M500.4 607.7h.01M570.1 852.7h.01M1052.9 421.4h.01M682.6 554.3h.01M1541.5 1116.7h.01M1208 542.6h.01M1464.6 1158.2h.01M1191.6 876h.01"/>
<path stroke="#B63679" d="M1468.7 934.2h.01M1593.5 933.4h.01M1366.7 1056.9h.01M1623.2 953.5h.01M1412.6 742.8h.01M1310 937.1h.01M1442.8 1073.4h.01M1315.8 617.9h.01M531.3 1007.3h.01M1437 1087.5h.01M605.2 574.5h.01M571.9 686.8h.01M1588.8 878.2h.01M1592.9 1061.1h.01M1377.6 1127.4h.01M1057.2 720.4h.01M1281.5 771.1h.01M895.9 1203.8h.01M1045.2 925h.01M1396.3 737.1h.01M1290.8 701.7h.01M1177 877.4h.01M1203.4 1080.1h.01M1119.5 272.8h.01M1242.6 1093.3h.01M1524.7 1003.5h.01M1257.8 333h.01M491.4 704.8h.01M1242.1 448.2h.01M1410.5 1094.4h.01M1585.1 1066.7h.01M1501.2 990.4h.01M873.4 1190.5h.01M1187.8 533.7h.01M586.5 740.9h.01M662.2 717h.01M1220 444.5h.01M1418.3 958.2h.01M1475.5 931.8h.01M1083.2 324.8h.01M636.7 595.2h.01M1216.3 1001.8h.01M1339.9 963.2h.01M1481.7 1060.1h.01M913.8 1187.7h.01M602.2 655.1h.01M1267.8 404.1h.01M1297.3 1026.1h.01M1298.6 790.2h.01M1466.3 1176.3h.01M623.4 772.4h.01M1309.4 566.9h.01M1299.8 801.8h.01M563.9 857.9h.01M1223.6 1048.6h.01M1448 953h.01M1312 988.2h.01M586.4 835.2h.01M1565.9 1125.7h.01M941 411.9h.01M1396 1069.8h.01M1063.8 954.4h.01M482.6 697.6h.01M1503.6 936.7h.01M1519.8 885.6h.01M534.9 777.3h.01M1177.1 432.5h.01M1167.3 902.7h.01M1543.5 1105.7h.01M1428.6 759h.01M1493.3 840.5h.01M1370.4 971.5h.01M1544 963.2h.01M1133.1 1054.8h.01M1043.7 927.5h.01"/>
<path stroke="#6B1D81" d="M1296.5 526.4h.01M1395.8 927h.01M1276 1054.2h.01M1153.3 308.2h.01M1107.8 267.2h.01M1523 949.4h.01M1081 365.5h.01M1115.6 1057.3h.01M1089.9 279.3h.01M1408.6 1109.9h.01M1182.4 384.6h.01M1355.8 964.8h.01M1381.4 920.7h.01M1350.1 1099.1h.01M1320.7 588.9h.01M1616.9 978h.01M1109.1 1088.3h.01M1080.9 951.7h.01M965.4 265.9h.01M1469 1135.4h.01M1421.2 971.9h.01M786.2 316.9h.01M1609.2 1018.9h.01M1596.4 1025.4h.01M500 1048.3h.01M1371 963.4h.01M573.6 847.1h.01M1104.8 266.4h.01M1385.1 858.4h.01M1577 921.6h.01M1534.7 902.2h.01M1188.8 461.1h.01M1241.8 368.5h.01M1426.7 923.3h.01M1604.8 918.9h.01M1041.3 242.1h.01M1556.9 847.5h.01M424 688.1h.01M1166.6 481.8h.01M1327.9 989.9h.01M1700.7 910.3h.01M1194.9 1081.1h.01M1322.2 883.4h.01M1563.7 1085.9h.01M1491.7 812h.01M1293.5 434.3h.01M992.4 328.9h.01M1398.3 1091.5h.01M1278.6 1090h.01M1085.1 300.6h.01M1390.1 672.2h.01M1617.7 1024.9h.01M1169.5 315.3h.01M1032.5 717.1h.01M1490.3 1108.9h.01M861.8 301.8h.01M538.3 734.5h.01M1202.5 346.3h.01M1049.8 245.6h.01M1526.6 1127.2h.01M1355.1 650.5h.01M1201.2 363h.01M617.1 545.7h.01M1256.9 925.1h.01M1054.6 337.4h.01M1331.1 1095h.01M1163.3 507.4h.01M1066.6 935.9h.01M1485.5 928.8h.01M668.8 727.7h.01M1506.3 1030.7h.01M1511.6 899.3h.01M913.2 351.3h.01M1558 973.5h.01M1384 1055.6h.01M890.9 1197h.01M1408.2 768.8h.01M1349.8 1046.9h.01M1440.3 822.2h.01M860.5 1169.2h.01M1171.9 324.2h.01M1474.2 1004h.01M1357.7 927.7h.01M1595.7 990h.01M1201.6 277.4h.01M1542 884.1h.01M1366.8 1113.9h.01M893.8 280.9h.01M1246.4 434.8h.01M1059.2 921.4h.01M1166 394.1h.01M1428.7 1113.5h.01M1120.1 457.5h.01M1097.1 1108.1h.01M1528.2 1119.1h.01M1139.1 305.2h.01M1186.3 578.8h.01M1520.4 921.9h.01M1620.1 1016h.01M1661.8 893.8h.01M1499.2 924.7h.01M539 620.6h.01M1335.1 975.6h.01M1251.8 395.9h.01M1033.1 288.2h.01M1259.9 1098.6h.01M1247 299.3h.01M1561.2 1116.2h.01M1265.1 470.2h.01M1408.1 997h.01M1048.4 363.9h.01M590 694h.01M1599.9 1093.4h.01M1360 905.2h.01M1191 1051.4h.01M625.4 770.1h.01M1479.9 1090.9h.01M589.1 836.2h.01M623.7 778.7h.01M602.1 762.6h.01M1238.3 1070.3h.01M1141.4 408.8h.01M838.6 331.2h.01M1314.5 858.2h.01M1264.1 580.2h.01M1275 1086.7h.01M1435.3 1016.5h.01M1221.8 395.1h.01M1378.8 721.5h.01M1306.4 415.1h.01M1176.7 401h.01M1174 392.5h.01M1285.6 642.1h.01M1300 734.7h.01M1366.4 903.2h.01M1303 962.2h.01M1366.2 1022.7h.01M1657.5 969h.01M1063.2 947.5h.01"/>
<path stroke="#E85362" d="M1024.9 692.2h.01M1501.2 1046.2h.01M1049.4 1092.9h.01M1541.9 1096.5h.01M1319.2 708.1h.01M1472.7 950.5h.01M1358.9 727.1h.01M1048.6 714.8h.01M1333 1036.8h.01M1488.1 838.6h.01M1298.4 827.2h.01M1489.7 926h.01M1108.9 369.1h.01M1305.9 562.1h.01M1248.1 781.5h.01M1296.9 723.8h.01M1311.7 1005h.01M1241.6 354.6h.01M1463.1 903.6h.01M1102.4 333.3h.01M1369.9 1073.8h.01M1387.2 694h.01M1367.2 856.4h.01M1416.5 919.6h.01"/>
<path stroke="#FEA772" d="M1023 694.7h.01M1244 406.9h.01"/>
<path stroke="#F9795D" d="M1365.8 760h.01M1570.4 1055.6h.01M1315.3 893h.01"/>
<path stroke="#000004" d="M1301.7 417.7h.01M1316.6 523h.01M1047.1 293.9h.01M1683.8 923.5h.01M407.3 743.1h.01M1408.4 878.5h.01M1287.7 1103h.01M565.7 689.2h.01M609.2 693h.01M1207.2 467.2h.01M1053.7 270.5h.01M546.2 671.4h.01M1367.2 763.6h.01M1401 911.6h.01M1555.3 965.1h.01M466.6 1080.7h.01M830.6 369.9h.01M1513.2 1048.1h.01M426.5 711.7h.01M1494.1 1079.1h.01M1373.4 717.8h.01M1287.4 700.4h.01M1577.9 1004.5h.01M1247.1 979.8h.01M1384.4 840.7h.01M1435.9 1082.9h.01M504.8 1133.7h.01M922.5 304.1h.01M1133.8 348.2h.01M1312.6 1054.4h.01M1264.7 405.7h.01M462.4 638.1h.01M1317.7 792.7h.01M1271.2 787h.01M1450 736.5h.01M1557.3 1023.4h.01M1119.5 271.6h.01M1383.3 908h.01M1363.9 1103.5h.01M1173.3 514.6h.01M911.7 339.9h.01M1508.7 1101.2h.01M1353.1 861h.01M1584.1 1101.6h.01M1438.1 881h.01M1610.4 861.5h.01M1502.9 826.1h.01M579.8 637.4h.01M1084.2 331.7h.01M1262.6 901.2h.01M1335.6 1051.9h.01M1556.5 1014.3h.01M1424.1 1086.5h.01M1370.9 1038.1h.01M1652.4 953.8h.01M1378.8 744.7h.01M427.5 683.8h.01M1440.4 911.3h.01M1682.5 965.8h.01M1300.5 523.4h.01M1522.2 919.5h.01M1279 1061.1h.01M1555.3 1072.1h.01M497.3 1122.2h.01M1129.4 380.3h.01M621.3 687.7h.01M1443.9 972.3h.01M1508.1 881h.01M1081.7 745h.01M1036.2 292.3h.01M1445.6 1018.1h.01M560.5 771.4h.01M1378.7 1139.7h.01M1305.9 1084.2h.01M1513.4 957.3h.01M607.6 663.2h.01M452.8 1059h.01M1357 827.1h.01M1461.7 730.9h.01M1039.3 698.6h.01M1542.8 1069.8h.01M452.5 1053.2h.01M594.8 685h.01M895.8 277.2h.01M1018.4 310h.01M1446.6 976.5h.01M1126.2 318.8h.01M1390.9 1063.7h.01M1549.2 1146.8h.01M1214.2 1005h.01M1036.2 927.9h.01M856.7 355.8h.01M1404.5 1018.1h.01M1000.8 241.7h.01M1494.4 1091.3h.01M1601 1054.1h.01M1493.1 1007.9h.01M1214.1 503.9h.01M1122.4 473.5h.01M1381.8 922h.01M1532.3 1095.6h.01M1058.7 1137.4h.01M1620.7 966.6h.01M1338.7 1076.8h.01M1473 1179.3h.01M1118.5 1070.3h.01M1288.9 943.9h.01M744.7 338.3h.01M1237.6 290.2h.01M1073.4 321.3h.01M1362.4 707.6h.01M509.2 607.9h.01M1442.5 886.6h.01M1017.4 1154.3h.01M1210.4 385.2h.01M554.5 606.7h.01M1561.7 1125.7h.01M1188.8 887.7h.01M1486.1 974.6h.01M1421.4 683h.01M1170 1015.5h.01M1424.7 921.4h.01M1546.6 1099.7h.01M1372.7 1020.6h.01M1115.4 433.7h.01M1367 713.1h.01M1402.9 1164.1h.01M1072.4 410.5h.01M1294.8 704.7h.01M1463.5 1127h.01M848.4 372.7h.01M1158.1 461.8h.01M1296.4 726.6h.01M1307.5 596.1h.01M1120.9 952.9h.01M1397.3 863h.01M1678.7 903.3h.01M1460.9 963.7h.01M926.7 682.5h.01M1444.3 908.9h.01M952.6 294.1h.01M1058.7 960.4h.01M1287.8 497.3h.01M1646.5 886.7h.01M1565.8 971h.01M849.7 382.6h.01M1193.3 267h.01M710.4 619.8h.01M1445.5 744h.01M1115.7 314.2h.01M1583.2 1002.4h.01M1379.6 963.7h.01M1401.1 843.4h.01M1305.6 645.3h.01M1313.3 591h.01M1300.5 787.1h.01M1549.4 1019.7h.01M1208.5 426.2h.01M1457.9 826.2h.01M1466.7 1008.1h.01M845 338.3h.01M1535.2 1020.5h.01M1098.1 394.5h.01M1112.9 507.1h.01M465.2 1082h.01M1495.3 912h.01M1366.6 888h.01M1175.8 260.6h.01M1483.1 859.7h.01M477.1 684.5h.01M988.3 413.8h.01M709 622.8h.01M1382.4 1016.7h.01M1276.7 435.4h.01M1338.3 870h.01M1359.1 776.6h.01M1336.2 663.2h.01M611.4 588.9h.01M806.9 332.4h.01M1555.9 872.5h.01M1512.8 942.3h.01M1477.6 947.5h.01M894.3 295.1h.01M1314.3 821h.01M1295 455.2h.01M1176.2 261.5h.01M1474 795.6h.01M487.6 1112.2h.01M1561.4 939.1h.01M606.9 735.7h.01M1148.6 829.1h.01M1097.6 458.4h.01M446 682.3h.01M1408.3 1075h.01"/>
<path stroke="#B63679" d="M1232.1 346.6h.01M1285.7 1072.8h.01M1558.6 925.9h.01M476 710.7h.01M612.6 583.4h.01M563.7 652.7h.01M1477 1153.4h.01M1356 714.9h.01M1574.7 1034.3h.01M1160.1 411.1h.01M1394.3 905.2h.01M1158.2 387.7h.01M1038.8 1142.6h.01M1400.9 1161.6h.01M606.4 810.8h.01M1069.4 749.7h.01M1264 1099.7h.01M1329.6 1085.4h.01M1307.5 581.5h.01M1217.5 434.1h.01M1431.6 924.3h.01M1383.1 996.8h.01M1394.6 1003.7h.01M1365 932h.01M593.7 763.2h.01M1233.1 932.2h.01M1468.1 1135.2h.01M590.1 833.7h.01M1432.4 1115.6h.01M1096.5 931.6h.01M1292.8 692h.01M1034.2 704.6h.01M1140.8 452.6h.01M1253.6 991.4h.01M1149.7 817.5h.01M1509.9 919.1h.01M1549.1 998.7h.01M1281.6 753.3h.01M620.6 775.8h.01M917 648.3h.01M1384.5 944.3h.01M1355.2 742.8h.01M541.9 623.3h.01M1245.5 385.3h.01M604.4 809.6h.01M1296.3 1046.6h.01M1334.8 955.4h.01M1411.3 684.8h.01M1415.6 1109.2h.01M1575.5 994.9h.01M1265 1096.9h.01M1555.2 1038.4h.01M1449.7 1080.3h.01M1473.6 1085.5h.01M1392 809.8h.01M802 321.8h.01M1326.7 1034.1h.01M587.5 715.9h.01M1245.3 1057.3h.01M1277.3 1074.7h.01M1587.4 1018.2h.01"/>
<path stroke="#6B1D81" d="M1574 926.3h.01M1073.9 917.4h.01M1548.2 1011.9h.01M1525.6 1001.5h.01M1492.4 1114.9h.01M1610.4 1050.5h.01M1481.1 960.7h.01M1163.9 275.1h.01M1139.6 507h.01M1197.7 381.1h.01M1114.2 498.1h.01M1230.2 349.8h.01M1522.3 834.4h.01M873.3 291.8h.01M1010.3 337.4h.01M1320.5 757h.01M1117.1 1038.3h.01M1322.9 1094.1h.01M1546.7 910.2h.01M1332.4 1062h.01M1568.4 1101.6h.01M1150.9 328.2h.01M1414.4 807.3h.01M897.4 274.4h.01M1414.8 1130.3h.01M1283.8 775.7h.01M842.3 366.9h.01M1110.5 442.4h.01M1091.3 395.8h.01M1301 806.6h.01M1023.5 273.2h.01M1211.3 889.2h.01M1372.9 802.1h.01M612.3 801.2h.01M1008.8 287.5h.01M1491.2 829.7h.01M1262.2 373.7h.01M1115.3 1122h.01M951.7 1176.4h.01M1375.3 1099.1h.01M850.4 1164.5h.01M1371.6 642.9h.01M1043.6 327.9h.01M1501.3 1163.6h.01M1320 812h.01M1485.6 890.2h.01M1144 369.5h.01M1311.8 418.1h.01M1420.4 822.5h.01M1414.4 847h.01M1606.8 979.6h.01M1622.7 953.4h.01M1262.2 465.7h.01M1199.1 343.9h.01M1493.8 1132.5h.01M1060.8 715h.01M1311.6 340.5h.01M1107 1110.1h.01M1439.2 868.5h.01M1333.2 611.4h.01M1506.7 925.3h.01M1243.3 304.8h.01M1142.5 518.1h.01M1213.6 313.6h.01M1506 1034h.01M1383.2 1009.7h.01M580.1 746.2h.01M1196.6 540.6h.01M1593.1 992.9h.01M1299.1 659.5h.01M903.5 1187.4h.01M1045.5 364h.01M996.5 327.7h.01M1391.9 898.9h.01M1311.2 824.3h.01M1493.8 1050h.01M1524.1 939.5h.01M1272.2 427.6h.01M608.1 705.2h.01M1428.4 1031.8h.01M582.4 755.2h.01M658.5 733.4h.01M584.3 803.6h.01M1284.7 784.2h.01M1273.6 680h.01M1511.9 890.3h.01M1175.3 436.9h.01M1432.5 1072.6h.01M1426.8 840.5h.01M1231.1 528h.01M1528.7 999.6h.01M1091.7 948.4h.01M1370.5 1124.9h.01M1175.2 285h.01M1065.7 937.1h.01M1286.2 792.8h.01M1340.5 681.6h.01M953.9 1176.6h.01M1448.6 1000.6h.01M624.6 765.4h.01M1511.3 1127.8h.01M1278.1 1083h.01M1572.8 886.3h.01M844.8 1164.7h.01M1449.3 986.4h.01M1428.3 1086.1h.01M361.1 630.5h.01M814.1 292.2h.01M1589 1057.9h.01M1335.7 1069.1h.01M587.5 760.7h.01M1137.1 1118.5h.01M539.8 760.2h.01M1458.4 828.9h.01M1356.8 714h.01M1108.6 292.4h.01M973.1 328.4h.01M1184.5 476.5h.01M906.3 1193.6h.01M1417.5 883h.01M1307.7 433.1h.01M1530 1019.3h.01M1433.5 862.9h.01M503.3 610h.01M1117.5 416h.01M1427.7 668.2h.01M1406.2 1158.9h.01M1559.3 1026.6h.01M1291.4 425.3h.01M978.2 1163.3h.01M1534.6 917h.01M1271.9 422.5h.01M1584.7 995.8h.01M1257.8 454.2h.01M1535.2 1035.6h.01M1398.5 972.4h.01"/>
<path stroke="#E85362" d="M582.2 853.5h.01M1417.1 1048.1h.01M1149.9 1101.5h.01M1306.1 706.9h.01M577.2 844h.01M1062.4 340.2h.01M1610.2 901.5h.01M979.2 266.2h.01M1199.9 1093.3h.01M615.9 544.6h.01M1396.6 1106h.01M1400.8 1057.5h.01M1467.3 1060.4h.01M510.7 1036.9h.01M1390.3 701h.01M1190.7 909.3h.01M603.5 821.1h.01M1039.8 930.8h.01M1493.5 833.8h.01M1138.5 415.8h.01M1525.9 930.3h.01M1156 383.3h.01M1229.1 273.9h.01M1272.4 742.6h.01M1140.3 505h.01M1288.8 328.1h.01M1150.1 1088.4h.01"/>
<path stroke="#FDD49A" d="M1440.5 855.5h.01M1601.6 950h.01"/>
<path stroke="#F9795D" d="M1384.6 977.7h.01M1441.7 1094.4h.01M1136.8 461.2h.01M1132.6 279.9h.01M1353.8 919.9h.01M1474.7 1016.3h.01M1479.3 827.9h.01"/>
<path stroke="#FEA772" d="M1105.1 421.8h.01M365.2 666.7h.01"/>
<path stroke="#6B1D81" d="M566 854.6h.01M1546.7 1063.4h.01M1079.3 329.5h.01M1333.7 894.4h.01M1471.3 1120.6h.01M1438.5 965.7h.01M1468.6 1155.7h.01M1145.7 1107.4h.01M1070.4 925.7h.01M1450.7 944.7h.01M1469.7 1139.6h.01M1268.2 673.9h.01M592.8 833.3h.01M1143.2 327.4h.01M1390 829.8h.01M1642.9 970.7h.01M1269.5 1073.8h.01M1409.7 1053.9h.01M1439.3 897.1h.01M1322.8 1038.2h.01M1122.1 254.7h.01M1584.5 948.7h.01M1207.1 387.6h.01M1200.6 321.5h.01M1542.5 1080.4h.01M1265.3 1066h.01M1512.4 847.9h.01M1387 797.7h.01M1072.9 300.3h.01M1507.9 938.6h.01M1321 1022.2h.01M1033.2 337.2h.01M856.6 287.1h.01M1421 1140.5h.01M1380.1 971.2h.01M1420.9 853.2h.01M1206.6 400.2h.01M1499.6 883.3h.01M1076.5 942.6h.01M1052.4 917.3h.01M1503.3 1023.5h.01M942 278.1h.01M966.2 1177.5h.01M1259.8 403.7h.01M1514.3 882.5h.01M1442.6 1103.3h.01M857.7 384.3h.01M1311.2 1104h.01M1593.7 885.1h.01M1349.3 985.1h.01M606.8 818.4h.01M1408.4 692.5h.01M1185.9 366.9h.01M987.7 252.4h.01M1143.2 464.7h.01M1133 399.6h.01M1308.9 422.1h.01M1247.3 407.1h.01M1244.4 840.4h.01M1402.9 674.4h.01M1274.1 1094.1h.01M961.3 1181.2h.01M1467.2 822.3h.01M1507.1 1099.4h.01M1256 627.3h.01M1075.3 950.3h.01M1265.5 523.9h.01M1265.6 298.6h.01M1353.6 865.3h.01M1387.6 940.6h.01M1273.7 340.4h.01M1080.4 1106.6h.01M569.3 862h.01M1467 1054.9h.01M1007.6 318h.01M913.8 286h.01M1249.3 377.1h.01M1087.1 925.9h.01M1131.9 257.8h.01M605.4 818.5h.01M1431.7 856.6h.01M1412.1 705.9h.01M1376.9 1053.7h.01M1542.6 1007.3h.01M582.4 834.8h.01M1170.4 372.5h.01M990.6 335.7h.01M1377.1 865.5h.01M1264.2 757.5h.01M1432.4 906.2h.01M1084 1133h.01M1574.5 967.1h.01M1321.3 716.8h.01M1331.7 871.3h.01M1014.7 285.2h.01M1100.5 313h.01M630.7 791.7h.01M618.5 664.1h.01M1000.1 254.1h.01M736 607.1h.01M1477.5 948.7h.01M1422.2 1130.5h.01M1337.5 1009.1h.01M1416.2 1161.2h.01M669.6 737.5h.01M1280.6 786.4h.01M1171.6 517.7h.01M1304.6 788.9h.01M1179 564h.01M1055.7 348.6h.01M1126.8 249.9h.01M1309.5 572.8h.01M1500 1058.6h.01M1385.1 674.5h.01M1039 922.6h.01M1158.8 272.1h.01M1077.3 273.2h.01M537.5 752.9h.01M1176.3 513.8h.01M1564.7 949.2h.01M1528.4 1103.6h.01M832.4 314.5h.01M1222.9 435.5h.01M1418.4 956.2h.01M1289.2 1102h.01M1400.3 925.8h.01M1551.9 899.6h.01M1204.7 331.1h.01M1265.5 800.3h.01M1294.4 411.7h.01M733.5 352.2h.01M1446.6 974.8h.01M1483.8 1064.9h.01M1604.5 859.8h.01M998.1 291.6h.01M1114 250.6h.01M1320 781h.01"/>
<path stroke="#000004" d="M1540.1 1021.8h.01M1150.7 507.5h.01M1293.9 689.7h.01M1252.7 774.7h.01M1257.5 1018.4h.01M1492.9 1039.5h.01M1273.2 393.8h.01M1421.9 1134.3h.01M1150.1 324.6h.01M1311.3 747.1h.01M1198.3 291.6h.01M459.2 1067.4h.01M1310.5 478.5h.01M794 313.1h.01M1368.4 702.1h.01M1331.9 1030.3h.01M748.3 336.8h.01M565.5 655.8h.01M1577.1 931.6h.01M1625.6 1003.9h.01M1364 971.9h.01M808.1 323.5h.01M447.4 647.6h.01M1529.9 955.3h.01M1272.7 682h.01M1478.9 879.9h.01M1208 821.2h.01M1501 957.5h.01M1268.5 617.2h.01M1403.6 859.3h.01M445.5 671.5h.01M1559.8 1071.4h.01M1164.8 325.9h.01M894.6 279.3h.01M1318.6 814.3h.01M1424.4 927.5h.01M1180.5 416.2h.01M1501.9 820.5h.01M598.1 627.4h.01M486 1052h.01M1364.3 649.7h.01M1468 831.1h.01M1472 1113.2h.01M1433.8 898h.01M1470.8 838h.01M1312.9 461.2h.01M455.3 702.2h.01M1484.3 965.7h.01M1208.1 894.9h.01M1550.3 1123.2h.01M1111 318.9h.01M1115.3 324.8h.01M1269.4 374.9h.01M1336.6 687.4h.01M1334.2 733.6h.01M1312.8 956.2h.01M1538.7 948.5h.01M1045.3 698.4h.01M1346.5 661.8h.01M1186.7 824.8h.01M1067.8 365.4h.01M1583.5 1011.7h.01M919.8 293.2h.01M1253.1 573.9h.01M1363.6 818.9h.01M1606.4 999.1h.01M672.4 571.4h.01M455.8 1063.4h.01M1291.1 423.2h.01M1482.7 889.7h.01M1051.7 1149.9h.01M609.3 600.6h.01M1581.2 1090.3h.01M1575.1 888.9h.01M671.2 572.6h.01M497.3 1125.3h.01M1553.3 1002.3h.01M1236 464.2h.01M371.9 686.4h.01M1435.2 1096.4h.01M1134 508h.01M1438.6 949.2h.01M1378 922h.01M1164.2 817.5h.01M648.4 596.8h.01M1262 1004.6h.01M1528.2 885h.01M1275.5 379h.01M1673.3 884h.01M714.6 630.5h.01M718.9 633.4h.01M544.7 657.7h.01M1612.4 1054.9h.01M1487.8 1065.3h.01M1338.7 1046.6h.01M1595 864.8h.01M462.4 1076.8h.01M1440.4 1132h.01M1260.9 1099.6h.01M484 1077.6h.01M1057.6 337.5h.01M1490.7 1172.7h.01M1199.4 403.2h.01M1275.4 517.6h.01M1273.6 975.9h.01M1176.7 1000.9h.01M1377.6 1100h.01M1475.9 915.3h.01M1287 410.9h.01M499.4 1129h.01M1018.5 370.5h.01M418.1 745.4h.01M1250.4 916.9h.01M499.8 702.4h.01M1528.6 1127.4h.01M1535.4 953.5h.01M495.1 1118h.01M1173.1 307.1h.01M602.5 597.9h.01M1379.2 701.5h.01M1326.2 1067.1h.01M556.4 716.7h.01M1258.1 381.4h.01M734.1 351h.01M499.4 1127.2h.01M1072.6 379.1h.01M1542.4 908.1h.01M1302.9 1050.5h.01M420.7 655.1h.01M1388.1 884.2h.01M1422.6 697.7h.01M1366 891.1h.01M1472.7 1079.8h.01M1124.9 424.7h.01M724.5 625.8h.01M1074.8 389.9h.01M1251.6 941.9h.01M1363.6 1086.3h.01M1246.8 386.1h.01M579.9 736.1h.01M1462.2 1158.3h.01M1555 1142h.01M1035.1 345.7h.01M1231.9 373.9h.01M1555.1 860.9h.01M1481.4 901.4h.01M1220.9 1063.8h.01M1368.8 951h.01M1321 1066.7h.01M611.8 812.7h.01M1366.3 741h.01M1179.5 1000.3h.01M467.8 1088.5h.01M1338.4 1078.9h.01M1019.3 1115.6h.01M604.1 696.1h.01M1351.4 1067.1h.01M1628.4 1026h.01M1341.7 1080.4h.01M483 1106.4h.01M1464.2 931.9h.01M1515.3 1174.6h.01M1417.9 951h.01M1093.1 932.7h.01M1530.3 1127.7h.01M1390.3 938h.01M933.9 284.6h.01M506.7 605.7h.01M1471.4 1035.3h.01M410.8 654.3h.01M1060.3 237.4h.01M465.7 1079.5h.01M615 669.7h.01M497.4 688.1h.01M817.8 308.1h.01M1069.2 392h.01M944.3 375.7h.01M1421.9 758.5h.01M1070.1 306h.01M1034.8 697.6h.01M401.9 663h.01M606.6 583.7h.01M1267.1 488.9h.01M1315.6 736.2h.01M1294.5 787.5h.01M1472.6 1144.4h.01M1689.2 917.2h.01M1058.7 341.6h.01M638.5 673.2h.01M900 263.1h.01M1322.2 1063.5h.01"/>
<path stroke="#F9795D" d="M517.6 610h.01M1326.8 1017.9h.01M1253.2 985.5h.01M1428 672.2h.01M1389.8 1014.7h.01"/>
<path stroke="#B63679" d="M1023.4 315.9h.01M410.5 695.2h.01M957 659.2h.01M1519 1001.9h.01M1039.3 927.1h.01M1320.7 684.6h.01M584.3 845.9h.01M1129.7 1075.8h.01M1118.2 397.2h.01M1357.5 1067.1h.01M791 316.7h.01M1193.5 1085h.01M1500.1 954.1h.01M573.6 848.8h.01M1075.3 757.7h.01M1577.9 1104.5h.01M1409 1031.8h.01M356 634.8h.01M1072.3 937.1h.01M1343.9 741h.01M1333.5 664.9h.01M1362.7 648.3h.01M1376.6 934.6h.01M1184.9 342h.01M568.2 845.2h.01M1696.7 941.5h.01M1352 754.3h.01M1559.2 930.6h.01M624.9 773.5h.01M1431.7 1014.9h.01M667 730.2h.01M1588.6 924.2h.01M1237.3 458.6h.01M1475.3 1160.8h.01M1359 950.6h.01M1134.2 505.6h.01M1069.9 950.1h.01M1075.6 920.5h.01M1078.6 958h.01M1051.2 721.6h.01M1312.1 927.7h.01M1273.7 549.5h.01M1374.6 845.9h.01M975.3 1182.2h.01M1306.9 1042.7h.01M1165.3 1102.9h.01M1690.6 903.6h.01M577.5 847.7h.01M1127.8 1102.2h.01M1494.1 1060h.01M1477 1101.2h.01M1166 1097.7h.01M1407.2 1156.3h.01M1001.5 358.2h.01M1369.6 917.8h.01M477.6 717.9h.01M1451.1 1021.4h.01M1421.9 1047.7h.01M1335.5 991.9h.01M986.3 331.8h.01M1338.5 1040.7h.01M1156.2 1092.3h.01M1593.2 979.3h.01M1516.1 976.4h.01M1574.7 983.8h.01M1425.9 1145.3h.01M1503.9 1170.4h.01M1058.5 735.4h.01M1559.5 887.4h.01"/>
<path stroke="#E85362" d="M1437.3 896.8h.01M418.1 689.8h.01M612.5 816.8h.01M1569.1 992.8h.01M1638.9 946.1h.01M571.6 674.3h.01M1290.1 818.7h.01M1110.9 395.1h.01M1105.6 318.5h.01M1313.2 606.5h.01M1314.8 572.6h.01M1594.6 976.9h.01M1474.6 1112.2h.01M1019.3 1133.7h.01M1045.8 725.7h.01M840.6 303.4h.01M1682.6 945.9h.01M1447.7 910.6h.01M607.4 587.1h.01M354.7 636.8h.01M1634.4 870h.01M1348.6 1021.6h.01M1253.8 750.8h.01"/>
<path stroke="#FEA772" d="M1363.1 921.1h.01M1188.3 893.3h.01M1387.5 862.4h.01"/>
<path stroke="#FDD49A" d="M1499.4 983.3h.01"/>
<path stroke="#000004" d="M1169 262.9h.01M1252.6 1072.7h.01M1417.9 1162.6h.01M756.1 336.2h.01M955.7 1160h.01M1140 508.2h.01M1354 1112.8h.01M626.2 664.2h.01M1259.8 771h.01M1203.4 366.8h.01M1066.6 1145.9h.01M1406.9 904.5h.01M600.3 626.2h.01M1234.9 395.3h.01M1355.1 935h.01M1295.1 342.1h.01M1235.6 1091.6h.01M1458.2 1109.9h.01M1475.6 982.1h.01M1448.3 865.4h.01M1403.3 892.3h.01M1014.4 1141.9h.01M1464.8 1132.6h.01M1130.1 364.9h.01M494 1120.7h.01M1611.9 1028.5h.01M1046.5 1120.4h.01M1299.7 1081.2h.01M1230.9 928.5h.01M1089.2 386.6h.01M458.8 1068.6h.01M1251.4 877.1h.01M1679.1 900.7h.01M1260 1078.2h.01M1352.6 970.9h.01M1610 1078.6h.01M1170.1 908.6h.01M710.5 607.1h.01M1021.9 284.2h.01M1392.2 889.4h.01M1256.6 580h.01M1556.3 838.1h.01M1332.9 703.4h.01M1003.6 1171.9h.01M1443.7 816.7h.01M1514.7 887.9h.01M1286.5 310h.01M1230.1 313.9h.01M1668.6 891.6h.01M830.8 355.2h.01M617.9 792.3h.01M1233.1 372.2h.01M588.2 666.1h.01M1229.5 1035.2h.01M1414 664.6h.01M1192.4 839h.01M1210.7 464.1h.01M1256.5 605.9h.01M1532.4 919.3h.01M1177.7 505.2h.01M1300 812.2h.01M1282.5 926.3h.01M1608.2 856.1h.01M1029.5 670.5h.01M1181.4 879.4h.01M1571.2 984.7h.01M1135.5 419.5h.01M1443.5 1103.8h.01M1210.7 484h.01M1421.6 905h.01M1006.1 320.4h.01M1421.8 725.6h.01M1210.1 361h.01M1302.3 638.7h.01M1171.3 855.3h.01M598.6 663.6h.01M1035.2 353.2h.01M1486.5 996.9h.01M1332.3 915.6h.01M1547.1 995.3h.01M1458.8 994.5h.01M1149.9 336.5h.01M1523.9 1065.4h.01M1170.4 281.2h.01M1384 1007.9h.01M1330.1 957.4h.01M565 659.6h.01M1286.8 975.4h.01M1706.4 903.7h.01M1636.9 985.6h.01M572.4 758.3h.01M1066.8 295.8h.01M412 659.2h.01M721 616.4h.01M856.6 353.4h.01M1168.5 471.6h.01M1028.2 315.1h.01M1170.4 908.7h.01M892 284.5h.01M1103.6 432.9h.01M1026.3 697h.01M1553 951.9h.01M1286.7 925.3h.01M1143.3 317.9h.01M1528.3 1045.6h.01M1252 452.1h.01M1437.8 801.1h.01M1317.1 1006.8h.01M1242.6 384.8h.01M1474.5 904h.01M978.6 253.1h.01M1580.9 1084.3h.01M1431.4 791.6h.01M1645.9 995.9h.01M498.3 1124.4h.01M1391 714.2h.01M850 279h.01M1515.8 909.5h.01M1013.3 649.7h.01M1308.3 948.9h.01M351.7 647.2h.01M1147 430.8h.01M911.6 1187.1h.01M417.1 663.4h.01M1297.9 884.7h.01M1409.7 934.1h.01M483.4 1106.9h.01M1084.8 301.9h.01M1278.5 592.9h.01M1535.5 1042.7h.01M1310.1 761.8h.01M1602.7 946.3h.01M980.9 269.8h.01M977 306h.01M1606.4 1057.6h.01M1234.7 359.2h.01M537.2 614.3h.01M1230 458.8h.01M537.9 617.2h.01M1167 322.7h.01M969.5 332.9h.01M625.8 782.8h.01M1408 716.3h.01M812.7 296.7h.01M415.4 733h.01M1584.4 979.2h.01M1326.4 957.7h.01M374.8 680.2h.01M1024.4 693.4h.01M1052.4 736.9h.01M1224.8 356.2h.01M949.8 1169h.01M715.5 624.2h.01M598.5 618.4h.01M1570.3 991.3h.01M1636.3 885.9h.01M942.3 1179.8h.01M1314.8 790.1h.01M1229.2 284.9h.01M1393.4 1094.3h.01M488 1092h.01M1306.7 1031h.01M584.3 820.2h.01M1506.1 1003.6h.01M1240.6 389.4h.01M1274.2 481h.01M1403.2 1136.8h.01M1256.9 291.5h.01M1287.6 473.4h.01M1107.9 399.4h.01M1199.1 469.5h.01M1604.5 1077.7h.01M1534.4 1000.3h.01M1093 263.7h.01M1419.3 857.4h.01M603.7 713h.01M1313 382.9h.01M1235.9 916.1h.01M719.6 620.9h.01M1555 1109.2h.01M1587.8 949.5h.01M1335.7 740.7h.01M1502.9 1048.2h.01M1164.4 526.6h.01"/>
<path stroke="#E85362" d="M1279.2 451h.01M988.4 296.9h.01M1245 992.2h.01M1083.3 937.4h.01M1316.5 1108.9h.01M1423.2 709.4h.01M1567.4 1067.4h.01M1447.7 964.8h.01M1379.9 749.3h.01M1628.9 929.4h.01M1383.2 973.9h.01M626.7 698.9h.01M1366.9 1047.9h.01M1169.6 1091.3h.01M1062.7 921.5h.01M1525.6 981.5h.01M418 674.9h.01M1125.8 421.3h.01M1157.1 988.7h.01M1355.4 932.9h.01M1391.2 1037.4h.01M1321.3 781.2h.01M1466.3 966.7h.01M602.1 588.3h.01M1141.5 503.1h.01M1611.4 969.1h.01M1597.2 900.7h.01M1530.2 897.1h.01M1492.4 1099.6h.01"/>
<path stroke="#6B1D81" d="M1045.5 1133.2h.01M1297.9 1023.7h.01M680.7 736.6h.01M965.9 291.8h.01M1117.8 348.2h.01M1080.6 758h.01M1087.3 383.1h.01M578.2 849.3h.01M1570.9 945.1h.01M1265 344.3h.01M1540.1 1098.2h.01M1097.3 1056.4h.01M1131.6 1123.4h.01M1109 259.8h.01M1324.4 810.9h.01M1063.1 1152h.01M1603.8 1084.7h.01M1312.9 715h.01M1040.2 288.5h.01M1296.9 392h.01M1308.3 779.7h.01M1355.1 773.5h.01M1510 1063h.01M923.9 287.6h.01M1536.3 1130.7h.01M1089.5 307.3h.01M597.3 840.7h.01M793.2 324h.01M994.4 305.1h.01M1275.8 395.7h.01M961.9 313.4h.01M1629.5 944.1h.01M1529.6 859.5h.01M1120.2 1027h.01M1049.6 1140.4h.01M1205.7 430.6h.01M1074.2 263.2h.01M1465.6 1063h.01M1245.8 383.3h.01M1307.9 340.9h.01M1419.5 748.3h.01M1426.9 1058.7h.01M1399.3 962.4h.01M990.3 333.8h.01M1286 620.6h.01M896.1 276.9h.01M1523.7 1145.3h.01M1059.4 388.4h.01M1559.9 991.5h.01M1275 1083.7h.01M1096.1 1094.5h.01M1241.2 1060h.01M1403.1 738.5h.01M613.8 808.1h.01M1265.6 339.5h.01M1564.7 1094.8h.01M1308.5 677h.01M1478.9 1033.7h.01M1571.8 1069.6h.01M1570.5 879.9h.01M1410.1 977.1h.01M855 320.8h.01M1412.4 905.9h.01M1179.8 492.2h.01M1511.1 1094.2h.01M1171.3 1100.3h.01M1682.7 902.9h.01M1151 1064.3h.01M1375 658.6h.01M1048.8 1106h.01M1281.2 709.2h.01M1293.1 577.9h.01M691.9 547.6h.01M1106.4 398.1h.01M1129.3 307.6h.01M1055.9 1134h.01M1375.5 1022.9h.01M1633.1 928.2h.01M1074.9 1136h.01M1218.2 290.2h.01M1291.4 680.1h.01M1506.1 1130.2h.01M653.4 734.4h.01M1428.5 1005.3h.01M1058.6 353.6h.01M1563.9 953.6h.01M1186.7 580h.01M987.4 1168.3h.01M991.9 318.4h.01M1263.4 477.1h.01M1530.4 1157.8h.01M1159.3 1099.8h.01M1213.8 321h.01M1178.5 533.6h.01M1577.7 917.3h.01M1211.6 429.5h.01M1240.2 1104.1h.01M1577.5 1010.5h.01M1269 317.2h.01M1299.9 662.5h.01M1357.6 1072h.01M1327.8 911.1h.01M1469.1 1049.7h.01M1363.8 1062h.01M1530.3 936.1h.01M1431.8 1151.5h.01M1123.4 1104.3h.01M1082.8 351.8h.01M967.2 296.2h.01M1216.7 300h.01M1306.7 650.1h.01M1521.8 1112.4h.01M665.4 729.2h.01M1282 536.9h.01M1464.3 876.7h.01M883.6 1204h.01M1186 325.7h.01M1456.3 888h.01M1435.8 839.3h.01M623.4 767.9h.01M972.7 323.6h.01M1274.5 799.8h.01M1398.8 1096.2h.01M1155.7 1098.9h.01M1438.4 699.6h.01M1282.7 765.8h.01M1517.1 852.9h.01M1264.5 316h.01M1249.8 418.2h.01M1409.8 1077.1h.01M1563 1104.9h.01"/>
<path stroke="#B63679" d="M1439 904.9h.01M451 745.2h.01M1412 898.7h.01M615.2 745.2h.01M1516.6 983.3h.01M1207.3 1080.4h.01M1315.5 817.3h.01M1066.4 257.2h.01M1394.8 1149.1h.01M999.3 353.8h.01M985 327h.01M1065.3 1103.4h.01M1193.9 1070.9h.01M907.6 273.1h.01M1346.6 1098.9h.01M1482.2 1150.1h.01M1462.8 822h.01M1348.9 1098.3h.01M1523.1 972.9h.01M1135.3 489.1h.01M1629.5 963.2h.01M1287.9 524.5h.01M674.8 740.6h.01M1138.5 373.1h.01M1354.4 939h.01M1005 319.6h.01M1204.7 909.3h.01M1504.2 852.8h.01M1376.3 932.6h.01M1266.5 896.4h.01M1661.3 905.2h.01M1370.1 1056.4h.01M1520.9 1141.1h.01M1443.1 1133h.01M1307 465.9h.01M1281.5 534.4h.01M1545.1 1086.9h.01M1190.4 284.1h.01M1662.2 977.3h.01M1655.4 967.8h.01M1266.8 485.1h.01M1352.6 1126h.01M1207.8 498.5h.01M1571.6 977.9h.01M1216.5 402.8h.01M1173.4 1086h.01M1558 1017h.01M1495.6 1057.2h.01M1450.1 1150h.01M620.6 659.6h.01M1515.5 1165h.01M1183.5 434.9h.01M1158.7 371.9h.01M1428 852h.01M1267.1 405h.01M416.3 746.6h.01M1352.7 1007h.01M1257.9 518.1h.01M1214.2 1074.6h.01M1265.4 394.5h.01M1328.5 726.7h.01M1072.2 752.8h.01M1328.3 857.2h.01M1412.6 727.4h.01M1564.3 991.9h.01M1457.9 1083.5h.01M1267.3 330.3h.01M470 701.2h.01M1152.7 328.1h.01M1487.5 884.6h.01M1280.7 1078.7h.01M1384.6 731.1h.01M778.8 323.8h.01M1084.9 763.5h.01M1011.5 686.8h.01"/>
<path stroke="#F9795D" d="M1109.2 1048.2h.01M972.3 313.6h.01M1427 960.5h.01M1082.8 925.1h.01M615.3 551.1h.01M1401.6 905.8h.01"/>
<path stroke="#FEA772" d="M1312 867.6h.01M1316.3 1093.1h.01"/>
<path stroke="#FDD49A" d="M1607.9 960.1h.01M424.9 722.5h.01"/>
<path stroke="#000004" d="M1287.7 922.4h.01M1384.4 969.7h.01M1233.1 404.4h.01M1709.3 892.4h.01M1259.7 884.9h.01M1299.3 430.5h.01M1501.2 1001.3h.01M500.4 1123.8h.01M1305.1 864.7h.01M1497.5 930h.01M609 589.9h.01M1301.6 449.1h.01M1415 1117.8h.01M1446.1 888.7h.01M1514.9 930.5h.01M1167.5 818.8h.01M482.7 1098.7h.01M450.6 685.9h.01M1423.8 944.3h.01M1385.8 784.1h.01M1661.6 931.6h.01M1583.4 933.2h.01M451 658.3h.01M1382.5 679.6h.01M979.1 414.6h.01M1313.1 1084.9h.01M1389.4 1150h.01M1076.1 291.2h.01M1382.3 743.9h.01M1108.9 406.6h.01M606.8 628.8h.01M1068.4 749.3h.01M1110.6 508.2h.01M1421.9 833.6h.01M1510.7 898.7h.01M560.7 861.1h.01M1581.3 1109h.01M1096 330.8h.01M1453.3 848.3h.01M1170.5 320.4h.01M1423.1 1136.3h.01M833.2 304.1h.01M1272.4 374.1h.01M1479 950.4h.01M391.4 651.7h.01M1370.8 675.4h.01M1566.6 921.8h.01M1010.6 405.2h.01M1289 654.4h.01M1251.9 373.2h.01M975.5 294.6h.01M1614.9 1022.5h.01M1293.8 382.9h.01M580.7 634.6h.01M1289.4 419.2h.01M1504.3 774.8h.01M1187.4 883.5h.01M1172.2 467.3h.01M1490.3 1080.2h.01M1385.2 972.5h.01M1297.1 507h.01M1227.2 929.9h.01M431 674.4h.01M1084.8 423.6h.01M433.4 735.3h.01M1309.3 1020.8h.01M1368.2 963.5h.01M1305.1 392.3h.01M1625.3 1016.3h.01M608.8 599.9h.01M1140.4 357.8h.01M1428.3 1014.8h.01M1512.7 933h.01M1534.3 936.8h.01M511.9 607.5h.01M1241.8 510.5h.01M1444.2 889.6h.01M1230.6 376.3h.01M964.2 660h.01M1364.2 728.6h.01M1418.6 1008h.01M1193.7 281.6h.01M1639.8 948.4h.01M1073.8 356.1h.01M936 1162.4h.01M1657.8 921.2h.01M1103.2 1079.3h.01M1086 1085.7h.01M1553.5 1126.8h.01M967.3 1169.7h.01M1340 647.9h.01M935.9 300.2h.01M1257.8 372.5h.01M1135.4 460.1h.01M1328.8 623.8h.01M1070.3 335.4h.01M1542.1 959.7h.01M1159.9 478.1h.01M644 687.4h.01M419 730.4h.01M978.1 286.2h.01M1006.2 279.3h.01M877.1 1191.8h.01M1509.5 1087.8h.01M914 276.8h.01M1501.4 1071.4h.01M1549.8 1115.2h.01M1118.7 309.3h.01M1420 1075.9h.01M1235.4 951.6h.01M930.7 279h.01M1279.4 314.2h.01M1433.2 1030.7h.01M1315.5 1057.5h.01M1105.7 893.9h.01M1308.8 981.4h.01M1371.8 1003.3h.01M1437.3 927.4h.01M1099.1 320h.01M589 700h.01M1508.4 900.8h.01M1422.1 1072.3h.01M1300.4 1029.9h.01M1440.9 1095.3h.01M1268 479.5h.01M1313.7 824.1h.01M560.5 629.3h.01M1004 329.2h.01M1490.9 923.5h.01M359.8 632.6h.01M424.5 665.2h.01M1207 1084.5h.01M1268 369.2h.01M1283.6 355.1h.01M1365 654.3h.01M1352.3 1110.6h.01M1531.9 849.4h.01M1277.5 771.1h.01M1591.3 896.5h.01M1280.3 1098.7h.01M1106.9 362.5h.01M1184.3 344h.01M1533.5 1068.8h.01M1166.2 806.2h.01M1574.1 980.2h.01M1397.9 1026.5h.01M1327 1008h.01M1543.1 1067.9h.01M859.4 384.7h.01M1584 889.2h.01M1407.6 697.6h.01M558.8 860.9h.01M1482.2 911.2h.01M1175 770h.01M1567.3 912h.01M1397.7 867.6h.01M624.9 662.5h.01M1544.7 1060.5h.01M1121.3 307h.01M1201.3 263.6h.01M1530.6 1110.2h.01M1608.5 1010.3h.01M1429.5 793h.01M446.7 723.1h.01M1533.2 1152.3h.01M1303 477.9h.01M1225.7 361.7h.01M673.6 581h.01M1172.7 351.3h.01M450.8 1058h.01M1400.9 959.8h.01M1164.8 818.1h.01M1335.9 1052.3h.01M1145.8 379h.01M1468.5 902.1h.01M1312.6 621.9h.01M1360.3 914h.01M1583 845.1h.01M1390.2 938h.01M1476.4 875.9h.01M1268.8 996.7h.01M682.9 733.3h.01M1252.6 423.8h.01M1489.5 1161.6h.01M1107.5 344.2h.01M1002.8 313.2h.01M1507.2 922.1h.01M565.2 759.5h.01M1336.2 800.3h.01M1247.5 438.1h.01M736.4 626.8h.01M1638 878.7h.01M1381.6 903.2h.01M1572.6 840.1h.01M1513.7 1145.6h.01M1598.9 1019.7h.01M1523.3 951.6h.01M1344.9 993.7h.01M1587.4 1095.6h.01M896.5 289.5h.01M1262.8 508.4h.01"/>
<path stroke="#6B1D81" d="M1121.4 319.8h.01M1541.2 840.8h.01M579.8 841h.01M1277.2 1057.7h.01M1523.8 1148.1h.01M1547.6 1067h.01M1307.4 590.4h.01M1225.2 533.1h.01M1362.8 676.4h.01M1155.7 399.4h.01M629.5 776.1h.01M1208.6 351.9h.01M600.2 830.5h.01M1283.4 1057h.01M1170.2 288.9h.01M1472 947h.01M587.6 830.7h.01M1640.7 946h.01M1561.3 911.8h.01M934.5 310.2h.01M1621.8 955.6h.01M1518.4 1093.5h.01M1174.7 421.3h.01M1704.7 888h.01M1164.8 290.3h.01M1269.4 799h.01M1579.1 887.6h.01M1540 1051.5h.01M1159.3 1038.1h.01M1251.8 333h.01M1296.1 803.4h.01M1250.8 288.6h.01M452.7 1036.7h.01M1361.5 727.1h.01M1449.6 910.6h.01M1576 947h.01M1162.8 336.1h.01M1389.3 1072.5h.01M939.2 302.2h.01M1285.9 690.4h.01M1403.6 1138.2h.01M1182.5 1078.1h.01M1431.1 1138.9h.01M1097.9 1107.8h.01M1490.3 1154.2h.01M1581.8 1021.6h.01M986.3 335h.01M1590.7 926.7h.01M620.7 784.1h.01M1216.4 1047.6h.01M1217.4 1083.7h.01M1327.6 778.7h.01M1196.6 294.7h.01M1645.3 978.1h.01M1330.3 775.9h.01M1144.9 353.6h.01M1211.8 539.5h.01M917.2 274.5h.01M1244.7 1078.3h.01M1269.1 427.7h.01M850.5 1164h.01M1266.8 367h.01M870.8 318.3h.01M1533.1 959.4h.01M1451.8 1004.9h.01M1219.5 356.5h.01M1094.9 894.3h.01M1508.3 896.5h.01M1142.5 352.5h.01M1537.2 934.4h.01M1421.5 703.8h.01M1087.2 305.8h.01M1085 927.7h.01M1446 1090.2h.01M1579.8 963.4h.01M1496.3 1161.7h.01M595.9 823.2h.01M1307.2 1015.1h.01M444.4 694.5h.01M1193.6 357.8h.01M1114.2 1039.5h.01M1175.3 398.2h.01M1117.5 455.6h.01M1389.9 977.9h.01M1142.8 361.8h.01M1077 307.2h.01M1307.7 666.9h.01M1433.9 918.7h.01M1191.1 310.4h.01M1520.2 1118.1h.01M834.7 312.3h.01M1496.3 872.4h.01M1549.8 1083.8h.01M1045.9 916h.01M1443.8 1062.6h.01M1511 854.3h.01M563.3 754.8h.01M1587.9 947h.01M1239.8 1061.1h.01M1428.5 722.9h.01M1509.6 792.1h.01M1283.4 773.4h.01M1227.1 1099.1h.01M1013.8 293.8h.01M1099.7 253h.01M1196.1 392.7h.01M1278.2 795.6h.01M355 626.1h.01M860.8 274.6h.01M947 288h.01M1677.3 888.7h.01M1604.5 957.8h.01M1283.7 759.8h.01M1340.5 929.8h.01M1431.7 696.6h.01M1237.2 283.2h.01M1330.6 704.1h.01M593 836.2h.01M1354.2 725.6h.01M1430.8 973.2h.01M995.2 344.8h.01M1383.6 891.1h.01M1538.8 960.8h.01M1413.7 1031.4h.01M581.9 827.4h.01M1539.3 1099.7h.01M1217.3 910.6h.01M1115.3 1047.1h.01M1198.4 875.7h.01"/>
<path stroke="#E85362" d="M1232.4 393.9h.01M1012.7 347.5h.01M1342.2 982.2h.01M1573.8 1075.3h.01M1326.4 894h.01M1454.2 894.1h.01M1090.7 1111.2h.01M1281.9 717.1h.01M1352 968.4h.01M609.3 815.2h.01M1472.6 1022.1h.01M1161.9 1099.8h.01M1592.7 1046h.01M1422.2 898.9h.01M1587.9 973.8h.01M1341.4 1021.9h.01M1473 927.7h.01M1332.6 891.4h.01M1416.3 1069.8h.01M865.1 1188.7h.01M1354.7 1000.9h.01M589.5 678.7h.01M1599.8 933.4h.01M1332.3 854h.01M1121.5 481.6h.01M1383.1 1109.6h.01M1305 785.2h.01"/>
<path stroke="#B63679" d="M1030.9 348.5h.01M512.7 1043.1h.01M1063.2 332.7h.01M1425 1049.1h.01M1279 413.8h.01M1503.6 828.8h.01M1045.7 313.3h.01M1277 699.8h.01M894.5 1201.8h.01M1063.9 1107.5h.01M1325.5 1073.6h.01M1322.1 940.2h.01M1145.7 1084.7h.01M1230.9 913.8h.01M1068.1 1148h.01M1053.3 709.2h.01M1306.2 1024h.01M1094.6 393.6h.01M597.5 640h.01M1224.7 384.9h.01M1382 1045.2h.01M1411.2 1157.2h.01M1204.2 371.1h.01M1313.4 999.6h.01M1159.7 1088h.01M1521.1 929.7h.01M1287.6 692.8h.01M1553.5 935.5h.01M441.9 749.5h.01M1549.6 875.7h.01M1297.9 947.2h.01M1308.3 1065.9h.01M1331.1 374.4h.01M1310.5 545.2h.01M1622.1 957.1h.01M914.6 377h.01M1481.1 1170h.01M577 649h.01M1525.7 1149.1h.01M1530.2 1022.8h.01M1505.5 1158.4h.01M609.9 676h.01M1494.8 945.2h.01M1050.1 722.7h.01M1397.6 1050.6h.01M1559.1 910.6h.01M595.9 672.3h.01M1471.7 1179.1h.01M1578.4 1036.5h.01M1466.9 944.5h.01M1302.5 1091.7h.01M1416.5 677.9h.01M1539.3 1125.1h.01M1358.7 692.9h.01M867.6 1192.8h.01M1325.6 949.9h.01M1584 1051.1h.01M1518.1 826.1h.01M519.5 610.6h.01M1511.9 1086.1h.01"/>
<path stroke="#F9795D" d="M455 644h.01M408.8 725.3h.01M1343.6 758h.01M1609.5 979.3h.01M1490.2 854.3h.01M620 534.5h.01M535.1 763.5h.01M1399.1 1137h.01M1355.6 1004.8h.01"/>
<path stroke="#FDD49A" d="M1275.9 590.7h.01"/>
<path stroke="#FEA772" d="M1192.9 422.3h.01M928.7 1171.4h.01"/>
<path stroke="#000004" d="M1591.8 934.3h.01M1433 979.4h.01M356.3 636.5h.01M1513.9 1014.8h.01M480.6 1103.1h.01M1214 409.3h.01M1510.5 942.2h.01M1220.9 390.6h.01M453.4 1051h.01M1363.6 893.1h.01M1137.4 939.9h.01M1168.7 860h.01M519.2 1157.4h.01M1087.7 390.1h.01M1025.6 397.1h.01M1129.7 463.4h.01M1191.7 494.4h.01M1174 339.5h.01M876.3 302h.01M1058.9 291.7h.01M1152 295.8h.01M926.6 1176.8h.01M641.3 665.8h.01M961.1 309.8h.01M1146.7 256.1h.01M616.7 673.6h.01M1367.1 759h.01M474.6 1094.6h.01M1198 1088.9h.01M1527.1 1098.9h.01M515.2 792.9h.01M1526.7 894.2h.01M1284.1 701.9h.01M1135.5 325.7h.01M1532.5 1142.7h.01M1492.8 816.9h.01M1405.8 1149.2h.01M1462.4 1149.9h.01M1307 966.7h.01M1503.1 867.5h.01M992.2 1172h.01M1174.8 874.2h.01M1239.5 364.7h.01M1300 357.5h.01M1374.2 649.3h.01M1376.7 974.3h.01M1554.9 962.8h.01M1402.7 783.9h.01M1103.8 851.4h.01M552 629.5h.01M1468.8 1152.6h.01M1237.1 926.3h.01M1237.2 1096h.01M1421 838.4h.01M1429.1 1153.4h.01M1417.4 1120.6h.01M1577.9 1009h.01M1070 929.1h.01M1285.1 393.5h.01M1041.3 1112.2h.01M1593.5 1097.5h.01M1563 855h.01M539.9 619.4h.01M1186.1 1101.6h.01M1289.9 587.1h.01M506 1135.6h.01M910.2 302.3h.01M1039.7 298.1h.01M1384.4 723.4h.01M542.6 661.9h.01M1249.7 626.9h.01M1062.6 297.6h.01M1652 885.2h.01M1017.2 314.7h.01M1176.5 427.1h.01M502.7 1132.3h.01M1317.4 396.2h.01M1260.6 921h.01M1484.6 1148.8h.01M1170.6 418.8h.01M452.9 1056.4h.01M1276.9 444.2h.01M542.6 750h.01M1077.5 745.8h.01M1169.5 1050.5h.01M1399.8 727.9h.01M1390.3 1100.7h.01M1467.6 833.7h.01M606.6 631.8h.01M604.6 630.7h.01M1173.1 323.3h.01M1007.6 311h.01M608.2 611.1h.01M1309.6 1023.6h.01M1451.7 1137.7h.01M1461.7 828.3h.01M812.2 338.3h.01M1598.8 1062.1h.01M1326.5 756.1h.01M1050.3 331.4h.01M1297.8 1009.2h.01M1110.2 496.6h.01M1337.3 744.1h.01M1469.7 1095.4h.01M1377.8 879.7h.01M851.9 275.7h.01M1395 1094.5h.01M1296.3 676.5h.01M1457.7 1089.7h.01M960.7 321.9h.01M1253.6 596.9h.01M1399.2 1019.9h.01M1123.4 341.7h.01M1383.6 682.9h.01M1263.1 362.5h.01M479 1107.6h.01M1425 1114.1h.01M1430.3 1106.5h.01M1442.4 1078h.01M1429.3 1106.4h.01M1299.3 1077h.01M565.8 643.3h.01M1461.1 887.6h.01M1649.3 878.7h.01M1167.1 516.8h.01M1393.2 745.1h.01M1091.5 1072.8h.01M1483.5 847.9h.01M999.4 441.9h.01M1620.4 956.4h.01M1390.9 1072.5h.01M1559.2 960.8h.01M959.9 293.2h.01M1370.1 1094.2h.01M1542.8 907.2h.01M1224.8 285.2h.01M973 415.3h.01M1513.8 1167.8h.01M1130.1 936.5h.01M1328 668h.01M1226.6 275.7h.01M1054.1 705.9h.01M1186.7 825.3h.01M1346.1 836.5h.01M584.8 745.8h.01M1525 1159.6h.01M1657.7 925.3h.01M1620 881h.01M1309 1021.2h.01M1327 878.1h.01M1288.1 672.1h.01M637.1 669h.01M1233.5 325.3h.01M957.2 291.3h.01M1511.6 1040.5h.01M1606.7 993.6h.01M1147.7 410h.01M598.6 833.3h.01M1633.4 1003.7h.01M1201.6 890.8h.01M1314.2 1016.2h.01M1344.4 722.1h.01M1031.6 701.2h.01M812.7 343.5h.01M1029.5 693.5h.01M1319.6 374.5h.01M720.2 636.9h.01M655.4 586.5h.01M1607.1 958.9h.01M1025.4 1146.8h.01M452.3 1049.9h.01M579.9 665.9h.01M565.5 652h.01M1059.3 726.9h.01M1201.3 464.4h.01M1204.7 456.3h.01M1401.2 1162.4h.01M1282.4 932.2h.01M1576.4 1057.3h.01M1287.1 676.5h.01M1269.5 293.8h.01M1292.5 1092.7h.01M1406.2 1115.4h.01M1506.7 1124.2h.01M1225.4 464.5h.01M1341.4 1087.1h.01M951.7 293.3h.01M1174.7 329.9h.01M423.7 660.3h.01M1202.5 897.7h.01M1414.1 1157.7h.01M939.2 678.7h.01M1015.6 265.7h.01M1549.1 1003h.01M1208.2 1079.1h.01M612.1 804h.01M1106 472.4h.01M1401.1 1140.9h.01M1497.2 965.7h.01M1314.6 1018.7h.01M1402.7 872.7h.01M507.6 1135.9h.01M1412.7 877.6h.01M1268.9 1021.8h.01"/>
<path stroke="#6B1D81" d="M1312.7 595h.01M1327.6 363.3h.01M1250.9 351.4h.01M1548.2 936.4h.01M1302.1 786.8h.01M1065.1 312.5h.01M1495.6 1153.4h.01M1221 444.2h.01M720.3 634.7h.01M610.6 820.1h.01M1160 306.2h.01M1317.2 778.9h.01M1388.9 950.9h.01M1414.9 1047.8h.01M1478.5 923.9h.01M926 299.5h.01M1607.6 992.2h.01M1176.8 415.2h.01M1586 901.9h.01M1470.9 826.5h.01M1187.3 446h.01M1214.4 1065.2h.01M1201.5 364.8h.01M1016.9 322.8h.01M1548.7 928h.01M1189.3 375.3h.01M1561.5 957h.01M878.7 1185.5h.01M1073.8 959.6h.01M1347.9 961.7h.01M1521.7 875.5h.01M978.2 249.9h.01M1279.7 1072.7h.01M584.3 811.9h.01M1401.8 1035.5h.01M1527.8 867h.01M1200.8 550.2h.01M1310.1 892.2h.01M622.9 790h.01M1249.4 1078.6h.01M1061.1 951.5h.01M1112.4 1104.3h.01M1178 388.6h.01M1600.5 1034.2h.01M1000.2 351h.01M1626.7 984.3h.01M1604.8 1048.8h.01M1337.8 814.3h.01M1388.8 895.2h.01M1059.6 324.9h.01M1379.3 1004.5h.01M1461.8 926.6h.01M1231.5 334.7h.01M619 781.3h.01M1302.5 380.6h.01M436.3 742.2h.01M1235.8 937.9h.01M1058.5 938h.01M1068.9 260.4h.01M926.9 1182.1h.01M1384.2 664.6h.01M1577.7 1011h.01M1306.7 1062.1h.01M1561.6 975.4h.01M1473.4 946.6h.01M1473.3 887.7h.01M1268.3 1105h.01M765.8 330.8h.01M1258.5 503.3h.01M1350.8 773.4h.01M1305.7 1052.2h.01M1570.9 1073.7h.01M593 826.1h.01M1258.5 985.1h.01M1295 500.9h.01M1434.9 1154.9h.01M1114.1 360.4h.01M1331.7 1055h.01M1376.5 852h.01M1594.6 972.2h.01M850.4 281.5h.01M1091.9 267.9h.01M1462.9 1051h.01M1250.9 411.3h.01M1483.2 881.2h.01M1283.9 901h.01M989.6 298.4h.01M1114.5 358.2h.01M615.7 811.7h.01M1530.2 917.8h.01M1295.6 488.7h.01M1170.4 400.3h.01M441.9 656h.01M1017 266.9h.01M1395.8 1154.4h.01M1191.2 447.1h.01M855.8 374.3h.01M1527.9 935h.01M1273.3 529.8h.01M1238.4 276.8h.01M1357 1070.4h.01M1626.4 955h.01M587.7 828.2h.01M1425 1106.6h.01M1556.1 947h.01M1559.7 1115.6h.01M1389.2 917.7h.01M1316.8 367.8h.01M1069 1136.3h.01M1418.4 890.4h.01M1063.7 242.2h.01M1332.5 380.9h.01M1279 535.6h.01M1614.7 872.5h.01M1510.1 891.8h.01M1483.1 1177.1h.01M985.9 324.4h.01M1295.5 695.8h.01M1148.8 1101h.01M967 277.8h.01M1038.8 722.4h.01M1249.6 357.1h.01"/>
<path stroke="#B63679" d="M1474.4 906h.01M1133.3 1054.3h.01M1554.1 1010.5h.01M621.6 774.5h.01M1033.8 710.9h.01M1410.1 1026.5h.01M1283.3 630.2h.01M1605.3 923.8h.01M540.2 761.1h.01M1301 748.6h.01M1347.2 1090.8h.01M1515.2 1067.3h.01M1244.3 345h.01M1076.2 929.4h.01M1126.4 1058.5h.01M1291.4 1089.8h.01M1554.9 978.3h.01M577.6 681.9h.01M1219.4 384.3h.01M1486.8 1043.6h.01M1196.1 291.4h.01M940 302.8h.01M620.6 704.5h.01M984.7 249h.01M1393.5 984.9h.01M1288.1 664.8h.01M1186.2 1107.9h.01M1105.5 382.6h.01M1584 1018.2h.01M1065.5 386.5h.01M1562.6 977h.01M1590.4 964.7h.01M1605.6 1026.4h.01M1359.2 638.7h.01M1288.3 818.1h.01M1601.2 1038.8h.01M842.2 1165.6h.01M521.9 672.1h.01M1623 1000.8h.01M1278.2 544.9h.01M1388.7 970.1h.01M1208.6 302.7h.01M401.7 686.2h.01M1186.7 509.3h.01M1465.8 904.8h.01M991.3 273h.01M1089.3 926.3h.01M621 653.9h.01M1488.9 1108.1h.01M1405.3 792.7h.01M981.2 283.2h.01M1094.1 941.1h.01M997 355.1h.01M1078.1 310.5h.01M355 631.5h.01M1266.9 1028.8h.01M1260.5 378.4h.01M1475.3 972.6h.01M612.4 792.1h.01M1357.3 769.5h.01M1451.8 1052.1h.01M579.5 732.1h.01M1374.9 900.6h.01M1207.2 1068.4h.01M1208.1 882.6h.01"/>
<path stroke="#E85362" d="M1579.8 1061.7h.01M1019.6 701.6h.01M1272.6 1030.9h.01M1338.8 1105.1h.01M1169.9 445.7h.01M1362.4 746.9h.01M1409.9 1087h.01M1320.4 796h.01M1229.5 1066.2h.01M1255.7 426.1h.01M1345.3 906.7h.01M1400.4 1010.4h.01M1435.9 1060.3h.01M1454.9 1158.7h.01M1471.7 892.1h.01M1608 907.6h.01M1156.4 1112.1h.01M1469.2 1161.9h.01M1434.4 1115.2h.01M605 576.2h.01M907.1 1196.1h.01M1339.5 1092.3h.01M1505.4 882.5h.01M1137.2 334.5h.01M1334.4 368.6h.01M1306.4 1038.5h.01M1126.5 498.7h.01M1401.3 700h.01"/>
<path stroke="#F9795D" d="M1403.4 904.2h.01M449.9 703h.01M1492.4 1047h.01M1468.1 877.3h.01M440.2 709.7h.01M1443.9 1088.6h.01"/>
<path stroke="#FDD49A" d="M1388.9 654h.01"/>
<path stroke="#FEA772" d="M1324.3 825h.01M1493 1175.4h.01M1320.5 595h.01"/>
<path stroke="#B63679" d="M1229.3 415.8h.01M1315.9 549.3h.01M1254.1 435.1h.01M1363.2 979.8h.01M1569 908.5h.01M1192.1 884.8h.01M1065.3 1124.2h.01M1211.6 441.6h.01M1477.8 1084.9h.01M1603.5 1017.9h.01M1522.8 919.3h.01M1521 1077.5h.01M1457 948.1h.01M1311.5 555.6h.01M1494.8 1053.5h.01M625.8 784.5h.01M720.1 633.7h.01M625.4 691.1h.01M1129 306h.01M564.2 655h.01M1321 811.6h.01M1385.8 1066.1h.01M1483.6 823.3h.01M1503.1 1083.1h.01M1042 917.9h.01M1375.8 1134h.01M1392.5 1005.2h.01M1188.9 884.6h.01M1203.3 1038.6h.01M1521.6 846.7h.01M541.1 619.4h.01M1347.4 704.1h.01M1336.8 1043h.01M1490.3 850.2h.01M1379.5 898.6h.01M1464.3 1050.3h.01M1318.5 812.2h.01M1340.7 737.4h.01M989.7 297.2h.01M1432 1111.6h.01M1279.2 774.8h.01M1392.9 905.1h.01M535.1 777.2h.01M1312.4 1072.4h.01M1542.9 867.8h.01M580.7 807.1h.01M1147.1 1099.7h.01M1044.2 939.4h.01M1562.7 960.7h.01M667.6 683.3h.01M1170.4 521.4h.01M1351 946.8h.01M1344.4 1015.8h.01M1299.9 812.9h.01M1299.2 751.4h.01M1076.8 1074.6h.01M1073.8 316.7h.01M677 725.7h.01M1093.9 953.7h.01M1552.9 1042.8h.01M1104.5 1078.5h.01M587.9 841.1h.01M1240.9 1069.3h.01M1177.2 883.7h.01M1362.2 967h.01M1254.3 754.2h.01M1591.6 1035.7h.01M1082.9 327h.01M1469.5 926.9h.01M1416.7 915.6h.01M1448.6 1020.5h.01M1498.5 1089.1h.01M1114.9 340.3h.01M1303.3 768.5h.01M1011.7 652.8h.01M1460.7 1040.2h.01M906.5 266.5h.01M1425.1 928.6h.01M1186.7 465.9h.01"/>
<path stroke="#000004" d="M1318 611.6h.01M1497 1083.2h.01M1300.1 707.6h.01M421.6 687.2h.01M1450.6 1059.5h.01M1163.8 936.2h.01M907.6 298.5h.01M616.6 666.6h.01M1460.4 930h.01M655.2 607.6h.01M1266 379h.01M1512.6 1157.9h.01M448.6 639.3h.01M1264.8 906.2h.01M843.4 280h.01M1484.8 945.4h.01M1588.6 875.8h.01M461 710.7h.01M1204 883.3h.01M1194.3 830.5h.01M1399.3 1101.4h.01M1581.3 876.5h.01M1291.9 518.4h.01M1433.8 915.2h.01M1405.7 837h.01M1454.6 1041.2h.01M1246.7 1101h.01M457.7 1064.2h.01M1293.5 382.9h.01M1344.8 825.4h.01M1532.7 963.1h.01M418.6 657.6h.01M1471.3 746.9h.01M1334.2 682.9h.01M1312.1 787.4h.01M1391.8 1015.1h.01M1570.9 1070.5h.01M1538.8 1071.2h.01M492.9 1116.4h.01M1222.3 468.1h.01M1319.3 689.7h.01M1379.9 1018h.01M1172.5 445.1h.01M1315.6 1063.6h.01M1125.9 512.7h.01M997.4 276.9h.01M1468.8 1119.5h.01M1418.1 927.5h.01M913.3 299.1h.01M693.1 706.2h.01M1438 1005h.01M1298.9 899h.01M1514.6 1011.5h.01M1172.1 514.2h.01M612.6 638.9h.01M934.7 269.5h.01M1512.9 776h.01M1201.8 260.3h.01M1620.2 913.9h.01M1262.3 322.8h.01M1408.9 1054.9h.01M1202.7 321.3h.01M873.9 1211.8h.01M1196.2 986.3h.01M1434.4 842.4h.01M717.1 620.1h.01M1383.1 996.2h.01M730.5 637h.01M1248.8 911.9h.01M1470.5 1119.5h.01M1318.6 729.2h.01M1194.9 1081h.01M979.2 660h.01M1391 920.8h.01M1186.7 868.7h.01M1321 929.8h.01M1111.2 1036.9h.01M1389.1 686.3h.01M1051.3 254.3h.01M1343.9 969.8h.01M709.5 591.7h.01M453.6 727.6h.01M1595.9 1097.6h.01M1265.7 515.8h.01M1445.9 806.8h.01M1415.2 707.3h.01M1242.7 403.3h.01M1273.2 1045h.01M1533 940h.01M1484.8 834.8h.01M634 673.7h.01M589.3 681.7h.01M1649.8 911.4h.01M928.6 280.5h.01M1133.5 948.9h.01M491.9 1118.3h.01M1516.4 1014.4h.01M425.2 674h.01M1506.7 836.2h.01M1429.1 703.8h.01M1581.5 860.2h.01M969.6 318.5h.01M1374.4 922.7h.01M1554.5 946h.01M941.8 321.3h.01M1584.4 1089.9h.01M618.2 692.4h.01M1382 810.4h.01M1199.7 429.6h.01M1003.8 1116h.01M1142 436.2h.01M1106.1 392.2h.01M1461.6 748.1h.01M805.7 318.7h.01M1578.2 1061.9h.01M1231.4 923.3h.01M604.2 663.4h.01M1131.4 291.4h.01M924.4 277h.01M966.7 655.8h.01M1260.1 422h.01M1667 978.8h.01M1017 670.8h.01M525 1162.1h.01M1572.3 1060.7h.01M1520 939.5h.01M1347.6 1026.9h.01M1138.5 349.3h.01M506.4 660.7h.01M1315 1087.5h.01M1304.9 671.5h.01M1224.2 467h.01M1042.9 1142.8h.01M1586.4 897.8h.01M726.4 635h.01M1195.8 384.9h.01M1386.7 717.7h.01M1553.7 972.5h.01M1383.5 1090.4h.01M1105.3 344h.01M1392.4 949.6h.01M599.8 809.5h.01M609.6 640.1h.01M1488.7 763.8h.01M1088.7 1069.9h.01M1234.3 349.1h.01M1101.2 398.5h.01M486.1 1112.7h.01M1595.5 932.7h.01M943.2 1175.1h.01M1289.5 396.9h.01M913.8 685.5h.01M1450.2 899.6h.01M1117.8 396.2h.01M413.3 749.8h.01M561.8 865.9h.01M1177.1 486.3h.01M1102.5 429.9h.01M408.9 662.3h.01M579.8 677.4h.01M1147.8 464.7h.01M915.8 647.5h.01M1281.7 897.4h.01M1432.3 1082.1h.01M1532.2 936.7h.01M1007 320.6h.01M911.4 347.1h.01M1450.6 1073h.01M1154.2 984.5h.01M1582 950.7h.01M1634.3 986.4h.01M1527.9 1061.2h.01M1351 663.9h.01M1179.9 267.3h.01M763.5 333.2h.01M1290.1 985.2h.01M1406.7 1078.3h.01M1526 962.3h.01M1090.6 413.2h.01M600.3 692.2h.01M1298.6 381h.01M1559.1 894.5h.01M579.8 673.1h.01M1204.7 402.9h.01M625.7 781.8h.01M1422.6 1126.7h.01M1368.9 785h.01M959.3 323.5h.01M1253.6 404.8h.01M1417.2 942.9h.01M1325.5 906.6h.01"/>
<path stroke="#6B1D81" d="M1519 914.5h.01M1540.1 1085.1h.01M1235.5 1093.7h.01M1443.6 889.6h.01M1591.5 1016h.01M1412.1 963.9h.01M1061.2 1073.9h.01M1379.8 955.9h.01M1325.5 479.1h.01M1698.2 901.7h.01M1061.1 1071.5h.01M1061.8 941.5h.01M663.2 725.1h.01M1492.5 1172.9h.01M1051.2 941.2h.01M1469.5 956.7h.01M1672.4 891.1h.01M1651.6 912h.01M1558.7 1101.7h.01M1633.7 1002.1h.01M607.1 661.7h.01M552.1 772.6h.01M1442.5 1022.3h.01M965 306.1h.01M1554.7 1126.9h.01M1271.7 795.1h.01M1336.5 741.5h.01M1270.9 525h.01M1163.6 328.9h.01M1304.9 549.4h.01M1268.2 683.8h.01M1144.3 386.7h.01M1511.5 1001.2h.01M1385.3 862.9h.01M877.8 1200h.01M1266.3 325.5h.01M1560 876.1h.01M640.7 729h.01M1170 310.5h.01M1382.1 754.6h.01M1235.1 304h.01M1443.2 876.7h.01M591.9 827h.01M1378 856.6h.01M1551.2 1058h.01M1445.3 1112.7h.01M1143.9 252.4h.01M1506.5 1150.8h.01M1088 1102h.01M1174.8 481.9h.01M1496.1 781.5h.01M1193.9 534.4h.01M1258.7 598.7h.01M1548.9 858.6h.01M808.1 342.5h.01M860.1 1174.6h.01M878.6 1184.3h.01M1134.8 404.2h.01M1473.8 996.7h.01M1165.2 379.6h.01M1011.5 348.9h.01M1218 399.8h.01M1329.3 1000.8h.01M1237.1 1043.4h.01M1535.2 1146.7h.01M1119.8 1041.6h.01M1182.1 352h.01M553.3 688.1h.01M1317 706.2h.01M1094.9 320.5h.01M1501 1126h.01M1019 271.2h.01M1069 312.3h.01M1019.1 1146.2h.01M1290.2 351.4h.01M1470.4 889.1h.01M1228.3 415.7h.01M1164.4 1109.9h.01M1333 608.6h.01M564 859.3h.01M1449 918.4h.01M1503.7 941.6h.01M1106.5 347.9h.01M1159.6 825.7h.01M1200.9 537.7h.01M867.5 314.1h.01M1534.8 1071.9h.01M1048.6 329.7h.01M883.2 1188.6h.01M607.5 807.5h.01M1290 975.2h.01M1464.4 806.8h.01M1306.8 795.9h.01M721 620.5h.01M1401.8 961.8h.01M1336.1 809.3h.01M1226.8 389.9h.01M1434.5 707.1h.01M1486.7 1007.2h.01M1276.9 539.2h.01M1432.9 1002.3h.01M1151.5 330.4h.01M1583.1 914.6h.01M1309.2 1072.7h.01M1413.9 865.9h.01M1231.8 321.5h.01M1561.3 1025.4h.01M658.9 696.5h.01M1323.8 972.3h.01M1446 993.7h.01M1168.2 302.9h.01M1032.8 342.7h.01M1170 398.5h.01M1360.9 767h.01M1232.7 1090.7h.01M1564.4 1077.7h.01M1029.4 385.7h.01M1347.7 936.6h.01M662 735.8h.01M603.2 832.2h.01M586.9 738.4h.01M1382.9 994.2h.01"/>
<path stroke="#E85362" d="M1452 1164.1h.01M1582.8 1079.8h.01M1534.1 896.3h.01M1367.6 660.8h.01M1475.3 899.5h.01M1437.4 1122.1h.01M1380.5 659.5h.01M1328 1116.7h.01M567.7 850.9h.01M1427.5 1012.7h.01M1053.9 730.2h.01M1360.7 936.6h.01M1498.4 1091.1h.01M1208.1 426.9h.01M1554.1 998.2h.01M723.9 631.5h.01M680 567.4h.01M1111.2 288h.01M1305.5 573.6h.01M1194.2 886.1h.01M1574 883.8h.01M1031.1 236.1h.01M1308.8 574.7h.01M1443.2 1100.7h.01M1082.8 919.2h.01M904.8 1190.4h.01M1577.2 920h.01M1173.8 886.3h.01M1275.5 536.3h.01"/>
<path stroke="#F9795D" d="M733.6 608.3h.01M1326.6 637.7h.01M595.5 667.8h.01M627.9 672.9h.01M595 819h.01M1389.3 707.3h.01M1609.4 952.5h.01"/>
<path stroke="#FEA772" d="M1513 1048.9h.01"/>
<path stroke="#6B1D81" d="M1349.4 952.5h.01M1367.6 1111.5h.01M987.7 1156.7h.01M1527.9 1119.8h.01M1306 783.9h.01M1475.5 1115.2h.01M1229.7 1084h.01M1574.5 1013.1h.01M1148.7 283.4h.01M1248.6 929.2h.01M880 1205.4h.01M1059.6 1095.7h.01M1667.1 941.9h.01M1498 970.6h.01M1237.5 964.1h.01M1515.5 1113.8h.01M1071.6 389h.01M1385.1 1017.9h.01M1585.2 1049.3h.01M1654.8 994h.01M1262.6 346.9h.01M674.6 734.3h.01M949.4 1173h.01M1146 393.1h.01M1506.6 866.4h.01M622.8 780.5h.01M1347.1 730.6h.01M1069.2 387.9h.01M1196.4 1098.4h.01M1526.7 1151h.01M879.2 296.8h.01M1424 671.1h.01M1282.5 744.5h.01M1255.7 364.3h.01M1315 761.5h.01M1521.9 909.2h.01M1435 1138.5h.01M1100.9 247.1h.01M840.4 361.2h.01M1237.8 408.5h.01M1190.9 491.2h.01M1285.8 830.5h.01M618.9 785h.01M880.1 1198.7h.01M1078.1 933.5h.01M621.3 779.4h.01M1036.8 334.9h.01M1389.1 1062.4h.01M1482 1127h.01M494 1055.7h.01M1025.4 331.9h.01M1395.3 843.7h.01M1017.3 353.8h.01M1314.7 1031.9h.01M1057.3 1127.8h.01M1107.3 1104.4h.01M1347.8 1042.8h.01M1247.2 428.2h.01M1598.9 1016.3h.01M1107.6 294h.01M1073.1 929.5h.01M976.3 1171.5h.01M977.6 328.1h.01M1366.1 1015.9h.01M617.8 665.6h.01M1384.7 1060.9h.01M1449.1 870h.01M1314.3 660.4h.01M1520.9 1081.7h.01M1085.4 240.5h.01M1413.7 982h.01M561.9 852.9h.01M591.1 761.2h.01M595.2 621.5h.01M1417.9 1023.4h.01M1516.4 1125.2h.01M1278.3 424.9h.01M1069 1138.9h.01M1147.7 367.2h.01M1628.6 877.3h.01M1469.5 1128.6h.01M1093.4 308.8h.01M1277 636h.01M1171.9 424.3h.01M562.6 852.6h.01M1106.7 1043.6h.01M1432.4 1164.9h.01M531.3 1159.6h.01M978.2 339.2h.01M1689.2 935.7h.01M812.6 336.3h.01M1267.2 356.1h.01M1460 1165.4h.01M1585.9 936.7h.01M830.7 350.3h.01M1503.8 1161.9h.01M584.9 841.8h.01M1228.3 514.3h.01M1371.3 861.8h.01M1226.6 305.5h.01M1340.1 728.7h.01M1510.8 837.5h.01M1261.2 802.1h.01M1075.6 289h.01M1403.1 691.4h.01M1156.7 1097.5h.01M1065.3 741.9h.01M1528.5 1148.4h.01M998.2 366.8h.01M1598.1 918.9h.01M1470.7 1042.4h.01M1147.9 355.6h.01M1396.9 925.8h.01M1463.8 864.4h.01M1431.1 755.9h.01M1339.1 899.4h.01M1630.1 983.1h.01M1015.9 1131.3h.01M1157.9 490.5h.01M1540.6 1145.4h.01M1044.2 703.2h.01M1293.5 701h.01M1323.1 888.6h.01M1181.2 438.6h.01M1546.4 868.8h.01M1215.8 469.4h.01M1520 991.2h.01M1665.1 972.6h.01M1595.2 1016h.01M1493.2 1023.8h.01M409 665.1h.01M1171.1 537.3h.01M1073.8 756.5h.01M984.4 294.3h.01M1683.6 942.6h.01M1367.8 873.9h.01M1291.8 701.1h.01"/>
<path stroke="#000004" d="M1133.8 978.4h.01M1438 1165h.01M1473.5 1076.8h.01M1485.1 1083.2h.01M464.4 676.7h.01M581.2 723.8h.01M1096.7 352h.01M1035.4 261.8h.01M1114.6 1033.7h.01M568.3 636.5h.01M452 724.8h.01M1441.2 823.4h.01M1428.1 930.6h.01M1378.8 870.2h.01M1476.2 1068.5h.01M1618.4 994.3h.01M437.7 693.4h.01M1166.8 491h.01M1013.1 349h.01M1380.1 706.4h.01M1542.3 897.8h.01M1525.2 1016.5h.01M1562.7 1109.2h.01M476.7 1100.9h.01M1471.3 1094.7h.01M1629.8 964.5h.01M462.3 700.1h.01M1426.5 1012.7h.01M456.9 1059.3h.01M1248.6 1106.4h.01M1201.6 284.8h.01M1091.4 1095.1h.01M915.6 293.9h.01M1353.5 1105.8h.01M1101.2 327.9h.01M1028.4 281.1h.01M609.4 583.8h.01M784.4 320.3h.01M1219.3 510.2h.01M1649 913.2h.01M894.2 304.5h.01M736.2 346.6h.01M1673.1 903.6h.01M1540.9 874.5h.01M1225.8 452h.01M1450 918.1h.01M1201.6 296.1h.01M1577.5 950h.01M1296.4 767.4h.01M1366.6 761.6h.01M1031.6 1134.9h.01M1270.3 326.1h.01M1076.7 716.3h.01M536.2 786.4h.01M1459 1004.1h.01M1364.6 712.8h.01M479.2 1101.6h.01M1249.2 932.5h.01M608.6 587.3h.01M450.3 1053.7h.01M1385 723.9h.01M1220.8 425h.01M1563 1019.8h.01M1182.5 883.1h.01M1599.4 938.2h.01M466.6 675.1h.01M1239.7 529.2h.01M1323.8 513.6h.01M1295.1 754.7h.01M1169.5 827.2h.01M1277.1 971.9h.01M1519.5 1124.7h.01M1424.2 727.9h.01M1386.1 692.5h.01M1123.8 430.9h.01M1308.1 396h.01M1150.5 441.9h.01M1357.2 645.8h.01M464.7 1076.9h.01M1474.4 925.9h.01M1271.3 1041.1h.01M1207.8 413.8h.01M1318.8 555h.01M1173.9 258h.01M1403.5 696.3h.01M1531.4 1017.3h.01M1052 308.4h.01M819.9 337.9h.01M1094.1 262.8h.01M452.3 721.5h.01M1423.8 686h.01M1194.3 371.1h.01M439.8 731h.01M985.2 270.9h.01M1399.1 966.7h.01M1283.2 417.5h.01M1162.9 257.1h.01M1035.5 350.4h.01M409.8 747h.01M432.5 745h.01M1195 360.6h.01M1549.5 1150.5h.01M468.9 1091.9h.01M1070.8 330.6h.01M574.6 642.7h.01M575.2 661.9h.01M1507.3 1022.2h.01M1409.5 953h.01M1537.4 1120h.01M483.1 703.6h.01M1639.8 883.4h.01M507 1134.7h.01M1630.5 906.3h.01M476.1 1097.7h.01M457.9 1052.4h.01M1298 706.2h.01M978.9 371.7h.01M439.6 698.4h.01M1220.8 442.9h.01M1570.3 882.9h.01M1543 1025.7h.01M1365.2 968.3h.01M1229.4 529.6h.01M1611.8 953.6h.01M1044.6 278.3h.01M1152 367.4h.01M845.5 382.3h.01M1181.9 414.5h.01M811.9 293.6h.01M519.8 1163.9h.01M1425.6 672.1h.01M1254.8 316.8h.01M1354.8 997.1h.01M1412.8 660.1h.01M631.7 660h.01M1490.5 927.4h.01M1418.3 1126.2h.01M1521.2 919h.01M1031 315h.01M900.5 1202.2h.01M1158.9 398.4h.01M1445.4 862.3h.01M1064.4 1096.2h.01M455.8 1060.6h.01M554.5 845.2h.01M695 630.2h.01M1360.4 927.2h.01M1442.2 952.1h.01M1604.9 897.3h.01M1427.6 1026.6h.01M1577.6 892.4h.01M1150.8 343.8h.01M1442.1 1173.5h.01M1286.2 658.9h.01M599.8 715.5h.01M466 1084.9h.01M1073.2 245.3h.01M1146.7 1097.6h.01M966.7 395.4h.01M1413.3 911.3h.01M1152.2 318.5h.01M1511.3 964.6h.01M1519.5 873h.01M1186.5 324.4h.01M1508.5 1055.2h.01M1028.3 277.2h.01M1068.3 715.8h.01M1466.9 849.3h.01M613.4 555.9h.01M1334.8 799.8h.01M988.7 403.1h.01M468.3 1086.6h.01M1058.5 368.8h.01M1421.4 658h.01M1381.3 927.2h.01M1212.3 399h.01M600.7 621.6h.01M611.3 694.7h.01M1294 806.9h.01M1568.1 1058.2h.01M1508 921.3h.01M1344.7 668.8h.01M1102.1 262.7h.01M1061.1 320h.01M1511.7 1043.6h.01M1360.8 801.7h.01M1483.2 921.9h.01M455.6 1054.4h.01"/>
<path stroke="#B63679" d="M1078 758.9h.01M634.2 681.3h.01M1285.1 458.2h.01M1066.1 941.5h.01M1210.2 374.3h.01M1430.9 1147h.01M455.7 656.7h.01M1399.2 664.2h.01M413.8 714.8h.01M1309.1 565.2h.01M1303.9 1063.9h.01M614.2 804.4h.01M448.3 729.7h.01M1288.6 598h.01M1332.3 1016.5h.01M1162 374h.01M1545.7 937.2h.01M591.4 797.6h.01M586.5 762.9h.01M1454.6 1073.4h.01M1008.3 302.3h.01M798.3 320.5h.01M1541.2 914.4h.01M658.9 721.7h.01M1328.1 744h.01M1530.4 1054.1h.01M1442.9 889h.01M1647.3 963.2h.01M1290.4 525.2h.01M1476.3 1080.9h.01M1033.3 364.5h.01M496.2 708.3h.01M853.3 367.8h.01M1383.8 657.3h.01M1368.2 1098.1h.01M357.3 640.2h.01M1267.6 530.7h.01M1304.8 684.7h.01M1474 1088.1h.01M1650.5 950.2h.01M1455.1 1154.3h.01M1143.2 412.4h.01M1086.4 397h.01M1470.5 1157.9h.01M1063.4 1078.8h.01M587.9 677.9h.01M1431.9 1116.3h.01M1387.3 1063.6h.01M1521.2 1157.9h.01M1415 1156.9h.01M1197.1 537.8h.01M1294.5 807.7h.01M1158 277.9h.01M1340.8 1108.7h.01M1548.3 948.1h.01M1409 933.1h.01M582.9 766.3h.01M1332.2 364.2h.01M565.4 642h.01M1395.3 977.2h.01M1597.4 918.9h.01M1423.9 1080.2h.01M1065.7 1149.5h.01M606.2 601.9h.01M1048.2 929.4h.01M1521.3 1068.7h.01M1412.8 1120.6h.01M1357.2 895.4h.01M1504.3 1120.4h.01M1410.2 1163.1h.01M1132.1 505.1h.01M1504.8 864.6h.01M1071.1 922.3h.01M1417.7 1169.9h.01M1311.4 1042.7h.01M1601.8 1053.7h.01M1031.2 285.2h.01M1234.1 507.5h.01M1038.2 1093.1h.01M1435.9 1004.4h.01M1529.1 1031.4h.01M1302.6 751h.01"/>
<path stroke="#F9795D" d="M1317.3 1032.7h.01M1266.1 1003.9h.01M1399.6 814.3h.01M1192.1 526.9h.01M1358.4 753.3h.01"/>
<path stroke="#E85362" d="M1425.4 1054.7h.01M1419.8 1081.7h.01M1499.1 1042.9h.01M1156.7 525.1h.01M1166.4 483.4h.01M1430.9 1009.6h.01M1170.8 785.3h.01M1334.7 1051h.01M1388.5 1077h.01M1406.2 1138.5h.01M1550.2 1069.3h.01M1622.5 893.9h.01M1382.8 836.3h.01M1279.2 974.5h.01M1018.6 1142h.01"/>
<path stroke="#FEA772" d="M1323.9 694.3h.01M1097.2 1069.6h.01"/>
<path stroke="#6B1D81" d="M1456.5 839.7h.01M1391.6 818.3h.01M1245.2 904h.01M1567.5 1081.6h.01M1580.7 902.5h.01M1556.1 1020.8h.01M890.3 1208.3h.01M1635.5 960h.01M1440.1 1118.7h.01M1432.9 704.1h.01M1107 422.1h.01M1371.4 1052.8h.01M1365.9 1045.2h.01M1247.3 1083.9h.01M1351.3 955.8h.01M1380.7 937.4h.01M1145.5 1113.8h.01M1055.6 285.2h.01M1310.1 467.1h.01M1450.2 1108.4h.01M1392.5 932.2h.01M1369.2 646.8h.01M600 827.8h.01M1356.5 1066.3h.01M1393.7 740.9h.01M1390.5 686.4h.01M1516.5 909.8h.01M1506.9 975.6h.01M1422.3 837.3h.01M1234.6 414h.01M1038.4 922.3h.01M1591.8 976.2h.01M1132.4 284.8h.01M1519.2 858.9h.01M1361.6 858.7h.01M947.1 300.4h.01M1512.3 916.2h.01M1448.4 858.8h.01M1446.3 984.2h.01M1460.4 1176.9h.01M877.9 1178.1h.01M1362.2 738.2h.01M1387.7 772.9h.01M1242.6 978.5h.01M1342 809.9h.01M1478.3 1052.2h.01M470.7 1056.3h.01M1072.6 919.1h.01M1232.1 313h.01M1021.9 348.1h.01M1638.3 967.3h.01M1442.6 975.9h.01M1114.5 344.5h.01M1119.2 402.8h.01M1411.7 840.9h.01M1365.9 955.6h.01M1418.7 1128.1h.01M1286.1 1069.3h.01M1331.3 731h.01M684.3 623.3h.01M1038.1 703.3h.01M1312 411.4h.01M1363.4 724.5h.01M1076.7 961.1h.01M984.2 322.7h.01M455.3 1010.7h.01M1071 295.9h.01M1163.2 365.1h.01M1630.4 959.2h.01M625.2 641.6h.01M1468.9 1123.6h.01M1468.2 1053.8h.01M1066.3 943.7h.01M1607.2 1021.1h.01M1661 908.3h.01M1087.2 336h.01M1603 930.1h.01M1220.6 506.7h.01M1329.3 1042.3h.01M1594.5 1004.3h.01M1502.2 933h.01M1268.3 951.9h.01M1405.9 1017.3h.01M1125 1047.5h.01M1081.9 933.4h.01M1132.9 267.2h.01M1369.7 1034.4h.01M1590.2 884.5h.01M1276.4 464.3h.01M1279.3 514.6h.01M884.1 1198.8h.01M1180.7 327.8h.01M1205.9 501.1h.01M1290.4 412.4h.01M930.5 295.2h.01M1464.9 889.5h.01M1440.6 874.9h.01M1104.4 1063.6h.01M1177.8 1093.8h.01M1183.3 255.5h.01M1687.2 914.2h.01M1456.5 867.5h.01M1502.8 1052.9h.01M1382.3 1026.2h.01M1362.7 1022.9h.01M959.6 308.2h.01M1144.7 1096.9h.01M1404.1 791.6h.01M1140.8 356.1h.01M1277.1 1067.8h.01M1272.8 492.7h.01M760.5 623.8h.01M1413.7 923.3h.01M1067.8 334.7h.01M1465.5 822.7h.01M1414 971.1h.01M1450.4 1172h.01M1568.6 1058.8h.01M809.1 326h.01M574.4 764.2h.01M1277.6 797.4h.01M576 763.3h.01M1042.6 1076h.01M1419.1 1053.7h.01M1592.7 858.5h.01M1191.6 470.1h.01M1446.6 1014.4h.01M1329.1 732.1h.01M1261 761.8h.01M1163.6 372h.01M1287.6 388.6h.01M1414.6 652.9h.01M1031.1 250.6h.01M1420.3 1031.9h.01M988.8 255h.01M1528.4 1037.4h.01M1238.8 895.7h.01M1118.2 1048.6h.01M584.9 766.9h.01M1103.5 449h.01M1297.9 334.1h.01M1700 882.7h.01"/>
<path stroke="#000004" d="M487.3 1096h.01M413.4 751.1h.01M896.3 1180.8h.01M1510.3 960.4h.01M1139.7 979.3h.01M888.3 1196.5h.01M1454.7 1138.2h.01M979.8 303.9h.01M919 1184.4h.01M611.7 757.1h.01M1243.7 316.4h.01M1260.5 298.1h.01M951.1 278.9h.01M1399.1 912.7h.01M747.8 343.2h.01M1572.5 985.3h.01M1562.7 954.4h.01M729.1 630.7h.01M355.8 632.8h.01M1239.5 487.4h.01M1050.4 342h.01M1216 434.7h.01M1143.5 377.5h.01M1301.8 1040.6h.01M1239.4 924.5h.01M1426 684.3h.01M943.8 311.6h.01M1368.8 1086.6h.01M1207.7 1094.3h.01M1527.8 857.2h.01M865.2 1175.7h.01M1226.3 1095.6h.01M503.8 1135.9h.01M1504.2 1101.8h.01M1268.2 905.8h.01M1631.7 878.7h.01M1297.3 342.5h.01M1323.6 479.3h.01M1159 495.7h.01M1133.4 501.5h.01M1184.2 349.6h.01M406.7 741h.01M1295.4 692.2h.01M914.8 357.6h.01M1381.3 785.2h.01M521.2 791.7h.01M1210.8 1007.4h.01M1252.7 398.3h.01M1475 1174.9h.01M1268.5 1066.7h.01M1503.1 917.5h.01M1505.8 947.6h.01M1445.6 861.5h.01M1583.1 951h.01M1465.7 820.3h.01M940.9 310.5h.01M1395.4 1086.3h.01M1077.3 401.3h.01M1588.7 1045.8h.01M1627 913.5h.01M1414.6 1086.4h.01M460.9 709.5h.01M1530.9 840.9h.01M1658.8 899.7h.01M1208.5 453.1h.01M470.6 1091.9h.01M1440.7 896.4h.01M1362.4 953h.01M1682.7 969.6h.01M1356.8 951.6h.01M1454.9 777.3h.01M1352.8 912.1h.01M1386.8 1109.1h.01M384.3 661.9h.01M1230.9 508.3h.01M1598.6 1052.7h.01M436 751.9h.01M1361.4 1087h.01M422.5 660.7h.01M1498.7 913.9h.01M1594.8 962h.01M1501.7 1128.5h.01M1066.3 744.4h.01M1221 534.6h.01M1273.5 478.8h.01M497.2 1122.2h.01M1163.3 795h.01M1330.6 1018.2h.01M1543.6 1055.8h.01M1117.3 386.4h.01M804.6 331.9h.01M1439.2 1044.1h.01M1203.9 380.9h.01M1099.4 421h.01M1508.2 1090h.01M1069 345.6h.01M1254.5 633.3h.01M1247.2 1092.5h.01M1018.3 643.8h.01M581.9 639.3h.01M1084.1 1099.5h.01M1306.7 535.2h.01M472 1094.5h.01M591.3 667.6h.01M1561.8 943.4h.01M1327.9 728.9h.01M604.5 695.7h.01M1256.3 957.4h.01M1202.6 291.1h.01M1287.4 1056.4h.01M1255.3 953.1h.01M1401 1035h.01M1573 942h.01M1409.9 871.6h.01M1249.7 363.5h.01M1554.6 1147.2h.01M1437.5 1167.4h.01M857.5 367.2h.01M1190.4 299.9h.01M725.9 636.4h.01M605.7 694.4h.01M1554.2 1113.7h.01M1390.9 701.4h.01M1338.8 964.3h.01M506.8 1133.2h.01M1145.3 376h.01M844.7 302.8h.01M624.5 652.4h.01M1143.2 365.6h.01M1289.1 798.1h.01M421 654.9h.01M600.9 646.2h.01M1565.8 962.8h.01M1259.3 764.4h.01M951.7 654.2h.01M1672.5 906.6h.01M1467.9 872.1h.01M1279.5 893.7h.01M498 1116.3h.01M1375.3 722.6h.01M591.4 658.2h.01M1388 1015.7h.01M1547.3 1109.3h.01M838.8 322.1h.01M1261.3 581.5h.01M1248.7 444.4h.01M864 1150.5h.01M450.6 707.7h.01M1515.2 910.8h.01M1355.4 858.2h.01M1319.3 483.4h.01M1503.1 962.9h.01M1164 465.7h.01M1437.6 680.5h.01M1316.8 817.6h.01M594.7 704.6h.01M1486.6 996h.01M899.7 279.8h.01M1443.4 971.1h.01M468.8 1089.1h.01M1351.2 685.9h.01M1013.1 1120.8h.01M535.2 757.5h.01M424.7 741.3h.01M1303.9 538.2h.01M1479.8 812.3h.01M1490 967.4h.01M1378.5 1111.3h.01M1142.2 405.8h.01M1554.9 899.3h.01M1348.3 642.9h.01M1553.4 1040.7h.01M1436.8 685.7h.01M1151.3 458.8h.01M1262.4 299.8h.01M627.1 584.5h.01M1569.3 1059.2h.01M1391.7 990.6h.01M1448.8 1041.1h.01M1584.9 1077.7h.01M1326.5 478h.01M528.8 772.6h.01M829.4 346.4h.01M906.1 276.6h.01M1348.3 923.9h.01M1363.1 1012.9h.01M1324 733.2h.01M1317.2 338.3h.01M603.6 698.9h.01M1550.6 1094h.01M1375 771.6h.01"/>
<path stroke="#B63679" d="M1222.9 1048.2h.01M1265.2 1101h.01M548.6 686.9h.01M1353.5 932h.01M1529.5 1117.7h.01M1406.1 937.3h.01M1058 718.5h.01M1531 1128.7h.01M1252.9 1000.9h.01M1210.6 1063.2h.01M1524 1140.4h.01M1571.2 851h.01M1402.2 785.4h.01M1413.2 1125.1h.01M1098.5 290.9h.01M1297.8 1059.1h.01M864.2 1176h.01M839.4 310.3h.01M1519.1 1047.2h.01M1531.9 1062.6h.01M1166.3 1102.7h.01M1461.6 990h.01M1117.1 332.9h.01M1317.9 697h.01M1532.2 1063h.01M1320 798.1h.01M416.1 715.3h.01M1488.9 1040.4h.01M1621.1 898.4h.01M592.1 683.7h.01M1043.7 916h.01M1520 1071h.01M1024.7 633.3h.01M1504.9 1085.7h.01M1225.6 455.2h.01M1349.5 718.9h.01M1281.6 1075.6h.01M629.3 666.4h.01M1599.8 955.5h.01M1474.4 1139.7h.01M1306.9 730.2h.01M1571.8 1061.6h.01M1419.6 1029.3h.01M1473.9 824.7h.01M609.9 819.5h.01M1359 998.2h.01M1470.3 752.1h.01M1497.9 1140.7h.01M1524.9 906.9h.01M1503.5 837.9h.01M417.9 716.7h.01M567.2 856h.01M1256.7 771.1h.01M1127.7 1111.4h.01M1367.2 729.1h.01M1266.1 832.8h.01M1353.8 963.2h.01M1262.6 893h.01M882.2 1181.5h.01M1378.5 858.5h.01M1496.7 943.7h.01M1401.2 1117h.01M976.2 337.2h.01M1436.2 891.5h.01M1279.1 334.8h.01M1394.7 1147.7h.01M1653.3 884.9h.01M603.6 833.8h.01M1518.7 1044.6h.01M1467.5 995.7h.01"/>
<path stroke="#E85362" d="M644.3 742.1h.01M1492.7 909.4h.01M1177.7 317h.01M1334.8 1071.6h.01M1380.2 1002.3h.01M1663.9 980.6h.01M1526.7 942h.01M1399.9 843.4h.01M1339.9 986.9h.01M1522.7 964h.01M1323.6 685.4h.01M1355.7 1024.9h.01M1123 1079.6h.01M1409.5 908.4h.01M627.9 715h.01M1034 1150.3h.01"/>
<path stroke="#FEA772" d="M1269.9 1036.4h.01M1118.4 1042.2h.01M1036.8 702.9h.01M600 679.6h.01"/>
<path stroke="#F9795D" d="M1028.2 1105.7h.01M1154.7 831h.01M733.8 631.3h.01M1314.8 681h.01M1338.8 675.7h.01"/>
<path stroke="#FDD49A" d="M1518 993.7h.01"/>
<path stroke="#E85362" d="M1114.3 387.6h.01M1459.6 848.7h.01M1421 941.2h.01M1622.4 914.1h.01M1281.3 788.1h.01M1301 766.1h.01M1016.5 1120.7h.01M1534.3 1149.9h.01M1341.3 697.5h.01M1431.2 978.1h.01M1526.1 897h.01M1431.8 1148.9h.01M1461.5 1153.3h.01M1439.1 917.5h.01M1308.7 324.7h.01M1411.1 1063.6h.01M1469.3 1052.5h.01M1357.6 1104.1h.01M1212.6 568.5h.01M1316.2 817.7h.01M964.5 275.1h.01M1476.8 991.8h.01M1472.9 912.9h.01M1495.7 953.1h.01M1305.8 959.1h.01M1388 1030.7h.01M1315.9 590.8h.01M1635.3 1000.1h.01M1545.7 1150.4h.01"/>
<path stroke="#6B1D81" d="M1240.7 947.3h.01M1079.1 243h.01M1133.2 952.7h.01M1011 280.6h.01M1082.5 709.5h.01M874 1208.7h.01M1374 873.3h.01M1159.9 416.1h.01M619.5 799.8h.01M865 332.5h.01M1530.7 917.4h.01M1174 499.1h.01M865.2 1182.2h.01M1042.7 705.3h.01M1279.8 738.1h.01M1537.4 1107.9h.01M817.9 299.8h.01M1148 323.5h.01M1123.1 461.1h.01M1482.5 1066.7h.01M1155.5 383.4h.01M990.2 355.1h.01M1212.1 420.3h.01M1458.2 1156.5h.01M1528.9 1162.4h.01M1401.4 979.2h.01M1383.2 1133.6h.01M1296 318.2h.01M1290.9 387.3h.01M1564.4 1097.7h.01M1022.6 296.1h.01M1597.3 1078.8h.01M1243 517.7h.01M1133.3 323.1h.01M1077.9 308.4h.01M1557 972.1h.01M1034 256.4h.01M1032.4 300.4h.01M1239.1 894.1h.01M1171.1 306.8h.01M1293.6 695.6h.01M1451.6 864.3h.01M1425.1 1091.3h.01M1296.2 531.5h.01M897.7 279.6h.01M947.9 1176.7h.01M1283.7 1059.2h.01M1065 960.1h.01M583.7 750h.01M1208.4 439.4h.01M1266 334.4h.01M1373.7 913.9h.01M1290.4 746.6h.01M1518.6 1042.8h.01M975.9 291.1h.01M1583.8 894.5h.01M1572 1082.5h.01M1312.6 711.1h.01M1577.7 1012.2h.01M1111.1 275.2h.01M1402.6 661.6h.01M1317.7 638h.01M1365.7 981.3h.01M1206.6 279.5h.01M1096.8 397.4h.01M811.3 339.5h.01M1153.2 470.9h.01M1516.1 939.2h.01M1417.8 992.9h.01M533.5 767.9h.01M1604.5 965.2h.01M1418.5 1041.2h.01M1360.7 751.3h.01M1068.3 349.9h.01M578.5 762.2h.01M1193.9 346.9h.01M1081.4 959.1h.01M853.7 1174.3h.01M883.3 1189.8h.01M1066.1 739.2h.01M1154.3 1103.3h.01M1139.8 511.4h.01M1416 943.8h.01M1340.4 1097.2h.01M1167.3 424.4h.01M1362.3 947.7h.01M1141.6 978.2h.01M587.8 748.2h.01M1187.3 399.9h.01M619.3 799.4h.01M1485.4 927.7h.01M1420.1 1072h.01M1265 488.5h.01M1478.6 849.9h.01M1259.4 465.6h.01M1278.9 752.4h.01M1324 1011.6h.01M1074.9 377h.01M847.4 365.7h.01M1398.5 1151.1h.01M1574.1 948h.01M1127.8 509.5h.01M1104.1 399.7h.01M602.6 829.4h.01M1653.1 981h.01M1415.9 991.8h.01M582.2 753.1h.01M1225.4 499.1h.01M1546.8 1097.4h.01M1282.2 799.9h.01M1599.7 906.7h.01M1279.8 423h.01M1609.3 951.5h.01M1317.8 635.4h.01M674.7 721.8h.01M1218.5 1078h.01M1091.8 419.5h.01M1316.9 515.4h.01M1137.9 323.3h.01M1401.3 967.7h.01M1223.2 422.2h.01M1210.4 303.5h.01M1365.2 993.6h.01M1325.7 918.2h.01M1074.9 315.7h.01M1086.2 1122.1h.01M1388.7 666.9h.01M1253.3 447h.01M1047.8 729.7h.01M1544.8 966.9h.01M1435.9 1173h.01M1381.9 869.1h.01M1147.9 404.8h.01M991 243.7h.01M1362.1 846h.01M1407.3 942.8h.01M1398.9 841.6h.01M1183.9 478.2h.01M1102.8 440.9h.01M1178.3 382h.01M1585.4 1100.8h.01M583.6 851.3h.01M993.2 325.4h.01M1264.5 397.4h.01M1540.7 895.9h.01M461.6 714.3h.01M1641.7 972.6h.01M1179.1 867.2h.01M1506 860.8h.01"/>
<path stroke="#000004" d="M1273.3 346.6h.01M379.5 664.3h.01M1360 901.7h.01M1063.3 704.2h.01M911.5 268.8h.01M1233.2 280.4h.01M747.1 344.6h.01M1120.4 308.4h.01M1399 1063.1h.01M1313.2 785.8h.01M1378.9 1088.3h.01M1539.6 1148.1h.01M1322.8 1012.9h.01M1281.8 361.4h.01M1510.5 1054.8h.01M1313.3 373.7h.01M1026.1 706.4h.01M1420 1160.5h.01M1310.1 478.8h.01M1150.2 1098.1h.01M935 676.2h.01M1211.7 468.9h.01M543.8 730.5h.01M1660.8 972.1h.01M1312.8 610.3h.01M1166.3 261.8h.01M1347.6 624.3h.01M1163.3 986.7h.01M1069.2 323.5h.01M1525.8 922.4h.01M590.1 671.5h.01M1133.4 347h.01M1044.8 711.2h.01M1436.1 1152h.01M1575 942.2h.01M1417.6 657h.01M1436.3 1014.5h.01M1643 982.5h.01M561.7 657.1h.01M1577.7 885.4h.01M1519.7 1165.9h.01M1046.9 321.1h.01M1313.1 523.9h.01M1267.6 908.4h.01M1021 411.5h.01M1509 1063h.01M1117.2 477h.01M1275.5 425h.01M1269.8 938.2h.01M1172.3 1086.8h.01M1383.1 931h.01M751.2 339.4h.01M1325.7 596.2h.01M1431.2 1104.3h.01M1130.9 1054h.01M1397.3 1147.1h.01M577.9 850.8h.01M535.5 744h.01M1412.1 897.1h.01M565.9 855.2h.01M1588.9 956.5h.01M1369.2 680.3h.01M1446.8 1176.3h.01M1363 801h.01M1564.5 1134.6h.01M1566.4 1002.4h.01M1349.3 1012.5h.01M1316.5 325h.01M1125 314.8h.01M1310.1 972h.01M1284.9 615.3h.01M1272.8 756.2h.01M1576.1 1065h.01M1205.4 347.5h.01M977.8 429.3h.01M1365.7 641.4h.01M1672.8 965.9h.01M1441.1 763.6h.01M1165 784.2h.01M1362.5 681.3h.01M620.4 658h.01M420.6 686.6h.01M971.6 294.5h.01M553.9 632.5h.01M1340.4 805.1h.01M1033.9 313.7h.01M1147.4 459.8h.01M1584.9 1050.8h.01M1023.5 375.7h.01M1265.3 1095.2h.01M1195.2 930.1h.01M1425.4 860h.01M501.4 1130.6h.01M1528 985.2h.01M1646 886.7h.01M1238.5 529.6h.01M522.2 1160h.01M1450.5 1107.6h.01M1446.9 744.8h.01M428.1 707.9h.01M1320 1092.8h.01M1070.8 286.4h.01M1045 243.7h.01M1462.6 905.5h.01M559.8 622.6h.01M1008 280.4h.01M1087.7 324h.01M1543.1 950.2h.01M631.4 700.8h.01M1495.3 928.2h.01M1442.5 1053.7h.01M933.7 394.1h.01M1633.7 924h.01M1455.8 863.9h.01M1542.5 1018.1h.01M1186.4 1100.8h.01M1001.7 1164.8h.01M1555.3 867.2h.01M1299.4 786.7h.01M1106.8 395.6h.01M586.6 655.7h.01M595.4 600.9h.01M1248.8 346.9h.01M1168.8 880.4h.01M1136.3 309.1h.01M1538.1 1015.5h.01M356 632.8h.01M1249.6 315.8h.01M605.2 683.7h.01M1557.2 1078.5h.01M1310.2 940.5h.01M1446.9 984.7h.01M1056.2 1105.1h.01M1180 255.2h.01M1551.8 1138h.01M593.6 651.5h.01M418.4 731.1h.01M648.6 586.2h.01M1321.2 673.5h.01M1446 727.5h.01M1611.4 874.5h.01M429.3 678.8h.01M1239.5 381.2h.01M556.9 766.7h.01M945.3 276.9h.01M1289.7 780.1h.01M608.3 679.4h.01M1382.6 714.9h.01M1480.3 878.4h.01M1536.2 961.4h.01M1150.8 526.6h.01M1388.1 942.4h.01M1205 349.3h.01M1603.1 947.9h.01M1369.9 724.5h.01M977.8 258.9h.01M1168.1 470.8h.01M1624.4 1002.5h.01M1117.3 960.7h.01M585.7 634.9h.01M1583.5 1081.2h.01M1145.1 441.6h.01M1430.8 978.8h.01M1187.9 287.7h.01M1332.7 906h.01M1279.6 883.7h.01M1423.3 1122.6h.01M1229 334.4h.01M1346.6 858.7h.01M598.3 702h.01M1359.6 781h.01M1325.5 768.4h.01M1005.5 320.5h.01M1182 431.2h.01M1506.9 1066h.01M1269.1 793.8h.01M1351.1 945.8h.01M1694.7 938.2h.01M618.6 800.6h.01M999.2 654.5h.01M594 663.8h.01M1406.3 668.9h.01"/>
<path stroke="#B63679" d="M1530.8 854.7h.01M1468 834.3h.01M1378.4 1116.9h.01M1280.5 762.5h.01M1027 361.5h.01M970.4 250.3h.01M1152.7 1102.9h.01M1536.5 1135.8h.01M1317.2 383.1h.01M716.6 635.1h.01M764.8 330.7h.01M1312.8 599.1h.01M435.2 700.6h.01M1172.7 872h.01M1409.9 683h.01M914.9 380.9h.01M1488.8 998.6h.01M1443.1 697.8h.01M1396.1 732.5h.01M1409.3 1138.2h.01M644.2 685.6h.01M1078.3 328.6h.01M604.2 608h.01M1455.9 993.3h.01M1203.3 468.5h.01M1106.4 321h.01M1630.9 990.3h.01M604 811.7h.01M1604.4 948.7h.01M803.1 328.4h.01M1303.4 1114.2h.01M1202.4 1093.8h.01M1061.7 708.3h.01M1273.3 872.3h.01M1531.9 1095.4h.01M1571.7 1093.3h.01M1190 258h.01M1277.3 534.2h.01M1426.9 1029.1h.01M1324.9 762.3h.01M1559.8 1109.6h.01M1582.4 1107.7h.01M1643.1 880.2h.01M1577.6 1011.4h.01M1291 428h.01M1083.2 302.6h.01M1252.7 910.7h.01M1534.8 1009.2h.01M1235.3 1077.4h.01M1508.8 968.7h.01M1174.1 267.4h.01M1473.7 844.1h.01M1234.3 923h.01M1295.5 1050.9h.01M1431.7 1161.3h.01M1390.1 1017.6h.01M1398.3 986h.01M1370.1 1118.1h.01M1485 1011.7h.01M1265.6 912.4h.01M1210.5 279h.01M1412.6 771.6h.01"/>
<path stroke="#F9795D" d="M1529.4 895.8h.01M1322.8 958.2h.01M1375.5 734.5h.01M1216.5 1087.3h.01M1360.1 1032.3h.01M1582 916.1h.01"/>
<path stroke="#FEA772" d="M1321.9 619.4h.01"/>
</g>
<g stroke="#000" stroke-width="4.6" fill="none">
<path d="M205.5 142.6V1305M203.2 1302.7H1829.1"/>
<path d="M191 263.5H203.2M191 592.3H203.2M191 921.1H203.2M191 1250H203.2"/>
<path d="M279.1 1305V1317M647.7 1305V1317M1016.3 1305V1317M1384.9 1305V1317M1753.5 1305V1317"/>
</g>
<text class="ti" text-anchor="middle" transform="translate(1017 101) scale(1 1.06)">DHX15</text>
<g class="tk" text-anchor="end">
<text transform="translate(177.8 281.3) scale(1 1.025)">10</text>
<text transform="translate(177.8 610.1) scale(1 1.025)">5</text>
<text transform="translate(177.8 938.9) scale(1 1.025)">0</text>
<text transform="translate(177.8 1267.7) scale(1 1.025)">-5</text>
</g>
<g class="tk" text-anchor="middle">
<text transform="translate(279.3 1367.2) scale(1 1.025)">-5</text>
<text transform="translate(647.9 1367.2) scale(1 1.025)">0</text>
<text transform="translate(1016.5 1367.2) scale(1 1.025)">5</text>
<text transform="translate(1385.1 1367.2) scale(1 1.025)">10</text>
<text transform="translate(1753.7 1367.2) scale(1 1.025)">15</text>
</g>
<text class="ax" text-anchor="middle" transform="translate(1017 1435) scale(1 1.06)">UMAP_1</text>
<text class="ax" transform="translate(95.2 722.5) rotate(-90) scale(1 1.06)" text-anchor="middle">UMAP_2</text>
<rect x="1885" y="578.3" width="64" height="318.9" fill="url(#mg)"/>
<g stroke="#fff" stroke-width="1.7" fill="none">
<path d="M1885 607.4h12.8M1936.2 607.4h12.8M1885 679.9h12.8M1936.2 679.9h12.8M1885 752.5h12.8M1936.2 752.5h12.8M1885 825h12.8M1936.2 825h12.8M1885 897.5h12.8M1936.2 897.5h12.8"/>
</g>
<g class="tk">
<text transform="translate(1977.5 626.2) scale(1 1.025)">2.0</text>
<text transform="translate(1977.5 698.7) scale(1 1.025)">1.5</text>
<text transform="translate(1977.5 771.2) scale(1 1.025)">1.0</text>
<text transform="translate(1977.5 843.7) scale(1 1.025)">0.5</text>
<text transform="translate(1977.5 916.2) scale(1 1.025)">0.0</text>
</g>
</svg>
</body>
</html>
